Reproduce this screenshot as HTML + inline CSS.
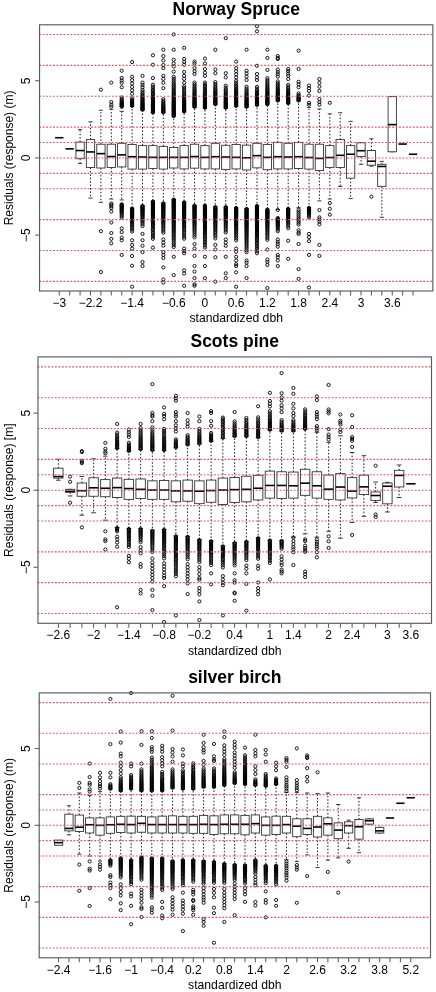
<!DOCTYPE html>
<html><head><meta charset="utf-8"><style>
html,body{margin:0;padding:0;background:#fff;width:436px;height:992px;overflow:hidden}
svg{display:block;font-family:"Liberation Sans", sans-serif;-webkit-font-smoothing:antialiased;will-change:transform}
</style></head><body>
<svg width="436" height="992" viewBox="0 0 436 992">
<g>
<path d="M80.09 142.06V129.55M80.09 158.73V163.36M90.5 139.59V121.83M90.5 167.53V198.1M100.9 144.22V110.25M100.9 167.99V202.27M111.31 144.22V109.32M111.31 167.53V199.03M121.71 143.29V111.33M121.71 166.91V199.96M132.12 144.53V106.39M132.12 169.08V208.14M142.52 145.61V110.25M142.52 169.08V205.51M152.93 145.61V112.87M152.93 168.46V201.04M163.33 146.38V112.87M163.33 169.08V202.89M173.74 147.46V116.58M173.74 167.99V199.18M184.14 145.61V111.95M184.14 168.92V201.96M194.54 144.22V107.32M194.54 168.15V205.21M204.95 145.61V108.24M204.95 168.92V205.21M215.35 143.29V104.69M215.35 168.92V206.59M225.76 145.3V108.24M225.76 169.38V206.59M236.16 144.53V106.39M236.16 168.92V207.52M246.57 145.14V107.32M246.57 170V208.45M256.98 143.29V105.46M256.98 167.84V205.51M267.38 144.53V104.69M267.38 169.69V209.22M277.78 142.36V100.99M277.78 168.92V209.53M288.19 143.29V103.61M288.19 168.92V208.45M298.6 142.36V100.99M298.6 168.46V207.68M309 144.22V107.47M309 169.08V207.52M319.4 144.22V109.01M319.4 170.47V200.88M329.81 145.61V113.95M329.81 167.53V199.03M340.22 139.59V112.72M340.22 167.53V186.37M350.62 145.61V121.37M350.62 178.19V198.41M361.02 142.83V142.52M361.02 156.57V164.29M371.43 150.55V138.81M371.43 165.22V166.14M381.84 164.29V161.36M381.84 186.37V217.25" stroke="#222" stroke-width="1" stroke-dasharray="1.6 1.8" fill="none"/>
<path d="M78.01 129.55H82.17M78.01 163.36H82.17M88.41 121.83H92.58M88.41 198.1H92.58M98.82 110.25H102.98M98.82 202.27H102.98M109.22 109.32H113.39M109.22 199.03H113.39M119.63 111.33H123.79M119.63 199.96H123.79M130.03 106.39H134.2M130.03 208.14H134.2M140.44 110.25H144.6M140.44 205.51H144.6M150.84 112.87H155.01M150.84 201.04H155.01M161.25 112.87H165.41M161.25 202.89H165.41M171.65 116.58H175.82M171.65 199.18H175.82M182.06 111.95H186.22M182.06 201.96H186.22M192.46 107.32H196.63M192.46 205.21H196.63M202.87 108.24H207.03M202.87 205.21H207.03M213.27 104.69H217.44M213.27 206.59H217.44M223.68 108.24H227.84M223.68 206.59H227.84M234.08 106.39H238.25M234.08 207.52H238.25M244.49 107.32H248.65M244.49 208.45H248.65M254.89 105.46H259.06M254.89 205.51H259.06M265.3 104.69H269.46M265.3 209.22H269.46M275.7 100.99H279.87M275.7 209.53H279.87M286.11 103.61H290.27M286.11 208.45H290.27M296.51 100.99H300.68M296.51 207.68H300.68M306.92 107.47H311.08M306.92 207.52H311.08M317.32 109.01H321.49M317.32 200.88H321.49M327.73 113.95H331.89M327.73 199.03H331.89M338.13 112.72H342.3M338.13 186.37H342.3M348.54 121.37H352.7M348.54 198.41H352.7M358.94 142.52H363.11M358.94 164.29H363.11M369.35 138.81H373.51M369.35 166.14H373.51M379.75 161.36H383.92M379.75 217.25H383.92M390.16 96.66H394.32M390.16 151.78H394.32" stroke="#222" stroke-width="0.9" fill="none"/>
<g fill="#fff" stroke="#333" stroke-width="0.9"><rect x="75.93" y="142.06" width="8.32" height="16.68"/><rect x="86.33" y="139.59" width="8.32" height="27.95"/><rect x="96.74" y="144.22" width="8.32" height="23.78"/><rect x="107.14" y="144.22" width="8.32" height="23.31"/><rect x="117.55" y="143.29" width="8.32" height="23.62"/><rect x="127.95" y="144.53" width="8.32" height="24.55"/><rect x="138.36" y="145.61" width="8.32" height="23.47"/><rect x="148.76" y="145.61" width="8.32" height="22.85"/><rect x="159.17" y="146.38" width="8.32" height="22.7"/><rect x="169.57" y="147.46" width="8.32" height="20.54"/><rect x="179.98" y="145.61" width="8.32" height="23.31"/><rect x="190.38" y="144.22" width="8.32" height="23.93"/><rect x="200.79" y="145.61" width="8.32" height="23.31"/><rect x="211.19" y="143.29" width="8.32" height="25.63"/><rect x="221.6" y="145.3" width="8.32" height="24.09"/><rect x="232" y="144.53" width="8.32" height="24.4"/><rect x="242.41" y="145.14" width="8.32" height="24.86"/><rect x="252.81" y="143.29" width="8.32" height="24.55"/><rect x="263.22" y="144.53" width="8.32" height="25.17"/><rect x="273.62" y="142.36" width="8.32" height="26.56"/><rect x="284.03" y="143.29" width="8.32" height="25.63"/><rect x="294.43" y="142.36" width="8.32" height="26.09"/><rect x="304.84" y="144.22" width="8.32" height="24.86"/><rect x="315.24" y="144.22" width="8.32" height="26.25"/><rect x="325.65" y="145.61" width="8.32" height="21.92"/><rect x="336.05" y="139.59" width="8.32" height="27.95"/><rect x="346.46" y="145.61" width="8.32" height="32.58"/><rect x="356.86" y="142.83" width="8.32" height="13.74"/><rect x="367.27" y="150.55" width="8.32" height="14.67"/><rect x="377.67" y="164.29" width="8.32" height="22.08"/><rect x="388.08" y="96.66" width="8.32" height="55.12"/></g>
<g stroke="#000" stroke-width="1.6"><line x1="55.12" y1="137.73" x2="63.44" y2="137.73"/><line x1="65.52" y1="148.85" x2="73.85" y2="148.85"/><line x1="75.93" y1="150.55" x2="84.25" y2="150.55"/><line x1="86.33" y1="151.94" x2="94.66" y2="151.94"/><line x1="96.74" y1="153.64" x2="105.06" y2="153.64"/><line x1="107.14" y1="156.57" x2="115.47" y2="156.57"/><line x1="117.55" y1="154.87" x2="125.87" y2="154.87"/><line x1="127.95" y1="156.72" x2="136.28" y2="156.72"/><line x1="138.36" y1="157.03" x2="146.68" y2="157.03"/><line x1="148.76" y1="157.34" x2="157.09" y2="157.34"/><line x1="159.17" y1="157.34" x2="167.49" y2="157.34"/><line x1="169.57" y1="157.34" x2="177.9" y2="157.34"/><line x1="179.98" y1="157.34" x2="188.3" y2="157.34"/><line x1="190.38" y1="156.57" x2="198.71" y2="156.57"/><line x1="200.79" y1="157.34" x2="209.11" y2="157.34"/><line x1="211.19" y1="156.72" x2="219.52" y2="156.72"/><line x1="221.6" y1="157.03" x2="229.92" y2="157.03"/><line x1="232" y1="157.34" x2="240.33" y2="157.34"/><line x1="242.41" y1="157.8" x2="250.73" y2="157.8"/><line x1="252.81" y1="155.64" x2="261.14" y2="155.64"/><line x1="263.22" y1="157.34" x2="271.54" y2="157.34"/><line x1="273.62" y1="156.72" x2="281.95" y2="156.72"/><line x1="284.03" y1="157.03" x2="292.35" y2="157.03"/><line x1="294.43" y1="156.72" x2="302.76" y2="156.72"/><line x1="304.84" y1="157.5" x2="313.16" y2="157.5"/><line x1="315.24" y1="158.42" x2="323.57" y2="158.42"/><line x1="325.65" y1="157.5" x2="333.97" y2="157.5"/><line x1="336.05" y1="155.33" x2="344.38" y2="155.33"/><line x1="346.46" y1="154.25" x2="354.78" y2="154.25"/><line x1="356.86" y1="150.7" x2="365.19" y2="150.7"/><line x1="367.27" y1="161.2" x2="375.59" y2="161.2"/><line x1="377.67" y1="166.45" x2="386" y2="166.45"/><line x1="388.08" y1="124.61" x2="396.4" y2="124.61"/><line x1="398.48" y1="144.06" x2="406.81" y2="144.06"/><line x1="408.89" y1="154.25" x2="417.21" y2="154.25"/></g>
<path d="M99.3 89.71a1.6 1.6 0 1 0 3.2 0a1.6 1.6 0 1 0 -3.2 0M99.3 231.14a1.6 1.6 0 1 0 3.2 0a1.6 1.6 0 1 0 -3.2 0M99.3 272.06a1.6 1.6 0 1 0 3.2 0a1.6 1.6 0 1 0 -3.2 0M109.71 82.61a1.6 1.6 0 1 0 3.2 0a1.6 1.6 0 1 0 -3.2 0M109.71 102.07a1.6 1.6 0 1 0 3.2 0a1.6 1.6 0 1 0 -3.2 0M109.71 104.69a1.6 1.6 0 1 0 3.2 0a1.6 1.6 0 1 0 -3.2 0M109.71 106.7a1.6 1.6 0 1 0 3.2 0a1.6 1.6 0 1 0 -3.2 0M109.71 203.51a1.6 1.6 0 1 0 3.2 0a1.6 1.6 0 1 0 -3.2 0M109.71 204.74a1.6 1.6 0 1 0 3.2 0a1.6 1.6 0 1 0 -3.2 0M109.71 206.29a1.6 1.6 0 1 0 3.2 0a1.6 1.6 0 1 0 -3.2 0M109.71 208.14a1.6 1.6 0 1 0 3.2 0a1.6 1.6 0 1 0 -3.2 0M109.71 211.54a1.6 1.6 0 1 0 3.2 0a1.6 1.6 0 1 0 -3.2 0M109.71 222.5a1.6 1.6 0 1 0 3.2 0a1.6 1.6 0 1 0 -3.2 0M109.71 233a1.6 1.6 0 1 0 3.2 0a1.6 1.6 0 1 0 -3.2 0M109.71 238.86a1.6 1.6 0 1 0 3.2 0a1.6 1.6 0 1 0 -3.2 0M109.71 243.34a1.6 1.6 0 1 0 3.2 0a1.6 1.6 0 1 0 -3.2 0M120.11 70.72a1.6 1.6 0 1 0 3.2 0a1.6 1.6 0 1 0 -3.2 0M120.11 77.98a1.6 1.6 0 1 0 3.2 0a1.6 1.6 0 1 0 -3.2 0M120.11 80.45a1.6 1.6 0 1 0 3.2 0a1.6 1.6 0 1 0 -3.2 0M120.11 82.77a1.6 1.6 0 1 0 3.2 0a1.6 1.6 0 1 0 -3.2 0M120.11 87.24a1.6 1.6 0 1 0 3.2 0a1.6 1.6 0 1 0 -3.2 0M120.11 106.85a1.6 1.6 0 1 0 3.2 0a1.6 1.6 0 1 0 -3.2 0M120.11 106.25a1.6 1.6 0 1 0 3.2 0a1.6 1.6 0 1 0 -3.2 0M120.11 105.65a1.6 1.6 0 1 0 3.2 0a1.6 1.6 0 1 0 -3.2 0M120.11 105.03a1.6 1.6 0 1 0 3.2 0a1.6 1.6 0 1 0 -3.2 0M120.11 104.38a1.6 1.6 0 1 0 3.2 0a1.6 1.6 0 1 0 -3.2 0M120.11 103.69a1.6 1.6 0 1 0 3.2 0a1.6 1.6 0 1 0 -3.2 0M120.11 102.95a1.6 1.6 0 1 0 3.2 0a1.6 1.6 0 1 0 -3.2 0M120.11 102.14a1.6 1.6 0 1 0 3.2 0a1.6 1.6 0 1 0 -3.2 0M120.11 101.23a1.6 1.6 0 1 0 3.2 0a1.6 1.6 0 1 0 -3.2 0M120.11 100.18a1.6 1.6 0 1 0 3.2 0a1.6 1.6 0 1 0 -3.2 0M120.11 98.95a1.6 1.6 0 1 0 3.2 0a1.6 1.6 0 1 0 -3.2 0M120.11 97.47a1.6 1.6 0 1 0 3.2 0a1.6 1.6 0 1 0 -3.2 0M120.11 204.28a1.6 1.6 0 1 0 3.2 0a1.6 1.6 0 1 0 -3.2 0M120.11 204.88a1.6 1.6 0 1 0 3.2 0a1.6 1.6 0 1 0 -3.2 0M120.11 205.48a1.6 1.6 0 1 0 3.2 0a1.6 1.6 0 1 0 -3.2 0M120.11 206.09a1.6 1.6 0 1 0 3.2 0a1.6 1.6 0 1 0 -3.2 0M120.11 206.72a1.6 1.6 0 1 0 3.2 0a1.6 1.6 0 1 0 -3.2 0M120.11 207.37a1.6 1.6 0 1 0 3.2 0a1.6 1.6 0 1 0 -3.2 0M120.11 208.04a1.6 1.6 0 1 0 3.2 0a1.6 1.6 0 1 0 -3.2 0M120.11 208.75a1.6 1.6 0 1 0 3.2 0a1.6 1.6 0 1 0 -3.2 0M120.11 209.51a1.6 1.6 0 1 0 3.2 0a1.6 1.6 0 1 0 -3.2 0M120.11 210.33a1.6 1.6 0 1 0 3.2 0a1.6 1.6 0 1 0 -3.2 0M120.11 211.22a1.6 1.6 0 1 0 3.2 0a1.6 1.6 0 1 0 -3.2 0M120.11 212.2a1.6 1.6 0 1 0 3.2 0a1.6 1.6 0 1 0 -3.2 0M120.11 213.3a1.6 1.6 0 1 0 3.2 0a1.6 1.6 0 1 0 -3.2 0M120.11 214.55a1.6 1.6 0 1 0 3.2 0a1.6 1.6 0 1 0 -3.2 0M120.11 215.98a1.6 1.6 0 1 0 3.2 0a1.6 1.6 0 1 0 -3.2 0M120.11 217.67a1.6 1.6 0 1 0 3.2 0a1.6 1.6 0 1 0 -3.2 0M120.11 228.37a1.6 1.6 0 1 0 3.2 0a1.6 1.6 0 1 0 -3.2 0M120.11 232.07a1.6 1.6 0 1 0 3.2 0a1.6 1.6 0 1 0 -3.2 0M120.11 237.63a1.6 1.6 0 1 0 3.2 0a1.6 1.6 0 1 0 -3.2 0M120.11 240.25a1.6 1.6 0 1 0 3.2 0a1.6 1.6 0 1 0 -3.2 0M120.11 254.92a1.6 1.6 0 1 0 3.2 0a1.6 1.6 0 1 0 -3.2 0M130.52 62.08a1.6 1.6 0 1 0 3.2 0a1.6 1.6 0 1 0 -3.2 0M130.52 93.73a1.6 1.6 0 1 0 3.2 0a1.6 1.6 0 1 0 -3.2 0M130.52 90.33a1.6 1.6 0 1 0 3.2 0a1.6 1.6 0 1 0 -3.2 0M130.52 86.93a1.6 1.6 0 1 0 3.2 0a1.6 1.6 0 1 0 -3.2 0M130.52 83.54a1.6 1.6 0 1 0 3.2 0a1.6 1.6 0 1 0 -3.2 0M130.52 80.14a1.6 1.6 0 1 0 3.2 0a1.6 1.6 0 1 0 -3.2 0M130.52 76.74a1.6 1.6 0 1 0 3.2 0a1.6 1.6 0 1 0 -3.2 0M130.52 105.93a1.6 1.6 0 1 0 3.2 0a1.6 1.6 0 1 0 -3.2 0M130.52 105.33a1.6 1.6 0 1 0 3.2 0a1.6 1.6 0 1 0 -3.2 0M130.52 104.72a1.6 1.6 0 1 0 3.2 0a1.6 1.6 0 1 0 -3.2 0M130.52 104.09a1.6 1.6 0 1 0 3.2 0a1.6 1.6 0 1 0 -3.2 0M130.52 103.42a1.6 1.6 0 1 0 3.2 0a1.6 1.6 0 1 0 -3.2 0M130.52 102.69a1.6 1.6 0 1 0 3.2 0a1.6 1.6 0 1 0 -3.2 0M130.52 101.87a1.6 1.6 0 1 0 3.2 0a1.6 1.6 0 1 0 -3.2 0M130.52 100.93a1.6 1.6 0 1 0 3.2 0a1.6 1.6 0 1 0 -3.2 0M130.52 99.82a1.6 1.6 0 1 0 3.2 0a1.6 1.6 0 1 0 -3.2 0M130.52 98.45a1.6 1.6 0 1 0 3.2 0a1.6 1.6 0 1 0 -3.2 0M130.52 208.6a1.6 1.6 0 1 0 3.2 0a1.6 1.6 0 1 0 -3.2 0M130.52 209.2a1.6 1.6 0 1 0 3.2 0a1.6 1.6 0 1 0 -3.2 0M130.52 209.8a1.6 1.6 0 1 0 3.2 0a1.6 1.6 0 1 0 -3.2 0M130.52 210.41a1.6 1.6 0 1 0 3.2 0a1.6 1.6 0 1 0 -3.2 0M130.52 211.02a1.6 1.6 0 1 0 3.2 0a1.6 1.6 0 1 0 -3.2 0M130.52 211.63a1.6 1.6 0 1 0 3.2 0a1.6 1.6 0 1 0 -3.2 0M130.52 212.26a1.6 1.6 0 1 0 3.2 0a1.6 1.6 0 1 0 -3.2 0M130.52 212.9a1.6 1.6 0 1 0 3.2 0a1.6 1.6 0 1 0 -3.2 0M130.52 213.55a1.6 1.6 0 1 0 3.2 0a1.6 1.6 0 1 0 -3.2 0M130.52 214.22a1.6 1.6 0 1 0 3.2 0a1.6 1.6 0 1 0 -3.2 0M130.52 214.91a1.6 1.6 0 1 0 3.2 0a1.6 1.6 0 1 0 -3.2 0M130.52 215.62a1.6 1.6 0 1 0 3.2 0a1.6 1.6 0 1 0 -3.2 0M130.52 216.36a1.6 1.6 0 1 0 3.2 0a1.6 1.6 0 1 0 -3.2 0M130.52 217.13a1.6 1.6 0 1 0 3.2 0a1.6 1.6 0 1 0 -3.2 0M130.52 217.94a1.6 1.6 0 1 0 3.2 0a1.6 1.6 0 1 0 -3.2 0M130.52 218.78a1.6 1.6 0 1 0 3.2 0a1.6 1.6 0 1 0 -3.2 0M130.52 219.68a1.6 1.6 0 1 0 3.2 0a1.6 1.6 0 1 0 -3.2 0M130.52 220.62a1.6 1.6 0 1 0 3.2 0a1.6 1.6 0 1 0 -3.2 0M130.52 221.63a1.6 1.6 0 1 0 3.2 0a1.6 1.6 0 1 0 -3.2 0M130.52 222.71a1.6 1.6 0 1 0 3.2 0a1.6 1.6 0 1 0 -3.2 0M130.52 223.87a1.6 1.6 0 1 0 3.2 0a1.6 1.6 0 1 0 -3.2 0M130.52 225.13a1.6 1.6 0 1 0 3.2 0a1.6 1.6 0 1 0 -3.2 0M130.52 226.51a1.6 1.6 0 1 0 3.2 0a1.6 1.6 0 1 0 -3.2 0M130.52 228.02a1.6 1.6 0 1 0 3.2 0a1.6 1.6 0 1 0 -3.2 0M130.52 229.68a1.6 1.6 0 1 0 3.2 0a1.6 1.6 0 1 0 -3.2 0M130.52 231.54a1.6 1.6 0 1 0 3.2 0a1.6 1.6 0 1 0 -3.2 0M130.52 240.25a1.6 1.6 0 1 0 3.2 0a1.6 1.6 0 1 0 -3.2 0M130.52 244.89a1.6 1.6 0 1 0 3.2 0a1.6 1.6 0 1 0 -3.2 0M130.52 248.59a1.6 1.6 0 1 0 3.2 0a1.6 1.6 0 1 0 -3.2 0M130.52 256a1.6 1.6 0 1 0 3.2 0a1.6 1.6 0 1 0 -3.2 0M130.52 265.73a1.6 1.6 0 1 0 3.2 0a1.6 1.6 0 1 0 -3.2 0M130.52 286.73a1.6 1.6 0 1 0 3.2 0a1.6 1.6 0 1 0 -3.2 0M140.92 75.82a1.6 1.6 0 1 0 3.2 0a1.6 1.6 0 1 0 -3.2 0M140.92 87.24a1.6 1.6 0 1 0 3.2 0a1.6 1.6 0 1 0 -3.2 0M140.92 84.93a1.6 1.6 0 1 0 3.2 0a1.6 1.6 0 1 0 -3.2 0M140.92 82.61a1.6 1.6 0 1 0 3.2 0a1.6 1.6 0 1 0 -3.2 0M140.92 109.79a1.6 1.6 0 1 0 3.2 0a1.6 1.6 0 1 0 -3.2 0M140.92 109.19a1.6 1.6 0 1 0 3.2 0a1.6 1.6 0 1 0 -3.2 0M140.92 108.58a1.6 1.6 0 1 0 3.2 0a1.6 1.6 0 1 0 -3.2 0M140.92 107.98a1.6 1.6 0 1 0 3.2 0a1.6 1.6 0 1 0 -3.2 0M140.92 107.37a1.6 1.6 0 1 0 3.2 0a1.6 1.6 0 1 0 -3.2 0M140.92 106.75a1.6 1.6 0 1 0 3.2 0a1.6 1.6 0 1 0 -3.2 0M140.92 106.11a1.6 1.6 0 1 0 3.2 0a1.6 1.6 0 1 0 -3.2 0M140.92 105.46a1.6 1.6 0 1 0 3.2 0a1.6 1.6 0 1 0 -3.2 0M140.92 104.8a1.6 1.6 0 1 0 3.2 0a1.6 1.6 0 1 0 -3.2 0M140.92 104.11a1.6 1.6 0 1 0 3.2 0a1.6 1.6 0 1 0 -3.2 0M140.92 103.39a1.6 1.6 0 1 0 3.2 0a1.6 1.6 0 1 0 -3.2 0M140.92 102.64a1.6 1.6 0 1 0 3.2 0a1.6 1.6 0 1 0 -3.2 0M140.92 101.85a1.6 1.6 0 1 0 3.2 0a1.6 1.6 0 1 0 -3.2 0M140.92 101.03a1.6 1.6 0 1 0 3.2 0a1.6 1.6 0 1 0 -3.2 0M140.92 100.15a1.6 1.6 0 1 0 3.2 0a1.6 1.6 0 1 0 -3.2 0M140.92 99.21a1.6 1.6 0 1 0 3.2 0a1.6 1.6 0 1 0 -3.2 0M140.92 98.21a1.6 1.6 0 1 0 3.2 0a1.6 1.6 0 1 0 -3.2 0M140.92 97.12a1.6 1.6 0 1 0 3.2 0a1.6 1.6 0 1 0 -3.2 0M140.92 95.94a1.6 1.6 0 1 0 3.2 0a1.6 1.6 0 1 0 -3.2 0M140.92 94.64a1.6 1.6 0 1 0 3.2 0a1.6 1.6 0 1 0 -3.2 0M140.92 93.21a1.6 1.6 0 1 0 3.2 0a1.6 1.6 0 1 0 -3.2 0M140.92 91.61a1.6 1.6 0 1 0 3.2 0a1.6 1.6 0 1 0 -3.2 0M140.92 89.81a1.6 1.6 0 1 0 3.2 0a1.6 1.6 0 1 0 -3.2 0M140.92 205.98a1.6 1.6 0 1 0 3.2 0a1.6 1.6 0 1 0 -3.2 0M140.92 206.58a1.6 1.6 0 1 0 3.2 0a1.6 1.6 0 1 0 -3.2 0M140.92 207.18a1.6 1.6 0 1 0 3.2 0a1.6 1.6 0 1 0 -3.2 0M140.92 207.78a1.6 1.6 0 1 0 3.2 0a1.6 1.6 0 1 0 -3.2 0M140.92 208.4a1.6 1.6 0 1 0 3.2 0a1.6 1.6 0 1 0 -3.2 0M140.92 209.02a1.6 1.6 0 1 0 3.2 0a1.6 1.6 0 1 0 -3.2 0M140.92 209.65a1.6 1.6 0 1 0 3.2 0a1.6 1.6 0 1 0 -3.2 0M140.92 210.3a1.6 1.6 0 1 0 3.2 0a1.6 1.6 0 1 0 -3.2 0M140.92 210.97a1.6 1.6 0 1 0 3.2 0a1.6 1.6 0 1 0 -3.2 0M140.92 211.66a1.6 1.6 0 1 0 3.2 0a1.6 1.6 0 1 0 -3.2 0M140.92 212.38a1.6 1.6 0 1 0 3.2 0a1.6 1.6 0 1 0 -3.2 0M140.92 213.13a1.6 1.6 0 1 0 3.2 0a1.6 1.6 0 1 0 -3.2 0M140.92 213.92a1.6 1.6 0 1 0 3.2 0a1.6 1.6 0 1 0 -3.2 0M140.92 214.75a1.6 1.6 0 1 0 3.2 0a1.6 1.6 0 1 0 -3.2 0M140.92 215.64a1.6 1.6 0 1 0 3.2 0a1.6 1.6 0 1 0 -3.2 0M140.92 216.58a1.6 1.6 0 1 0 3.2 0a1.6 1.6 0 1 0 -3.2 0M140.92 217.59a1.6 1.6 0 1 0 3.2 0a1.6 1.6 0 1 0 -3.2 0M140.92 218.69a1.6 1.6 0 1 0 3.2 0a1.6 1.6 0 1 0 -3.2 0M140.92 219.89a1.6 1.6 0 1 0 3.2 0a1.6 1.6 0 1 0 -3.2 0M140.92 221.2a1.6 1.6 0 1 0 3.2 0a1.6 1.6 0 1 0 -3.2 0M140.92 222.65a1.6 1.6 0 1 0 3.2 0a1.6 1.6 0 1 0 -3.2 0M140.92 224.28a1.6 1.6 0 1 0 3.2 0a1.6 1.6 0 1 0 -3.2 0M140.92 226.11a1.6 1.6 0 1 0 3.2 0a1.6 1.6 0 1 0 -3.2 0M140.92 233.92a1.6 1.6 0 1 0 3.2 0a1.6 1.6 0 1 0 -3.2 0M140.92 240.25a1.6 1.6 0 1 0 3.2 0a1.6 1.6 0 1 0 -3.2 0M140.92 245.81a1.6 1.6 0 1 0 3.2 0a1.6 1.6 0 1 0 -3.2 0M140.92 252.14a1.6 1.6 0 1 0 3.2 0a1.6 1.6 0 1 0 -3.2 0M140.92 262.02a1.6 1.6 0 1 0 3.2 0a1.6 1.6 0 1 0 -3.2 0M140.92 266.04a1.6 1.6 0 1 0 3.2 0a1.6 1.6 0 1 0 -3.2 0M151.33 55.28a1.6 1.6 0 1 0 3.2 0a1.6 1.6 0 1 0 -3.2 0M151.33 64.7a1.6 1.6 0 1 0 3.2 0a1.6 1.6 0 1 0 -3.2 0M151.33 78.13a1.6 1.6 0 1 0 3.2 0a1.6 1.6 0 1 0 -3.2 0M151.33 112.41a1.6 1.6 0 1 0 3.2 0a1.6 1.6 0 1 0 -3.2 0M151.33 111.81a1.6 1.6 0 1 0 3.2 0a1.6 1.6 0 1 0 -3.2 0M151.33 111.21a1.6 1.6 0 1 0 3.2 0a1.6 1.6 0 1 0 -3.2 0M151.33 110.61a1.6 1.6 0 1 0 3.2 0a1.6 1.6 0 1 0 -3.2 0M151.33 110a1.6 1.6 0 1 0 3.2 0a1.6 1.6 0 1 0 -3.2 0M151.33 109.39a1.6 1.6 0 1 0 3.2 0a1.6 1.6 0 1 0 -3.2 0M151.33 108.77a1.6 1.6 0 1 0 3.2 0a1.6 1.6 0 1 0 -3.2 0M151.33 108.15a1.6 1.6 0 1 0 3.2 0a1.6 1.6 0 1 0 -3.2 0M151.33 107.51a1.6 1.6 0 1 0 3.2 0a1.6 1.6 0 1 0 -3.2 0M151.33 106.86a1.6 1.6 0 1 0 3.2 0a1.6 1.6 0 1 0 -3.2 0M151.33 106.2a1.6 1.6 0 1 0 3.2 0a1.6 1.6 0 1 0 -3.2 0M151.33 105.53a1.6 1.6 0 1 0 3.2 0a1.6 1.6 0 1 0 -3.2 0M151.33 104.83a1.6 1.6 0 1 0 3.2 0a1.6 1.6 0 1 0 -3.2 0M151.33 104.12a1.6 1.6 0 1 0 3.2 0a1.6 1.6 0 1 0 -3.2 0M151.33 103.39a1.6 1.6 0 1 0 3.2 0a1.6 1.6 0 1 0 -3.2 0M151.33 102.63a1.6 1.6 0 1 0 3.2 0a1.6 1.6 0 1 0 -3.2 0M151.33 101.84a1.6 1.6 0 1 0 3.2 0a1.6 1.6 0 1 0 -3.2 0M151.33 101.02a1.6 1.6 0 1 0 3.2 0a1.6 1.6 0 1 0 -3.2 0M151.33 100.17a1.6 1.6 0 1 0 3.2 0a1.6 1.6 0 1 0 -3.2 0M151.33 99.27a1.6 1.6 0 1 0 3.2 0a1.6 1.6 0 1 0 -3.2 0M151.33 98.33a1.6 1.6 0 1 0 3.2 0a1.6 1.6 0 1 0 -3.2 0M151.33 97.34a1.6 1.6 0 1 0 3.2 0a1.6 1.6 0 1 0 -3.2 0M151.33 96.3a1.6 1.6 0 1 0 3.2 0a1.6 1.6 0 1 0 -3.2 0M151.33 95.19a1.6 1.6 0 1 0 3.2 0a1.6 1.6 0 1 0 -3.2 0M151.33 94.01a1.6 1.6 0 1 0 3.2 0a1.6 1.6 0 1 0 -3.2 0M151.33 92.74a1.6 1.6 0 1 0 3.2 0a1.6 1.6 0 1 0 -3.2 0M151.33 91.39a1.6 1.6 0 1 0 3.2 0a1.6 1.6 0 1 0 -3.2 0M151.33 89.92a1.6 1.6 0 1 0 3.2 0a1.6 1.6 0 1 0 -3.2 0M151.33 88.33a1.6 1.6 0 1 0 3.2 0a1.6 1.6 0 1 0 -3.2 0M151.33 86.59a1.6 1.6 0 1 0 3.2 0a1.6 1.6 0 1 0 -3.2 0M151.33 84.68a1.6 1.6 0 1 0 3.2 0a1.6 1.6 0 1 0 -3.2 0M151.33 201.5a1.6 1.6 0 1 0 3.2 0a1.6 1.6 0 1 0 -3.2 0M151.33 202.1a1.6 1.6 0 1 0 3.2 0a1.6 1.6 0 1 0 -3.2 0M151.33 202.7a1.6 1.6 0 1 0 3.2 0a1.6 1.6 0 1 0 -3.2 0M151.33 203.3a1.6 1.6 0 1 0 3.2 0a1.6 1.6 0 1 0 -3.2 0M151.33 203.91a1.6 1.6 0 1 0 3.2 0a1.6 1.6 0 1 0 -3.2 0M151.33 204.51a1.6 1.6 0 1 0 3.2 0a1.6 1.6 0 1 0 -3.2 0M151.33 205.12a1.6 1.6 0 1 0 3.2 0a1.6 1.6 0 1 0 -3.2 0M151.33 205.74a1.6 1.6 0 1 0 3.2 0a1.6 1.6 0 1 0 -3.2 0M151.33 206.36a1.6 1.6 0 1 0 3.2 0a1.6 1.6 0 1 0 -3.2 0M151.33 206.98a1.6 1.6 0 1 0 3.2 0a1.6 1.6 0 1 0 -3.2 0M151.33 207.61a1.6 1.6 0 1 0 3.2 0a1.6 1.6 0 1 0 -3.2 0M151.33 208.26a1.6 1.6 0 1 0 3.2 0a1.6 1.6 0 1 0 -3.2 0M151.33 208.91a1.6 1.6 0 1 0 3.2 0a1.6 1.6 0 1 0 -3.2 0M151.33 209.57a1.6 1.6 0 1 0 3.2 0a1.6 1.6 0 1 0 -3.2 0M151.33 210.24a1.6 1.6 0 1 0 3.2 0a1.6 1.6 0 1 0 -3.2 0M151.33 210.92a1.6 1.6 0 1 0 3.2 0a1.6 1.6 0 1 0 -3.2 0M151.33 211.62a1.6 1.6 0 1 0 3.2 0a1.6 1.6 0 1 0 -3.2 0M151.33 212.33a1.6 1.6 0 1 0 3.2 0a1.6 1.6 0 1 0 -3.2 0M151.33 213.06a1.6 1.6 0 1 0 3.2 0a1.6 1.6 0 1 0 -3.2 0M151.33 213.81a1.6 1.6 0 1 0 3.2 0a1.6 1.6 0 1 0 -3.2 0M151.33 214.58a1.6 1.6 0 1 0 3.2 0a1.6 1.6 0 1 0 -3.2 0M151.33 215.36a1.6 1.6 0 1 0 3.2 0a1.6 1.6 0 1 0 -3.2 0M151.33 216.17a1.6 1.6 0 1 0 3.2 0a1.6 1.6 0 1 0 -3.2 0M151.33 217.01a1.6 1.6 0 1 0 3.2 0a1.6 1.6 0 1 0 -3.2 0M151.33 217.88a1.6 1.6 0 1 0 3.2 0a1.6 1.6 0 1 0 -3.2 0M151.33 218.77a1.6 1.6 0 1 0 3.2 0a1.6 1.6 0 1 0 -3.2 0M151.33 219.7a1.6 1.6 0 1 0 3.2 0a1.6 1.6 0 1 0 -3.2 0M151.33 220.66a1.6 1.6 0 1 0 3.2 0a1.6 1.6 0 1 0 -3.2 0M151.33 221.67a1.6 1.6 0 1 0 3.2 0a1.6 1.6 0 1 0 -3.2 0M151.33 222.72a1.6 1.6 0 1 0 3.2 0a1.6 1.6 0 1 0 -3.2 0M151.33 223.81a1.6 1.6 0 1 0 3.2 0a1.6 1.6 0 1 0 -3.2 0M151.33 224.96a1.6 1.6 0 1 0 3.2 0a1.6 1.6 0 1 0 -3.2 0M151.33 226.16a1.6 1.6 0 1 0 3.2 0a1.6 1.6 0 1 0 -3.2 0M151.33 227.43a1.6 1.6 0 1 0 3.2 0a1.6 1.6 0 1 0 -3.2 0M151.33 228.77a1.6 1.6 0 1 0 3.2 0a1.6 1.6 0 1 0 -3.2 0M151.33 230.19a1.6 1.6 0 1 0 3.2 0a1.6 1.6 0 1 0 -3.2 0M151.33 231.7a1.6 1.6 0 1 0 3.2 0a1.6 1.6 0 1 0 -3.2 0M151.33 233.3a1.6 1.6 0 1 0 3.2 0a1.6 1.6 0 1 0 -3.2 0M151.33 235.01a1.6 1.6 0 1 0 3.2 0a1.6 1.6 0 1 0 -3.2 0M151.33 236.85a1.6 1.6 0 1 0 3.2 0a1.6 1.6 0 1 0 -3.2 0M151.33 238.82a1.6 1.6 0 1 0 3.2 0a1.6 1.6 0 1 0 -3.2 0M151.33 247.67a1.6 1.6 0 1 0 3.2 0a1.6 1.6 0 1 0 -3.2 0M161.73 49.72a1.6 1.6 0 1 0 3.2 0a1.6 1.6 0 1 0 -3.2 0M161.73 56.05a1.6 1.6 0 1 0 3.2 0a1.6 1.6 0 1 0 -3.2 0M161.73 60.38a1.6 1.6 0 1 0 3.2 0a1.6 1.6 0 1 0 -3.2 0M161.73 65.01a1.6 1.6 0 1 0 3.2 0a1.6 1.6 0 1 0 -3.2 0M161.73 68.1a1.6 1.6 0 1 0 3.2 0a1.6 1.6 0 1 0 -3.2 0M161.73 75.82a1.6 1.6 0 1 0 3.2 0a1.6 1.6 0 1 0 -3.2 0M161.73 78.91a1.6 1.6 0 1 0 3.2 0a1.6 1.6 0 1 0 -3.2 0M161.73 82.77a1.6 1.6 0 1 0 3.2 0a1.6 1.6 0 1 0 -3.2 0M161.73 88.17a1.6 1.6 0 1 0 3.2 0a1.6 1.6 0 1 0 -3.2 0M161.73 112.41a1.6 1.6 0 1 0 3.2 0a1.6 1.6 0 1 0 -3.2 0M161.73 111.81a1.6 1.6 0 1 0 3.2 0a1.6 1.6 0 1 0 -3.2 0M161.73 111.21a1.6 1.6 0 1 0 3.2 0a1.6 1.6 0 1 0 -3.2 0M161.73 110.6a1.6 1.6 0 1 0 3.2 0a1.6 1.6 0 1 0 -3.2 0M161.73 109.97a1.6 1.6 0 1 0 3.2 0a1.6 1.6 0 1 0 -3.2 0M161.73 109.33a1.6 1.6 0 1 0 3.2 0a1.6 1.6 0 1 0 -3.2 0M161.73 108.65a1.6 1.6 0 1 0 3.2 0a1.6 1.6 0 1 0 -3.2 0M161.73 107.94a1.6 1.6 0 1 0 3.2 0a1.6 1.6 0 1 0 -3.2 0M161.73 107.19a1.6 1.6 0 1 0 3.2 0a1.6 1.6 0 1 0 -3.2 0M161.73 106.37a1.6 1.6 0 1 0 3.2 0a1.6 1.6 0 1 0 -3.2 0M161.73 105.49a1.6 1.6 0 1 0 3.2 0a1.6 1.6 0 1 0 -3.2 0M161.73 104.52a1.6 1.6 0 1 0 3.2 0a1.6 1.6 0 1 0 -3.2 0M161.73 103.44a1.6 1.6 0 1 0 3.2 0a1.6 1.6 0 1 0 -3.2 0M161.73 102.21a1.6 1.6 0 1 0 3.2 0a1.6 1.6 0 1 0 -3.2 0M161.73 100.81a1.6 1.6 0 1 0 3.2 0a1.6 1.6 0 1 0 -3.2 0M161.73 99.16a1.6 1.6 0 1 0 3.2 0a1.6 1.6 0 1 0 -3.2 0M161.73 203.35a1.6 1.6 0 1 0 3.2 0a1.6 1.6 0 1 0 -3.2 0M161.73 203.95a1.6 1.6 0 1 0 3.2 0a1.6 1.6 0 1 0 -3.2 0M161.73 204.55a1.6 1.6 0 1 0 3.2 0a1.6 1.6 0 1 0 -3.2 0M161.73 205.16a1.6 1.6 0 1 0 3.2 0a1.6 1.6 0 1 0 -3.2 0M161.73 205.76a1.6 1.6 0 1 0 3.2 0a1.6 1.6 0 1 0 -3.2 0M161.73 206.37a1.6 1.6 0 1 0 3.2 0a1.6 1.6 0 1 0 -3.2 0M161.73 206.99a1.6 1.6 0 1 0 3.2 0a1.6 1.6 0 1 0 -3.2 0M161.73 207.61a1.6 1.6 0 1 0 3.2 0a1.6 1.6 0 1 0 -3.2 0M161.73 208.24a1.6 1.6 0 1 0 3.2 0a1.6 1.6 0 1 0 -3.2 0M161.73 208.88a1.6 1.6 0 1 0 3.2 0a1.6 1.6 0 1 0 -3.2 0M161.73 209.53a1.6 1.6 0 1 0 3.2 0a1.6 1.6 0 1 0 -3.2 0M161.73 210.2a1.6 1.6 0 1 0 3.2 0a1.6 1.6 0 1 0 -3.2 0M161.73 210.88a1.6 1.6 0 1 0 3.2 0a1.6 1.6 0 1 0 -3.2 0M161.73 211.57a1.6 1.6 0 1 0 3.2 0a1.6 1.6 0 1 0 -3.2 0M161.73 212.29a1.6 1.6 0 1 0 3.2 0a1.6 1.6 0 1 0 -3.2 0M161.73 213.02a1.6 1.6 0 1 0 3.2 0a1.6 1.6 0 1 0 -3.2 0M161.73 213.78a1.6 1.6 0 1 0 3.2 0a1.6 1.6 0 1 0 -3.2 0M161.73 214.56a1.6 1.6 0 1 0 3.2 0a1.6 1.6 0 1 0 -3.2 0M161.73 215.38a1.6 1.6 0 1 0 3.2 0a1.6 1.6 0 1 0 -3.2 0M161.73 216.22a1.6 1.6 0 1 0 3.2 0a1.6 1.6 0 1 0 -3.2 0M161.73 217.1a1.6 1.6 0 1 0 3.2 0a1.6 1.6 0 1 0 -3.2 0M161.73 218.02a1.6 1.6 0 1 0 3.2 0a1.6 1.6 0 1 0 -3.2 0M161.73 218.99a1.6 1.6 0 1 0 3.2 0a1.6 1.6 0 1 0 -3.2 0M161.73 220a1.6 1.6 0 1 0 3.2 0a1.6 1.6 0 1 0 -3.2 0M161.73 221.07a1.6 1.6 0 1 0 3.2 0a1.6 1.6 0 1 0 -3.2 0M161.73 222.2a1.6 1.6 0 1 0 3.2 0a1.6 1.6 0 1 0 -3.2 0M161.73 223.41a1.6 1.6 0 1 0 3.2 0a1.6 1.6 0 1 0 -3.2 0M161.73 224.69a1.6 1.6 0 1 0 3.2 0a1.6 1.6 0 1 0 -3.2 0M161.73 226.06a1.6 1.6 0 1 0 3.2 0a1.6 1.6 0 1 0 -3.2 0M161.73 227.53a1.6 1.6 0 1 0 3.2 0a1.6 1.6 0 1 0 -3.2 0M161.73 229.12a1.6 1.6 0 1 0 3.2 0a1.6 1.6 0 1 0 -3.2 0M161.73 230.85a1.6 1.6 0 1 0 3.2 0a1.6 1.6 0 1 0 -3.2 0M161.73 232.73a1.6 1.6 0 1 0 3.2 0a1.6 1.6 0 1 0 -3.2 0M161.73 239.48a1.6 1.6 0 1 0 3.2 0a1.6 1.6 0 1 0 -3.2 0M161.73 242.57a1.6 1.6 0 1 0 3.2 0a1.6 1.6 0 1 0 -3.2 0M161.73 245.66a1.6 1.6 0 1 0 3.2 0a1.6 1.6 0 1 0 -3.2 0M161.73 252.14a1.6 1.6 0 1 0 3.2 0a1.6 1.6 0 1 0 -3.2 0M161.73 254.92a1.6 1.6 0 1 0 3.2 0a1.6 1.6 0 1 0 -3.2 0M161.73 258.01a1.6 1.6 0 1 0 3.2 0a1.6 1.6 0 1 0 -3.2 0M161.73 267.43a1.6 1.6 0 1 0 3.2 0a1.6 1.6 0 1 0 -3.2 0M161.73 279.47a1.6 1.6 0 1 0 3.2 0a1.6 1.6 0 1 0 -3.2 0M161.73 282.56a1.6 1.6 0 1 0 3.2 0a1.6 1.6 0 1 0 -3.2 0M172.14 34.44a1.6 1.6 0 1 0 3.2 0a1.6 1.6 0 1 0 -3.2 0M172.14 49.72a1.6 1.6 0 1 0 3.2 0a1.6 1.6 0 1 0 -3.2 0M172.14 59.76a1.6 1.6 0 1 0 3.2 0a1.6 1.6 0 1 0 -3.2 0M172.14 63.47a1.6 1.6 0 1 0 3.2 0a1.6 1.6 0 1 0 -3.2 0M172.14 66.55a1.6 1.6 0 1 0 3.2 0a1.6 1.6 0 1 0 -3.2 0M172.14 71.65a1.6 1.6 0 1 0 3.2 0a1.6 1.6 0 1 0 -3.2 0M172.14 116.12a1.6 1.6 0 1 0 3.2 0a1.6 1.6 0 1 0 -3.2 0M172.14 115.52a1.6 1.6 0 1 0 3.2 0a1.6 1.6 0 1 0 -3.2 0M172.14 114.92a1.6 1.6 0 1 0 3.2 0a1.6 1.6 0 1 0 -3.2 0M172.14 114.31a1.6 1.6 0 1 0 3.2 0a1.6 1.6 0 1 0 -3.2 0M172.14 113.71a1.6 1.6 0 1 0 3.2 0a1.6 1.6 0 1 0 -3.2 0M172.14 113.11a1.6 1.6 0 1 0 3.2 0a1.6 1.6 0 1 0 -3.2 0M172.14 112.5a1.6 1.6 0 1 0 3.2 0a1.6 1.6 0 1 0 -3.2 0M172.14 111.88a1.6 1.6 0 1 0 3.2 0a1.6 1.6 0 1 0 -3.2 0M172.14 111.27a1.6 1.6 0 1 0 3.2 0a1.6 1.6 0 1 0 -3.2 0M172.14 110.64a1.6 1.6 0 1 0 3.2 0a1.6 1.6 0 1 0 -3.2 0M172.14 110.01a1.6 1.6 0 1 0 3.2 0a1.6 1.6 0 1 0 -3.2 0M172.14 109.37a1.6 1.6 0 1 0 3.2 0a1.6 1.6 0 1 0 -3.2 0M172.14 108.73a1.6 1.6 0 1 0 3.2 0a1.6 1.6 0 1 0 -3.2 0M172.14 108.07a1.6 1.6 0 1 0 3.2 0a1.6 1.6 0 1 0 -3.2 0M172.14 107.41a1.6 1.6 0 1 0 3.2 0a1.6 1.6 0 1 0 -3.2 0M172.14 106.73a1.6 1.6 0 1 0 3.2 0a1.6 1.6 0 1 0 -3.2 0M172.14 106.05a1.6 1.6 0 1 0 3.2 0a1.6 1.6 0 1 0 -3.2 0M172.14 105.34a1.6 1.6 0 1 0 3.2 0a1.6 1.6 0 1 0 -3.2 0M172.14 104.63a1.6 1.6 0 1 0 3.2 0a1.6 1.6 0 1 0 -3.2 0M172.14 103.9a1.6 1.6 0 1 0 3.2 0a1.6 1.6 0 1 0 -3.2 0M172.14 103.15a1.6 1.6 0 1 0 3.2 0a1.6 1.6 0 1 0 -3.2 0M172.14 102.38a1.6 1.6 0 1 0 3.2 0a1.6 1.6 0 1 0 -3.2 0M172.14 101.59a1.6 1.6 0 1 0 3.2 0a1.6 1.6 0 1 0 -3.2 0M172.14 100.78a1.6 1.6 0 1 0 3.2 0a1.6 1.6 0 1 0 -3.2 0M172.14 99.94a1.6 1.6 0 1 0 3.2 0a1.6 1.6 0 1 0 -3.2 0M172.14 99.08a1.6 1.6 0 1 0 3.2 0a1.6 1.6 0 1 0 -3.2 0M172.14 98.19a1.6 1.6 0 1 0 3.2 0a1.6 1.6 0 1 0 -3.2 0M172.14 97.27a1.6 1.6 0 1 0 3.2 0a1.6 1.6 0 1 0 -3.2 0M172.14 96.31a1.6 1.6 0 1 0 3.2 0a1.6 1.6 0 1 0 -3.2 0M172.14 95.32a1.6 1.6 0 1 0 3.2 0a1.6 1.6 0 1 0 -3.2 0M172.14 94.29a1.6 1.6 0 1 0 3.2 0a1.6 1.6 0 1 0 -3.2 0M172.14 93.21a1.6 1.6 0 1 0 3.2 0a1.6 1.6 0 1 0 -3.2 0M172.14 92.09a1.6 1.6 0 1 0 3.2 0a1.6 1.6 0 1 0 -3.2 0M172.14 90.91a1.6 1.6 0 1 0 3.2 0a1.6 1.6 0 1 0 -3.2 0M172.14 89.67a1.6 1.6 0 1 0 3.2 0a1.6 1.6 0 1 0 -3.2 0M172.14 88.38a1.6 1.6 0 1 0 3.2 0a1.6 1.6 0 1 0 -3.2 0M172.14 87.01a1.6 1.6 0 1 0 3.2 0a1.6 1.6 0 1 0 -3.2 0M172.14 85.56a1.6 1.6 0 1 0 3.2 0a1.6 1.6 0 1 0 -3.2 0M172.14 84.02a1.6 1.6 0 1 0 3.2 0a1.6 1.6 0 1 0 -3.2 0M172.14 82.39a1.6 1.6 0 1 0 3.2 0a1.6 1.6 0 1 0 -3.2 0M172.14 80.65a1.6 1.6 0 1 0 3.2 0a1.6 1.6 0 1 0 -3.2 0M172.14 78.8a1.6 1.6 0 1 0 3.2 0a1.6 1.6 0 1 0 -3.2 0M172.14 76.8a1.6 1.6 0 1 0 3.2 0a1.6 1.6 0 1 0 -3.2 0M172.14 199.65a1.6 1.6 0 1 0 3.2 0a1.6 1.6 0 1 0 -3.2 0M172.14 200.25a1.6 1.6 0 1 0 3.2 0a1.6 1.6 0 1 0 -3.2 0M172.14 200.85a1.6 1.6 0 1 0 3.2 0a1.6 1.6 0 1 0 -3.2 0M172.14 201.45a1.6 1.6 0 1 0 3.2 0a1.6 1.6 0 1 0 -3.2 0M172.14 202.05a1.6 1.6 0 1 0 3.2 0a1.6 1.6 0 1 0 -3.2 0M172.14 202.65a1.6 1.6 0 1 0 3.2 0a1.6 1.6 0 1 0 -3.2 0M172.14 203.26a1.6 1.6 0 1 0 3.2 0a1.6 1.6 0 1 0 -3.2 0M172.14 203.87a1.6 1.6 0 1 0 3.2 0a1.6 1.6 0 1 0 -3.2 0M172.14 204.48a1.6 1.6 0 1 0 3.2 0a1.6 1.6 0 1 0 -3.2 0M172.14 205.1a1.6 1.6 0 1 0 3.2 0a1.6 1.6 0 1 0 -3.2 0M172.14 205.72a1.6 1.6 0 1 0 3.2 0a1.6 1.6 0 1 0 -3.2 0M172.14 206.34a1.6 1.6 0 1 0 3.2 0a1.6 1.6 0 1 0 -3.2 0M172.14 206.97a1.6 1.6 0 1 0 3.2 0a1.6 1.6 0 1 0 -3.2 0M172.14 207.61a1.6 1.6 0 1 0 3.2 0a1.6 1.6 0 1 0 -3.2 0M172.14 208.25a1.6 1.6 0 1 0 3.2 0a1.6 1.6 0 1 0 -3.2 0M172.14 208.9a1.6 1.6 0 1 0 3.2 0a1.6 1.6 0 1 0 -3.2 0M172.14 209.55a1.6 1.6 0 1 0 3.2 0a1.6 1.6 0 1 0 -3.2 0M172.14 210.22a1.6 1.6 0 1 0 3.2 0a1.6 1.6 0 1 0 -3.2 0M172.14 210.89a1.6 1.6 0 1 0 3.2 0a1.6 1.6 0 1 0 -3.2 0M172.14 211.58a1.6 1.6 0 1 0 3.2 0a1.6 1.6 0 1 0 -3.2 0M172.14 212.27a1.6 1.6 0 1 0 3.2 0a1.6 1.6 0 1 0 -3.2 0M172.14 212.98a1.6 1.6 0 1 0 3.2 0a1.6 1.6 0 1 0 -3.2 0M172.14 213.69a1.6 1.6 0 1 0 3.2 0a1.6 1.6 0 1 0 -3.2 0M172.14 214.43a1.6 1.6 0 1 0 3.2 0a1.6 1.6 0 1 0 -3.2 0M172.14 215.17a1.6 1.6 0 1 0 3.2 0a1.6 1.6 0 1 0 -3.2 0M172.14 215.93a1.6 1.6 0 1 0 3.2 0a1.6 1.6 0 1 0 -3.2 0M172.14 216.71a1.6 1.6 0 1 0 3.2 0a1.6 1.6 0 1 0 -3.2 0M172.14 217.5a1.6 1.6 0 1 0 3.2 0a1.6 1.6 0 1 0 -3.2 0M172.14 218.31a1.6 1.6 0 1 0 3.2 0a1.6 1.6 0 1 0 -3.2 0M172.14 219.14a1.6 1.6 0 1 0 3.2 0a1.6 1.6 0 1 0 -3.2 0M172.14 219.99a1.6 1.6 0 1 0 3.2 0a1.6 1.6 0 1 0 -3.2 0M172.14 220.87a1.6 1.6 0 1 0 3.2 0a1.6 1.6 0 1 0 -3.2 0M172.14 221.77a1.6 1.6 0 1 0 3.2 0a1.6 1.6 0 1 0 -3.2 0M172.14 222.69a1.6 1.6 0 1 0 3.2 0a1.6 1.6 0 1 0 -3.2 0M172.14 223.65a1.6 1.6 0 1 0 3.2 0a1.6 1.6 0 1 0 -3.2 0M172.14 224.63a1.6 1.6 0 1 0 3.2 0a1.6 1.6 0 1 0 -3.2 0M172.14 225.64a1.6 1.6 0 1 0 3.2 0a1.6 1.6 0 1 0 -3.2 0M172.14 226.69a1.6 1.6 0 1 0 3.2 0a1.6 1.6 0 1 0 -3.2 0M172.14 227.78a1.6 1.6 0 1 0 3.2 0a1.6 1.6 0 1 0 -3.2 0M172.14 228.9a1.6 1.6 0 1 0 3.2 0a1.6 1.6 0 1 0 -3.2 0M172.14 230.07a1.6 1.6 0 1 0 3.2 0a1.6 1.6 0 1 0 -3.2 0M172.14 231.28a1.6 1.6 0 1 0 3.2 0a1.6 1.6 0 1 0 -3.2 0M172.14 232.55a1.6 1.6 0 1 0 3.2 0a1.6 1.6 0 1 0 -3.2 0M172.14 233.87a1.6 1.6 0 1 0 3.2 0a1.6 1.6 0 1 0 -3.2 0M172.14 235.24a1.6 1.6 0 1 0 3.2 0a1.6 1.6 0 1 0 -3.2 0M172.14 236.68a1.6 1.6 0 1 0 3.2 0a1.6 1.6 0 1 0 -3.2 0M172.14 238.2a1.6 1.6 0 1 0 3.2 0a1.6 1.6 0 1 0 -3.2 0M172.14 239.78a1.6 1.6 0 1 0 3.2 0a1.6 1.6 0 1 0 -3.2 0M172.14 241.45a1.6 1.6 0 1 0 3.2 0a1.6 1.6 0 1 0 -3.2 0M172.14 243.21a1.6 1.6 0 1 0 3.2 0a1.6 1.6 0 1 0 -3.2 0M172.14 245.07a1.6 1.6 0 1 0 3.2 0a1.6 1.6 0 1 0 -3.2 0M172.14 247.04a1.6 1.6 0 1 0 3.2 0a1.6 1.6 0 1 0 -3.2 0M172.14 256.77a1.6 1.6 0 1 0 3.2 0a1.6 1.6 0 1 0 -3.2 0M172.14 275.15a1.6 1.6 0 1 0 3.2 0a1.6 1.6 0 1 0 -3.2 0M182.54 47.87a1.6 1.6 0 1 0 3.2 0a1.6 1.6 0 1 0 -3.2 0M182.54 58.99a1.6 1.6 0 1 0 3.2 0a1.6 1.6 0 1 0 -3.2 0M182.54 61.92a1.6 1.6 0 1 0 3.2 0a1.6 1.6 0 1 0 -3.2 0M182.54 64.7a1.6 1.6 0 1 0 3.2 0a1.6 1.6 0 1 0 -3.2 0M182.54 71.96a1.6 1.6 0 1 0 3.2 0a1.6 1.6 0 1 0 -3.2 0M182.54 75.82a1.6 1.6 0 1 0 3.2 0a1.6 1.6 0 1 0 -3.2 0M182.54 78.91a1.6 1.6 0 1 0 3.2 0a1.6 1.6 0 1 0 -3.2 0M182.54 82.77a1.6 1.6 0 1 0 3.2 0a1.6 1.6 0 1 0 -3.2 0M182.54 111.48a1.6 1.6 0 1 0 3.2 0a1.6 1.6 0 1 0 -3.2 0M182.54 110.88a1.6 1.6 0 1 0 3.2 0a1.6 1.6 0 1 0 -3.2 0M182.54 110.28a1.6 1.6 0 1 0 3.2 0a1.6 1.6 0 1 0 -3.2 0M182.54 109.68a1.6 1.6 0 1 0 3.2 0a1.6 1.6 0 1 0 -3.2 0M182.54 109.07a1.6 1.6 0 1 0 3.2 0a1.6 1.6 0 1 0 -3.2 0M182.54 108.46a1.6 1.6 0 1 0 3.2 0a1.6 1.6 0 1 0 -3.2 0M182.54 107.83a1.6 1.6 0 1 0 3.2 0a1.6 1.6 0 1 0 -3.2 0M182.54 107.2a1.6 1.6 0 1 0 3.2 0a1.6 1.6 0 1 0 -3.2 0M182.54 106.56a1.6 1.6 0 1 0 3.2 0a1.6 1.6 0 1 0 -3.2 0M182.54 105.89a1.6 1.6 0 1 0 3.2 0a1.6 1.6 0 1 0 -3.2 0M182.54 105.22a1.6 1.6 0 1 0 3.2 0a1.6 1.6 0 1 0 -3.2 0M182.54 104.52a1.6 1.6 0 1 0 3.2 0a1.6 1.6 0 1 0 -3.2 0M182.54 103.8a1.6 1.6 0 1 0 3.2 0a1.6 1.6 0 1 0 -3.2 0M182.54 103.05a1.6 1.6 0 1 0 3.2 0a1.6 1.6 0 1 0 -3.2 0M182.54 102.27a1.6 1.6 0 1 0 3.2 0a1.6 1.6 0 1 0 -3.2 0M182.54 101.46a1.6 1.6 0 1 0 3.2 0a1.6 1.6 0 1 0 -3.2 0M182.54 100.61a1.6 1.6 0 1 0 3.2 0a1.6 1.6 0 1 0 -3.2 0M182.54 99.72a1.6 1.6 0 1 0 3.2 0a1.6 1.6 0 1 0 -3.2 0M182.54 98.77a1.6 1.6 0 1 0 3.2 0a1.6 1.6 0 1 0 -3.2 0M182.54 97.77a1.6 1.6 0 1 0 3.2 0a1.6 1.6 0 1 0 -3.2 0M182.54 96.7a1.6 1.6 0 1 0 3.2 0a1.6 1.6 0 1 0 -3.2 0M182.54 95.55a1.6 1.6 0 1 0 3.2 0a1.6 1.6 0 1 0 -3.2 0M182.54 94.32a1.6 1.6 0 1 0 3.2 0a1.6 1.6 0 1 0 -3.2 0M182.54 92.98a1.6 1.6 0 1 0 3.2 0a1.6 1.6 0 1 0 -3.2 0M182.54 91.53a1.6 1.6 0 1 0 3.2 0a1.6 1.6 0 1 0 -3.2 0M182.54 89.93a1.6 1.6 0 1 0 3.2 0a1.6 1.6 0 1 0 -3.2 0M182.54 88.17a1.6 1.6 0 1 0 3.2 0a1.6 1.6 0 1 0 -3.2 0M182.54 86.22a1.6 1.6 0 1 0 3.2 0a1.6 1.6 0 1 0 -3.2 0M182.54 202.43a1.6 1.6 0 1 0 3.2 0a1.6 1.6 0 1 0 -3.2 0M182.54 203.03a1.6 1.6 0 1 0 3.2 0a1.6 1.6 0 1 0 -3.2 0M182.54 203.63a1.6 1.6 0 1 0 3.2 0a1.6 1.6 0 1 0 -3.2 0M182.54 204.23a1.6 1.6 0 1 0 3.2 0a1.6 1.6 0 1 0 -3.2 0M182.54 204.83a1.6 1.6 0 1 0 3.2 0a1.6 1.6 0 1 0 -3.2 0M182.54 205.44a1.6 1.6 0 1 0 3.2 0a1.6 1.6 0 1 0 -3.2 0M182.54 206.05a1.6 1.6 0 1 0 3.2 0a1.6 1.6 0 1 0 -3.2 0M182.54 206.66a1.6 1.6 0 1 0 3.2 0a1.6 1.6 0 1 0 -3.2 0M182.54 207.28a1.6 1.6 0 1 0 3.2 0a1.6 1.6 0 1 0 -3.2 0M182.54 207.91a1.6 1.6 0 1 0 3.2 0a1.6 1.6 0 1 0 -3.2 0M182.54 208.55a1.6 1.6 0 1 0 3.2 0a1.6 1.6 0 1 0 -3.2 0M182.54 209.19a1.6 1.6 0 1 0 3.2 0a1.6 1.6 0 1 0 -3.2 0M182.54 209.84a1.6 1.6 0 1 0 3.2 0a1.6 1.6 0 1 0 -3.2 0M182.54 210.51a1.6 1.6 0 1 0 3.2 0a1.6 1.6 0 1 0 -3.2 0M182.54 211.18a1.6 1.6 0 1 0 3.2 0a1.6 1.6 0 1 0 -3.2 0M182.54 211.87a1.6 1.6 0 1 0 3.2 0a1.6 1.6 0 1 0 -3.2 0M182.54 212.57a1.6 1.6 0 1 0 3.2 0a1.6 1.6 0 1 0 -3.2 0M182.54 213.29a1.6 1.6 0 1 0 3.2 0a1.6 1.6 0 1 0 -3.2 0M182.54 214.03a1.6 1.6 0 1 0 3.2 0a1.6 1.6 0 1 0 -3.2 0M182.54 214.78a1.6 1.6 0 1 0 3.2 0a1.6 1.6 0 1 0 -3.2 0M182.54 215.56a1.6 1.6 0 1 0 3.2 0a1.6 1.6 0 1 0 -3.2 0M182.54 216.36a1.6 1.6 0 1 0 3.2 0a1.6 1.6 0 1 0 -3.2 0M182.54 217.19a1.6 1.6 0 1 0 3.2 0a1.6 1.6 0 1 0 -3.2 0M182.54 218.04a1.6 1.6 0 1 0 3.2 0a1.6 1.6 0 1 0 -3.2 0M182.54 218.92a1.6 1.6 0 1 0 3.2 0a1.6 1.6 0 1 0 -3.2 0M182.54 219.83a1.6 1.6 0 1 0 3.2 0a1.6 1.6 0 1 0 -3.2 0M182.54 220.78a1.6 1.6 0 1 0 3.2 0a1.6 1.6 0 1 0 -3.2 0M182.54 221.77a1.6 1.6 0 1 0 3.2 0a1.6 1.6 0 1 0 -3.2 0M182.54 222.8a1.6 1.6 0 1 0 3.2 0a1.6 1.6 0 1 0 -3.2 0M182.54 223.88a1.6 1.6 0 1 0 3.2 0a1.6 1.6 0 1 0 -3.2 0M182.54 225.02a1.6 1.6 0 1 0 3.2 0a1.6 1.6 0 1 0 -3.2 0M182.54 226.21a1.6 1.6 0 1 0 3.2 0a1.6 1.6 0 1 0 -3.2 0M182.54 227.46a1.6 1.6 0 1 0 3.2 0a1.6 1.6 0 1 0 -3.2 0M182.54 228.78a1.6 1.6 0 1 0 3.2 0a1.6 1.6 0 1 0 -3.2 0M182.54 230.19a1.6 1.6 0 1 0 3.2 0a1.6 1.6 0 1 0 -3.2 0M182.54 231.68a1.6 1.6 0 1 0 3.2 0a1.6 1.6 0 1 0 -3.2 0M182.54 233.27a1.6 1.6 0 1 0 3.2 0a1.6 1.6 0 1 0 -3.2 0M182.54 234.97a1.6 1.6 0 1 0 3.2 0a1.6 1.6 0 1 0 -3.2 0M182.54 236.79a1.6 1.6 0 1 0 3.2 0a1.6 1.6 0 1 0 -3.2 0M182.54 238.75a1.6 1.6 0 1 0 3.2 0a1.6 1.6 0 1 0 -3.2 0M182.54 248.59a1.6 1.6 0 1 0 3.2 0a1.6 1.6 0 1 0 -3.2 0M182.54 251.06a1.6 1.6 0 1 0 3.2 0a1.6 1.6 0 1 0 -3.2 0M182.54 253.22a1.6 1.6 0 1 0 3.2 0a1.6 1.6 0 1 0 -3.2 0M182.54 270.36a1.6 1.6 0 1 0 3.2 0a1.6 1.6 0 1 0 -3.2 0M182.54 273.45a1.6 1.6 0 1 0 3.2 0a1.6 1.6 0 1 0 -3.2 0M182.54 285.8a1.6 1.6 0 1 0 3.2 0a1.6 1.6 0 1 0 -3.2 0M192.94 61.61a1.6 1.6 0 1 0 3.2 0a1.6 1.6 0 1 0 -3.2 0M192.94 63.47a1.6 1.6 0 1 0 3.2 0a1.6 1.6 0 1 0 -3.2 0M192.94 68.1a1.6 1.6 0 1 0 3.2 0a1.6 1.6 0 1 0 -3.2 0M192.94 71.19a1.6 1.6 0 1 0 3.2 0a1.6 1.6 0 1 0 -3.2 0M192.94 73.97a1.6 1.6 0 1 0 3.2 0a1.6 1.6 0 1 0 -3.2 0M192.94 106.85a1.6 1.6 0 1 0 3.2 0a1.6 1.6 0 1 0 -3.2 0M192.94 106.25a1.6 1.6 0 1 0 3.2 0a1.6 1.6 0 1 0 -3.2 0M192.94 105.65a1.6 1.6 0 1 0 3.2 0a1.6 1.6 0 1 0 -3.2 0M192.94 105.05a1.6 1.6 0 1 0 3.2 0a1.6 1.6 0 1 0 -3.2 0M192.94 104.44a1.6 1.6 0 1 0 3.2 0a1.6 1.6 0 1 0 -3.2 0M192.94 103.83a1.6 1.6 0 1 0 3.2 0a1.6 1.6 0 1 0 -3.2 0M192.94 103.21a1.6 1.6 0 1 0 3.2 0a1.6 1.6 0 1 0 -3.2 0M192.94 102.58a1.6 1.6 0 1 0 3.2 0a1.6 1.6 0 1 0 -3.2 0M192.94 101.93a1.6 1.6 0 1 0 3.2 0a1.6 1.6 0 1 0 -3.2 0M192.94 101.28a1.6 1.6 0 1 0 3.2 0a1.6 1.6 0 1 0 -3.2 0M192.94 100.6a1.6 1.6 0 1 0 3.2 0a1.6 1.6 0 1 0 -3.2 0M192.94 99.91a1.6 1.6 0 1 0 3.2 0a1.6 1.6 0 1 0 -3.2 0M192.94 99.2a1.6 1.6 0 1 0 3.2 0a1.6 1.6 0 1 0 -3.2 0M192.94 98.47a1.6 1.6 0 1 0 3.2 0a1.6 1.6 0 1 0 -3.2 0M192.94 97.7a1.6 1.6 0 1 0 3.2 0a1.6 1.6 0 1 0 -3.2 0M192.94 96.91a1.6 1.6 0 1 0 3.2 0a1.6 1.6 0 1 0 -3.2 0M192.94 96.08a1.6 1.6 0 1 0 3.2 0a1.6 1.6 0 1 0 -3.2 0M192.94 95.21a1.6 1.6 0 1 0 3.2 0a1.6 1.6 0 1 0 -3.2 0M192.94 94.29a1.6 1.6 0 1 0 3.2 0a1.6 1.6 0 1 0 -3.2 0M192.94 93.33a1.6 1.6 0 1 0 3.2 0a1.6 1.6 0 1 0 -3.2 0M192.94 92.3a1.6 1.6 0 1 0 3.2 0a1.6 1.6 0 1 0 -3.2 0M192.94 91.21a1.6 1.6 0 1 0 3.2 0a1.6 1.6 0 1 0 -3.2 0M192.94 90.04a1.6 1.6 0 1 0 3.2 0a1.6 1.6 0 1 0 -3.2 0M192.94 88.79a1.6 1.6 0 1 0 3.2 0a1.6 1.6 0 1 0 -3.2 0M192.94 87.43a1.6 1.6 0 1 0 3.2 0a1.6 1.6 0 1 0 -3.2 0M192.94 85.95a1.6 1.6 0 1 0 3.2 0a1.6 1.6 0 1 0 -3.2 0M192.94 84.34a1.6 1.6 0 1 0 3.2 0a1.6 1.6 0 1 0 -3.2 0M192.94 82.56a1.6 1.6 0 1 0 3.2 0a1.6 1.6 0 1 0 -3.2 0M192.94 205.67a1.6 1.6 0 1 0 3.2 0a1.6 1.6 0 1 0 -3.2 0M192.94 206.27a1.6 1.6 0 1 0 3.2 0a1.6 1.6 0 1 0 -3.2 0M192.94 206.87a1.6 1.6 0 1 0 3.2 0a1.6 1.6 0 1 0 -3.2 0M192.94 207.47a1.6 1.6 0 1 0 3.2 0a1.6 1.6 0 1 0 -3.2 0M192.94 208.08a1.6 1.6 0 1 0 3.2 0a1.6 1.6 0 1 0 -3.2 0M192.94 208.69a1.6 1.6 0 1 0 3.2 0a1.6 1.6 0 1 0 -3.2 0M192.94 209.3a1.6 1.6 0 1 0 3.2 0a1.6 1.6 0 1 0 -3.2 0M192.94 209.92a1.6 1.6 0 1 0 3.2 0a1.6 1.6 0 1 0 -3.2 0M192.94 210.55a1.6 1.6 0 1 0 3.2 0a1.6 1.6 0 1 0 -3.2 0M192.94 211.18a1.6 1.6 0 1 0 3.2 0a1.6 1.6 0 1 0 -3.2 0M192.94 211.83a1.6 1.6 0 1 0 3.2 0a1.6 1.6 0 1 0 -3.2 0M192.94 212.49a1.6 1.6 0 1 0 3.2 0a1.6 1.6 0 1 0 -3.2 0M192.94 213.16a1.6 1.6 0 1 0 3.2 0a1.6 1.6 0 1 0 -3.2 0M192.94 213.85a1.6 1.6 0 1 0 3.2 0a1.6 1.6 0 1 0 -3.2 0M192.94 214.55a1.6 1.6 0 1 0 3.2 0a1.6 1.6 0 1 0 -3.2 0M192.94 215.27a1.6 1.6 0 1 0 3.2 0a1.6 1.6 0 1 0 -3.2 0M192.94 216.01a1.6 1.6 0 1 0 3.2 0a1.6 1.6 0 1 0 -3.2 0M192.94 216.78a1.6 1.6 0 1 0 3.2 0a1.6 1.6 0 1 0 -3.2 0M192.94 217.57a1.6 1.6 0 1 0 3.2 0a1.6 1.6 0 1 0 -3.2 0M192.94 218.38a1.6 1.6 0 1 0 3.2 0a1.6 1.6 0 1 0 -3.2 0M192.94 219.23a1.6 1.6 0 1 0 3.2 0a1.6 1.6 0 1 0 -3.2 0M192.94 220.11a1.6 1.6 0 1 0 3.2 0a1.6 1.6 0 1 0 -3.2 0M192.94 221.04a1.6 1.6 0 1 0 3.2 0a1.6 1.6 0 1 0 -3.2 0M192.94 222a1.6 1.6 0 1 0 3.2 0a1.6 1.6 0 1 0 -3.2 0M192.94 223.01a1.6 1.6 0 1 0 3.2 0a1.6 1.6 0 1 0 -3.2 0M192.94 224.07a1.6 1.6 0 1 0 3.2 0a1.6 1.6 0 1 0 -3.2 0M192.94 225.19a1.6 1.6 0 1 0 3.2 0a1.6 1.6 0 1 0 -3.2 0M192.94 226.38a1.6 1.6 0 1 0 3.2 0a1.6 1.6 0 1 0 -3.2 0M192.94 227.63a1.6 1.6 0 1 0 3.2 0a1.6 1.6 0 1 0 -3.2 0M192.94 228.98a1.6 1.6 0 1 0 3.2 0a1.6 1.6 0 1 0 -3.2 0M192.94 230.41a1.6 1.6 0 1 0 3.2 0a1.6 1.6 0 1 0 -3.2 0M192.94 231.95a1.6 1.6 0 1 0 3.2 0a1.6 1.6 0 1 0 -3.2 0M192.94 233.61a1.6 1.6 0 1 0 3.2 0a1.6 1.6 0 1 0 -3.2 0M192.94 235.41a1.6 1.6 0 1 0 3.2 0a1.6 1.6 0 1 0 -3.2 0M192.94 237.37a1.6 1.6 0 1 0 3.2 0a1.6 1.6 0 1 0 -3.2 0M192.94 244.11a1.6 1.6 0 1 0 3.2 0a1.6 1.6 0 1 0 -3.2 0M192.94 248.59a1.6 1.6 0 1 0 3.2 0a1.6 1.6 0 1 0 -3.2 0M192.94 255.85a1.6 1.6 0 1 0 3.2 0a1.6 1.6 0 1 0 -3.2 0M192.94 266.04a1.6 1.6 0 1 0 3.2 0a1.6 1.6 0 1 0 -3.2 0M192.94 271.6a1.6 1.6 0 1 0 3.2 0a1.6 1.6 0 1 0 -3.2 0M192.94 278.08a1.6 1.6 0 1 0 3.2 0a1.6 1.6 0 1 0 -3.2 0M192.94 284.26a1.6 1.6 0 1 0 3.2 0a1.6 1.6 0 1 0 -3.2 0M192.94 285.8a1.6 1.6 0 1 0 3.2 0a1.6 1.6 0 1 0 -3.2 0M203.35 58.53a1.6 1.6 0 1 0 3.2 0a1.6 1.6 0 1 0 -3.2 0M203.35 63.47a1.6 1.6 0 1 0 3.2 0a1.6 1.6 0 1 0 -3.2 0M203.35 69.02a1.6 1.6 0 1 0 3.2 0a1.6 1.6 0 1 0 -3.2 0M203.35 72.73a1.6 1.6 0 1 0 3.2 0a1.6 1.6 0 1 0 -3.2 0M203.35 75.82a1.6 1.6 0 1 0 3.2 0a1.6 1.6 0 1 0 -3.2 0M203.35 107.78a1.6 1.6 0 1 0 3.2 0a1.6 1.6 0 1 0 -3.2 0M203.35 107.18a1.6 1.6 0 1 0 3.2 0a1.6 1.6 0 1 0 -3.2 0M203.35 106.58a1.6 1.6 0 1 0 3.2 0a1.6 1.6 0 1 0 -3.2 0M203.35 105.97a1.6 1.6 0 1 0 3.2 0a1.6 1.6 0 1 0 -3.2 0M203.35 105.37a1.6 1.6 0 1 0 3.2 0a1.6 1.6 0 1 0 -3.2 0M203.35 104.76a1.6 1.6 0 1 0 3.2 0a1.6 1.6 0 1 0 -3.2 0M203.35 104.14a1.6 1.6 0 1 0 3.2 0a1.6 1.6 0 1 0 -3.2 0M203.35 103.51a1.6 1.6 0 1 0 3.2 0a1.6 1.6 0 1 0 -3.2 0M203.35 102.87a1.6 1.6 0 1 0 3.2 0a1.6 1.6 0 1 0 -3.2 0M203.35 102.21a1.6 1.6 0 1 0 3.2 0a1.6 1.6 0 1 0 -3.2 0M203.35 101.55a1.6 1.6 0 1 0 3.2 0a1.6 1.6 0 1 0 -3.2 0M203.35 100.86a1.6 1.6 0 1 0 3.2 0a1.6 1.6 0 1 0 -3.2 0M203.35 100.16a1.6 1.6 0 1 0 3.2 0a1.6 1.6 0 1 0 -3.2 0M203.35 99.43a1.6 1.6 0 1 0 3.2 0a1.6 1.6 0 1 0 -3.2 0M203.35 98.68a1.6 1.6 0 1 0 3.2 0a1.6 1.6 0 1 0 -3.2 0M203.35 97.9a1.6 1.6 0 1 0 3.2 0a1.6 1.6 0 1 0 -3.2 0M203.35 97.09a1.6 1.6 0 1 0 3.2 0a1.6 1.6 0 1 0 -3.2 0M203.35 96.25a1.6 1.6 0 1 0 3.2 0a1.6 1.6 0 1 0 -3.2 0M203.35 95.36a1.6 1.6 0 1 0 3.2 0a1.6 1.6 0 1 0 -3.2 0M203.35 94.42a1.6 1.6 0 1 0 3.2 0a1.6 1.6 0 1 0 -3.2 0M203.35 93.44a1.6 1.6 0 1 0 3.2 0a1.6 1.6 0 1 0 -3.2 0M203.35 92.39a1.6 1.6 0 1 0 3.2 0a1.6 1.6 0 1 0 -3.2 0M203.35 91.28a1.6 1.6 0 1 0 3.2 0a1.6 1.6 0 1 0 -3.2 0M203.35 90.09a1.6 1.6 0 1 0 3.2 0a1.6 1.6 0 1 0 -3.2 0M203.35 88.81a1.6 1.6 0 1 0 3.2 0a1.6 1.6 0 1 0 -3.2 0M203.35 87.43a1.6 1.6 0 1 0 3.2 0a1.6 1.6 0 1 0 -3.2 0M203.35 85.93a1.6 1.6 0 1 0 3.2 0a1.6 1.6 0 1 0 -3.2 0M203.35 84.3a1.6 1.6 0 1 0 3.2 0a1.6 1.6 0 1 0 -3.2 0M203.35 82.5a1.6 1.6 0 1 0 3.2 0a1.6 1.6 0 1 0 -3.2 0M203.35 205.67a1.6 1.6 0 1 0 3.2 0a1.6 1.6 0 1 0 -3.2 0M203.35 206.27a1.6 1.6 0 1 0 3.2 0a1.6 1.6 0 1 0 -3.2 0M203.35 206.87a1.6 1.6 0 1 0 3.2 0a1.6 1.6 0 1 0 -3.2 0M203.35 207.47a1.6 1.6 0 1 0 3.2 0a1.6 1.6 0 1 0 -3.2 0M203.35 208.07a1.6 1.6 0 1 0 3.2 0a1.6 1.6 0 1 0 -3.2 0M203.35 208.68a1.6 1.6 0 1 0 3.2 0a1.6 1.6 0 1 0 -3.2 0M203.35 209.29a1.6 1.6 0 1 0 3.2 0a1.6 1.6 0 1 0 -3.2 0M203.35 209.9a1.6 1.6 0 1 0 3.2 0a1.6 1.6 0 1 0 -3.2 0M203.35 210.51a1.6 1.6 0 1 0 3.2 0a1.6 1.6 0 1 0 -3.2 0M203.35 211.13a1.6 1.6 0 1 0 3.2 0a1.6 1.6 0 1 0 -3.2 0M203.35 211.76a1.6 1.6 0 1 0 3.2 0a1.6 1.6 0 1 0 -3.2 0M203.35 212.39a1.6 1.6 0 1 0 3.2 0a1.6 1.6 0 1 0 -3.2 0M203.35 213.03a1.6 1.6 0 1 0 3.2 0a1.6 1.6 0 1 0 -3.2 0M203.35 213.68a1.6 1.6 0 1 0 3.2 0a1.6 1.6 0 1 0 -3.2 0M203.35 214.33a1.6 1.6 0 1 0 3.2 0a1.6 1.6 0 1 0 -3.2 0M203.35 215a1.6 1.6 0 1 0 3.2 0a1.6 1.6 0 1 0 -3.2 0M203.35 215.67a1.6 1.6 0 1 0 3.2 0a1.6 1.6 0 1 0 -3.2 0M203.35 216.36a1.6 1.6 0 1 0 3.2 0a1.6 1.6 0 1 0 -3.2 0M203.35 217.06a1.6 1.6 0 1 0 3.2 0a1.6 1.6 0 1 0 -3.2 0M203.35 217.77a1.6 1.6 0 1 0 3.2 0a1.6 1.6 0 1 0 -3.2 0M203.35 218.49a1.6 1.6 0 1 0 3.2 0a1.6 1.6 0 1 0 -3.2 0M203.35 219.24a1.6 1.6 0 1 0 3.2 0a1.6 1.6 0 1 0 -3.2 0M203.35 219.99a1.6 1.6 0 1 0 3.2 0a1.6 1.6 0 1 0 -3.2 0M203.35 220.77a1.6 1.6 0 1 0 3.2 0a1.6 1.6 0 1 0 -3.2 0M203.35 221.57a1.6 1.6 0 1 0 3.2 0a1.6 1.6 0 1 0 -3.2 0M203.35 222.39a1.6 1.6 0 1 0 3.2 0a1.6 1.6 0 1 0 -3.2 0M203.35 223.23a1.6 1.6 0 1 0 3.2 0a1.6 1.6 0 1 0 -3.2 0M203.35 224.09a1.6 1.6 0 1 0 3.2 0a1.6 1.6 0 1 0 -3.2 0M203.35 224.99a1.6 1.6 0 1 0 3.2 0a1.6 1.6 0 1 0 -3.2 0M203.35 225.91a1.6 1.6 0 1 0 3.2 0a1.6 1.6 0 1 0 -3.2 0M203.35 226.86a1.6 1.6 0 1 0 3.2 0a1.6 1.6 0 1 0 -3.2 0M203.35 227.85a1.6 1.6 0 1 0 3.2 0a1.6 1.6 0 1 0 -3.2 0M203.35 228.87a1.6 1.6 0 1 0 3.2 0a1.6 1.6 0 1 0 -3.2 0M203.35 229.94a1.6 1.6 0 1 0 3.2 0a1.6 1.6 0 1 0 -3.2 0M203.35 231.04a1.6 1.6 0 1 0 3.2 0a1.6 1.6 0 1 0 -3.2 0M203.35 232.2a1.6 1.6 0 1 0 3.2 0a1.6 1.6 0 1 0 -3.2 0M203.35 233.41a1.6 1.6 0 1 0 3.2 0a1.6 1.6 0 1 0 -3.2 0M203.35 234.67a1.6 1.6 0 1 0 3.2 0a1.6 1.6 0 1 0 -3.2 0M203.35 235.99a1.6 1.6 0 1 0 3.2 0a1.6 1.6 0 1 0 -3.2 0M203.35 237.39a1.6 1.6 0 1 0 3.2 0a1.6 1.6 0 1 0 -3.2 0M203.35 238.85a1.6 1.6 0 1 0 3.2 0a1.6 1.6 0 1 0 -3.2 0M203.35 240.4a1.6 1.6 0 1 0 3.2 0a1.6 1.6 0 1 0 -3.2 0M203.35 242.04a1.6 1.6 0 1 0 3.2 0a1.6 1.6 0 1 0 -3.2 0M203.35 243.79a1.6 1.6 0 1 0 3.2 0a1.6 1.6 0 1 0 -3.2 0M203.35 245.64a1.6 1.6 0 1 0 3.2 0a1.6 1.6 0 1 0 -3.2 0M203.35 247.62a1.6 1.6 0 1 0 3.2 0a1.6 1.6 0 1 0 -3.2 0M203.35 256.77a1.6 1.6 0 1 0 3.2 0a1.6 1.6 0 1 0 -3.2 0M203.35 266.04a1.6 1.6 0 1 0 3.2 0a1.6 1.6 0 1 0 -3.2 0M203.35 278.24a1.6 1.6 0 1 0 3.2 0a1.6 1.6 0 1 0 -3.2 0M213.75 49.72a1.6 1.6 0 1 0 3.2 0a1.6 1.6 0 1 0 -3.2 0M213.75 69.49a1.6 1.6 0 1 0 3.2 0a1.6 1.6 0 1 0 -3.2 0M213.75 73.19a1.6 1.6 0 1 0 3.2 0a1.6 1.6 0 1 0 -3.2 0M213.75 104.23a1.6 1.6 0 1 0 3.2 0a1.6 1.6 0 1 0 -3.2 0M213.75 103.63a1.6 1.6 0 1 0 3.2 0a1.6 1.6 0 1 0 -3.2 0M213.75 103.03a1.6 1.6 0 1 0 3.2 0a1.6 1.6 0 1 0 -3.2 0M213.75 102.42a1.6 1.6 0 1 0 3.2 0a1.6 1.6 0 1 0 -3.2 0M213.75 101.81a1.6 1.6 0 1 0 3.2 0a1.6 1.6 0 1 0 -3.2 0M213.75 101.19a1.6 1.6 0 1 0 3.2 0a1.6 1.6 0 1 0 -3.2 0M213.75 100.57a1.6 1.6 0 1 0 3.2 0a1.6 1.6 0 1 0 -3.2 0M213.75 99.92a1.6 1.6 0 1 0 3.2 0a1.6 1.6 0 1 0 -3.2 0M213.75 99.27a1.6 1.6 0 1 0 3.2 0a1.6 1.6 0 1 0 -3.2 0M213.75 98.59a1.6 1.6 0 1 0 3.2 0a1.6 1.6 0 1 0 -3.2 0M213.75 97.89a1.6 1.6 0 1 0 3.2 0a1.6 1.6 0 1 0 -3.2 0M213.75 97.17a1.6 1.6 0 1 0 3.2 0a1.6 1.6 0 1 0 -3.2 0M213.75 96.41a1.6 1.6 0 1 0 3.2 0a1.6 1.6 0 1 0 -3.2 0M213.75 95.62a1.6 1.6 0 1 0 3.2 0a1.6 1.6 0 1 0 -3.2 0M213.75 94.79a1.6 1.6 0 1 0 3.2 0a1.6 1.6 0 1 0 -3.2 0M213.75 93.91a1.6 1.6 0 1 0 3.2 0a1.6 1.6 0 1 0 -3.2 0M213.75 92.98a1.6 1.6 0 1 0 3.2 0a1.6 1.6 0 1 0 -3.2 0M213.75 91.99a1.6 1.6 0 1 0 3.2 0a1.6 1.6 0 1 0 -3.2 0M213.75 90.93a1.6 1.6 0 1 0 3.2 0a1.6 1.6 0 1 0 -3.2 0M213.75 89.78a1.6 1.6 0 1 0 3.2 0a1.6 1.6 0 1 0 -3.2 0M213.75 88.53a1.6 1.6 0 1 0 3.2 0a1.6 1.6 0 1 0 -3.2 0M213.75 87.16a1.6 1.6 0 1 0 3.2 0a1.6 1.6 0 1 0 -3.2 0M213.75 85.66a1.6 1.6 0 1 0 3.2 0a1.6 1.6 0 1 0 -3.2 0M213.75 83.99a1.6 1.6 0 1 0 3.2 0a1.6 1.6 0 1 0 -3.2 0M213.75 82.12a1.6 1.6 0 1 0 3.2 0a1.6 1.6 0 1 0 -3.2 0M213.75 207.06a1.6 1.6 0 1 0 3.2 0a1.6 1.6 0 1 0 -3.2 0M213.75 207.66a1.6 1.6 0 1 0 3.2 0a1.6 1.6 0 1 0 -3.2 0M213.75 208.26a1.6 1.6 0 1 0 3.2 0a1.6 1.6 0 1 0 -3.2 0M213.75 208.86a1.6 1.6 0 1 0 3.2 0a1.6 1.6 0 1 0 -3.2 0M213.75 209.47a1.6 1.6 0 1 0 3.2 0a1.6 1.6 0 1 0 -3.2 0M213.75 210.07a1.6 1.6 0 1 0 3.2 0a1.6 1.6 0 1 0 -3.2 0M213.75 210.69a1.6 1.6 0 1 0 3.2 0a1.6 1.6 0 1 0 -3.2 0M213.75 211.31a1.6 1.6 0 1 0 3.2 0a1.6 1.6 0 1 0 -3.2 0M213.75 211.94a1.6 1.6 0 1 0 3.2 0a1.6 1.6 0 1 0 -3.2 0M213.75 212.57a1.6 1.6 0 1 0 3.2 0a1.6 1.6 0 1 0 -3.2 0M213.75 213.22a1.6 1.6 0 1 0 3.2 0a1.6 1.6 0 1 0 -3.2 0M213.75 213.87a1.6 1.6 0 1 0 3.2 0a1.6 1.6 0 1 0 -3.2 0M213.75 214.54a1.6 1.6 0 1 0 3.2 0a1.6 1.6 0 1 0 -3.2 0M213.75 215.23a1.6 1.6 0 1 0 3.2 0a1.6 1.6 0 1 0 -3.2 0M213.75 215.93a1.6 1.6 0 1 0 3.2 0a1.6 1.6 0 1 0 -3.2 0M213.75 216.65a1.6 1.6 0 1 0 3.2 0a1.6 1.6 0 1 0 -3.2 0M213.75 217.39a1.6 1.6 0 1 0 3.2 0a1.6 1.6 0 1 0 -3.2 0M213.75 218.15a1.6 1.6 0 1 0 3.2 0a1.6 1.6 0 1 0 -3.2 0M213.75 218.93a1.6 1.6 0 1 0 3.2 0a1.6 1.6 0 1 0 -3.2 0M213.75 219.75a1.6 1.6 0 1 0 3.2 0a1.6 1.6 0 1 0 -3.2 0M213.75 220.59a1.6 1.6 0 1 0 3.2 0a1.6 1.6 0 1 0 -3.2 0M213.75 221.46a1.6 1.6 0 1 0 3.2 0a1.6 1.6 0 1 0 -3.2 0M213.75 222.38a1.6 1.6 0 1 0 3.2 0a1.6 1.6 0 1 0 -3.2 0M213.75 223.33a1.6 1.6 0 1 0 3.2 0a1.6 1.6 0 1 0 -3.2 0M213.75 224.33a1.6 1.6 0 1 0 3.2 0a1.6 1.6 0 1 0 -3.2 0M213.75 225.38a1.6 1.6 0 1 0 3.2 0a1.6 1.6 0 1 0 -3.2 0M213.75 226.49a1.6 1.6 0 1 0 3.2 0a1.6 1.6 0 1 0 -3.2 0M213.75 227.65a1.6 1.6 0 1 0 3.2 0a1.6 1.6 0 1 0 -3.2 0M213.75 228.89a1.6 1.6 0 1 0 3.2 0a1.6 1.6 0 1 0 -3.2 0M213.75 230.21a1.6 1.6 0 1 0 3.2 0a1.6 1.6 0 1 0 -3.2 0M213.75 231.62a1.6 1.6 0 1 0 3.2 0a1.6 1.6 0 1 0 -3.2 0M213.75 233.13a1.6 1.6 0 1 0 3.2 0a1.6 1.6 0 1 0 -3.2 0M213.75 234.76a1.6 1.6 0 1 0 3.2 0a1.6 1.6 0 1 0 -3.2 0M213.75 236.51a1.6 1.6 0 1 0 3.2 0a1.6 1.6 0 1 0 -3.2 0M213.75 238.42a1.6 1.6 0 1 0 3.2 0a1.6 1.6 0 1 0 -3.2 0M213.75 244.89a1.6 1.6 0 1 0 3.2 0a1.6 1.6 0 1 0 -3.2 0M213.75 249.52a1.6 1.6 0 1 0 3.2 0a1.6 1.6 0 1 0 -3.2 0M213.75 257.24a1.6 1.6 0 1 0 3.2 0a1.6 1.6 0 1 0 -3.2 0M213.75 281.63a1.6 1.6 0 1 0 3.2 0a1.6 1.6 0 1 0 -3.2 0M224.16 38.14a1.6 1.6 0 1 0 3.2 0a1.6 1.6 0 1 0 -3.2 0M224.16 73.19a1.6 1.6 0 1 0 3.2 0a1.6 1.6 0 1 0 -3.2 0M224.16 77.36a1.6 1.6 0 1 0 3.2 0a1.6 1.6 0 1 0 -3.2 0M224.16 107.78a1.6 1.6 0 1 0 3.2 0a1.6 1.6 0 1 0 -3.2 0M224.16 107.18a1.6 1.6 0 1 0 3.2 0a1.6 1.6 0 1 0 -3.2 0M224.16 106.58a1.6 1.6 0 1 0 3.2 0a1.6 1.6 0 1 0 -3.2 0M224.16 105.97a1.6 1.6 0 1 0 3.2 0a1.6 1.6 0 1 0 -3.2 0M224.16 105.36a1.6 1.6 0 1 0 3.2 0a1.6 1.6 0 1 0 -3.2 0M224.16 104.74a1.6 1.6 0 1 0 3.2 0a1.6 1.6 0 1 0 -3.2 0M224.16 104.12a1.6 1.6 0 1 0 3.2 0a1.6 1.6 0 1 0 -3.2 0M224.16 103.47a1.6 1.6 0 1 0 3.2 0a1.6 1.6 0 1 0 -3.2 0M224.16 102.82a1.6 1.6 0 1 0 3.2 0a1.6 1.6 0 1 0 -3.2 0M224.16 102.14a1.6 1.6 0 1 0 3.2 0a1.6 1.6 0 1 0 -3.2 0M224.16 101.44a1.6 1.6 0 1 0 3.2 0a1.6 1.6 0 1 0 -3.2 0M224.16 100.72a1.6 1.6 0 1 0 3.2 0a1.6 1.6 0 1 0 -3.2 0M224.16 99.96a1.6 1.6 0 1 0 3.2 0a1.6 1.6 0 1 0 -3.2 0M224.16 99.17a1.6 1.6 0 1 0 3.2 0a1.6 1.6 0 1 0 -3.2 0M224.16 98.34a1.6 1.6 0 1 0 3.2 0a1.6 1.6 0 1 0 -3.2 0M224.16 97.47a1.6 1.6 0 1 0 3.2 0a1.6 1.6 0 1 0 -3.2 0M224.16 96.54a1.6 1.6 0 1 0 3.2 0a1.6 1.6 0 1 0 -3.2 0M224.16 95.54a1.6 1.6 0 1 0 3.2 0a1.6 1.6 0 1 0 -3.2 0M224.16 94.48a1.6 1.6 0 1 0 3.2 0a1.6 1.6 0 1 0 -3.2 0M224.16 93.33a1.6 1.6 0 1 0 3.2 0a1.6 1.6 0 1 0 -3.2 0M224.16 92.08a1.6 1.6 0 1 0 3.2 0a1.6 1.6 0 1 0 -3.2 0M224.16 90.71a1.6 1.6 0 1 0 3.2 0a1.6 1.6 0 1 0 -3.2 0M224.16 89.21a1.6 1.6 0 1 0 3.2 0a1.6 1.6 0 1 0 -3.2 0M224.16 87.54a1.6 1.6 0 1 0 3.2 0a1.6 1.6 0 1 0 -3.2 0M224.16 85.67a1.6 1.6 0 1 0 3.2 0a1.6 1.6 0 1 0 -3.2 0M224.16 207.06a1.6 1.6 0 1 0 3.2 0a1.6 1.6 0 1 0 -3.2 0M224.16 207.66a1.6 1.6 0 1 0 3.2 0a1.6 1.6 0 1 0 -3.2 0M224.16 208.26a1.6 1.6 0 1 0 3.2 0a1.6 1.6 0 1 0 -3.2 0M224.16 208.86a1.6 1.6 0 1 0 3.2 0a1.6 1.6 0 1 0 -3.2 0M224.16 209.47a1.6 1.6 0 1 0 3.2 0a1.6 1.6 0 1 0 -3.2 0M224.16 210.08a1.6 1.6 0 1 0 3.2 0a1.6 1.6 0 1 0 -3.2 0M224.16 210.7a1.6 1.6 0 1 0 3.2 0a1.6 1.6 0 1 0 -3.2 0M224.16 211.33a1.6 1.6 0 1 0 3.2 0a1.6 1.6 0 1 0 -3.2 0M224.16 211.97a1.6 1.6 0 1 0 3.2 0a1.6 1.6 0 1 0 -3.2 0M224.16 212.62a1.6 1.6 0 1 0 3.2 0a1.6 1.6 0 1 0 -3.2 0M224.16 213.29a1.6 1.6 0 1 0 3.2 0a1.6 1.6 0 1 0 -3.2 0M224.16 213.98a1.6 1.6 0 1 0 3.2 0a1.6 1.6 0 1 0 -3.2 0M224.16 214.68a1.6 1.6 0 1 0 3.2 0a1.6 1.6 0 1 0 -3.2 0M224.16 215.41a1.6 1.6 0 1 0 3.2 0a1.6 1.6 0 1 0 -3.2 0M224.16 216.16a1.6 1.6 0 1 0 3.2 0a1.6 1.6 0 1 0 -3.2 0M224.16 216.94a1.6 1.6 0 1 0 3.2 0a1.6 1.6 0 1 0 -3.2 0M224.16 217.76a1.6 1.6 0 1 0 3.2 0a1.6 1.6 0 1 0 -3.2 0M224.16 218.61a1.6 1.6 0 1 0 3.2 0a1.6 1.6 0 1 0 -3.2 0M224.16 219.5a1.6 1.6 0 1 0 3.2 0a1.6 1.6 0 1 0 -3.2 0M224.16 220.44a1.6 1.6 0 1 0 3.2 0a1.6 1.6 0 1 0 -3.2 0M224.16 221.43a1.6 1.6 0 1 0 3.2 0a1.6 1.6 0 1 0 -3.2 0M224.16 222.49a1.6 1.6 0 1 0 3.2 0a1.6 1.6 0 1 0 -3.2 0M224.16 223.61a1.6 1.6 0 1 0 3.2 0a1.6 1.6 0 1 0 -3.2 0M224.16 224.81a1.6 1.6 0 1 0 3.2 0a1.6 1.6 0 1 0 -3.2 0M224.16 226.1a1.6 1.6 0 1 0 3.2 0a1.6 1.6 0 1 0 -3.2 0M224.16 227.49a1.6 1.6 0 1 0 3.2 0a1.6 1.6 0 1 0 -3.2 0M224.16 229.01a1.6 1.6 0 1 0 3.2 0a1.6 1.6 0 1 0 -3.2 0M224.16 230.66a1.6 1.6 0 1 0 3.2 0a1.6 1.6 0 1 0 -3.2 0M224.16 232.48a1.6 1.6 0 1 0 3.2 0a1.6 1.6 0 1 0 -3.2 0M224.16 239.48a1.6 1.6 0 1 0 3.2 0a1.6 1.6 0 1 0 -3.2 0M224.16 242.57a1.6 1.6 0 1 0 3.2 0a1.6 1.6 0 1 0 -3.2 0M224.16 245.81a1.6 1.6 0 1 0 3.2 0a1.6 1.6 0 1 0 -3.2 0M224.16 256.77a1.6 1.6 0 1 0 3.2 0a1.6 1.6 0 1 0 -3.2 0M224.16 273.3a1.6 1.6 0 1 0 3.2 0a1.6 1.6 0 1 0 -3.2 0M224.16 278.08a1.6 1.6 0 1 0 3.2 0a1.6 1.6 0 1 0 -3.2 0M234.56 61.61a1.6 1.6 0 1 0 3.2 0a1.6 1.6 0 1 0 -3.2 0M234.56 68.1a1.6 1.6 0 1 0 3.2 0a1.6 1.6 0 1 0 -3.2 0M234.56 71.19a1.6 1.6 0 1 0 3.2 0a1.6 1.6 0 1 0 -3.2 0M234.56 74.27a1.6 1.6 0 1 0 3.2 0a1.6 1.6 0 1 0 -3.2 0M234.56 77.36a1.6 1.6 0 1 0 3.2 0a1.6 1.6 0 1 0 -3.2 0M234.56 105.93a1.6 1.6 0 1 0 3.2 0a1.6 1.6 0 1 0 -3.2 0M234.56 105.33a1.6 1.6 0 1 0 3.2 0a1.6 1.6 0 1 0 -3.2 0M234.56 104.73a1.6 1.6 0 1 0 3.2 0a1.6 1.6 0 1 0 -3.2 0M234.56 104.12a1.6 1.6 0 1 0 3.2 0a1.6 1.6 0 1 0 -3.2 0M234.56 103.51a1.6 1.6 0 1 0 3.2 0a1.6 1.6 0 1 0 -3.2 0M234.56 102.9a1.6 1.6 0 1 0 3.2 0a1.6 1.6 0 1 0 -3.2 0M234.56 102.28a1.6 1.6 0 1 0 3.2 0a1.6 1.6 0 1 0 -3.2 0M234.56 101.64a1.6 1.6 0 1 0 3.2 0a1.6 1.6 0 1 0 -3.2 0M234.56 101a1.6 1.6 0 1 0 3.2 0a1.6 1.6 0 1 0 -3.2 0M234.56 100.34a1.6 1.6 0 1 0 3.2 0a1.6 1.6 0 1 0 -3.2 0M234.56 99.66a1.6 1.6 0 1 0 3.2 0a1.6 1.6 0 1 0 -3.2 0M234.56 98.96a1.6 1.6 0 1 0 3.2 0a1.6 1.6 0 1 0 -3.2 0M234.56 98.24a1.6 1.6 0 1 0 3.2 0a1.6 1.6 0 1 0 -3.2 0M234.56 97.49a1.6 1.6 0 1 0 3.2 0a1.6 1.6 0 1 0 -3.2 0M234.56 96.71a1.6 1.6 0 1 0 3.2 0a1.6 1.6 0 1 0 -3.2 0M234.56 95.9a1.6 1.6 0 1 0 3.2 0a1.6 1.6 0 1 0 -3.2 0M234.56 95.05a1.6 1.6 0 1 0 3.2 0a1.6 1.6 0 1 0 -3.2 0M234.56 94.16a1.6 1.6 0 1 0 3.2 0a1.6 1.6 0 1 0 -3.2 0M234.56 93.21a1.6 1.6 0 1 0 3.2 0a1.6 1.6 0 1 0 -3.2 0M234.56 92.21a1.6 1.6 0 1 0 3.2 0a1.6 1.6 0 1 0 -3.2 0M234.56 91.14a1.6 1.6 0 1 0 3.2 0a1.6 1.6 0 1 0 -3.2 0M234.56 89.99a1.6 1.6 0 1 0 3.2 0a1.6 1.6 0 1 0 -3.2 0M234.56 88.76a1.6 1.6 0 1 0 3.2 0a1.6 1.6 0 1 0 -3.2 0M234.56 87.42a1.6 1.6 0 1 0 3.2 0a1.6 1.6 0 1 0 -3.2 0M234.56 85.97a1.6 1.6 0 1 0 3.2 0a1.6 1.6 0 1 0 -3.2 0M234.56 84.38a1.6 1.6 0 1 0 3.2 0a1.6 1.6 0 1 0 -3.2 0M234.56 82.62a1.6 1.6 0 1 0 3.2 0a1.6 1.6 0 1 0 -3.2 0M234.56 80.66a1.6 1.6 0 1 0 3.2 0a1.6 1.6 0 1 0 -3.2 0M234.56 207.98a1.6 1.6 0 1 0 3.2 0a1.6 1.6 0 1 0 -3.2 0M234.56 208.58a1.6 1.6 0 1 0 3.2 0a1.6 1.6 0 1 0 -3.2 0M234.56 209.18a1.6 1.6 0 1 0 3.2 0a1.6 1.6 0 1 0 -3.2 0M234.56 209.79a1.6 1.6 0 1 0 3.2 0a1.6 1.6 0 1 0 -3.2 0M234.56 210.39a1.6 1.6 0 1 0 3.2 0a1.6 1.6 0 1 0 -3.2 0M234.56 211a1.6 1.6 0 1 0 3.2 0a1.6 1.6 0 1 0 -3.2 0M234.56 211.61a1.6 1.6 0 1 0 3.2 0a1.6 1.6 0 1 0 -3.2 0M234.56 212.23a1.6 1.6 0 1 0 3.2 0a1.6 1.6 0 1 0 -3.2 0M234.56 212.86a1.6 1.6 0 1 0 3.2 0a1.6 1.6 0 1 0 -3.2 0M234.56 213.49a1.6 1.6 0 1 0 3.2 0a1.6 1.6 0 1 0 -3.2 0M234.56 214.13a1.6 1.6 0 1 0 3.2 0a1.6 1.6 0 1 0 -3.2 0M234.56 214.79a1.6 1.6 0 1 0 3.2 0a1.6 1.6 0 1 0 -3.2 0M234.56 215.45a1.6 1.6 0 1 0 3.2 0a1.6 1.6 0 1 0 -3.2 0M234.56 216.13a1.6 1.6 0 1 0 3.2 0a1.6 1.6 0 1 0 -3.2 0M234.56 216.83a1.6 1.6 0 1 0 3.2 0a1.6 1.6 0 1 0 -3.2 0M234.56 217.54a1.6 1.6 0 1 0 3.2 0a1.6 1.6 0 1 0 -3.2 0M234.56 218.27a1.6 1.6 0 1 0 3.2 0a1.6 1.6 0 1 0 -3.2 0M234.56 219.02a1.6 1.6 0 1 0 3.2 0a1.6 1.6 0 1 0 -3.2 0M234.56 219.79a1.6 1.6 0 1 0 3.2 0a1.6 1.6 0 1 0 -3.2 0M234.56 220.59a1.6 1.6 0 1 0 3.2 0a1.6 1.6 0 1 0 -3.2 0M234.56 221.42a1.6 1.6 0 1 0 3.2 0a1.6 1.6 0 1 0 -3.2 0M234.56 222.28a1.6 1.6 0 1 0 3.2 0a1.6 1.6 0 1 0 -3.2 0M234.56 223.17a1.6 1.6 0 1 0 3.2 0a1.6 1.6 0 1 0 -3.2 0M234.56 224.1a1.6 1.6 0 1 0 3.2 0a1.6 1.6 0 1 0 -3.2 0M234.56 225.07a1.6 1.6 0 1 0 3.2 0a1.6 1.6 0 1 0 -3.2 0M234.56 226.08a1.6 1.6 0 1 0 3.2 0a1.6 1.6 0 1 0 -3.2 0M234.56 227.15a1.6 1.6 0 1 0 3.2 0a1.6 1.6 0 1 0 -3.2 0M234.56 228.27a1.6 1.6 0 1 0 3.2 0a1.6 1.6 0 1 0 -3.2 0M234.56 229.46a1.6 1.6 0 1 0 3.2 0a1.6 1.6 0 1 0 -3.2 0M234.56 230.72a1.6 1.6 0 1 0 3.2 0a1.6 1.6 0 1 0 -3.2 0M234.56 232.05a1.6 1.6 0 1 0 3.2 0a1.6 1.6 0 1 0 -3.2 0M234.56 233.48a1.6 1.6 0 1 0 3.2 0a1.6 1.6 0 1 0 -3.2 0M234.56 235.01a1.6 1.6 0 1 0 3.2 0a1.6 1.6 0 1 0 -3.2 0M234.56 236.65a1.6 1.6 0 1 0 3.2 0a1.6 1.6 0 1 0 -3.2 0M234.56 238.42a1.6 1.6 0 1 0 3.2 0a1.6 1.6 0 1 0 -3.2 0M234.56 240.34a1.6 1.6 0 1 0 3.2 0a1.6 1.6 0 1 0 -3.2 0M234.56 248.59a1.6 1.6 0 1 0 3.2 0a1.6 1.6 0 1 0 -3.2 0M234.56 251.83a1.6 1.6 0 1 0 3.2 0a1.6 1.6 0 1 0 -3.2 0M234.56 256.77a1.6 1.6 0 1 0 3.2 0a1.6 1.6 0 1 0 -3.2 0M234.56 260.48a1.6 1.6 0 1 0 3.2 0a1.6 1.6 0 1 0 -3.2 0M234.56 264.19a1.6 1.6 0 1 0 3.2 0a1.6 1.6 0 1 0 -3.2 0M234.56 266.04a1.6 1.6 0 1 0 3.2 0a1.6 1.6 0 1 0 -3.2 0M234.56 272.37a1.6 1.6 0 1 0 3.2 0a1.6 1.6 0 1 0 -3.2 0M234.56 286.73a1.6 1.6 0 1 0 3.2 0a1.6 1.6 0 1 0 -3.2 0M244.97 49.72a1.6 1.6 0 1 0 3.2 0a1.6 1.6 0 1 0 -3.2 0M244.97 70.72a1.6 1.6 0 1 0 3.2 0a1.6 1.6 0 1 0 -3.2 0M244.97 73.5a1.6 1.6 0 1 0 3.2 0a1.6 1.6 0 1 0 -3.2 0M244.97 76.59a1.6 1.6 0 1 0 3.2 0a1.6 1.6 0 1 0 -3.2 0M244.97 79.99a1.6 1.6 0 1 0 3.2 0a1.6 1.6 0 1 0 -3.2 0M244.97 106.85a1.6 1.6 0 1 0 3.2 0a1.6 1.6 0 1 0 -3.2 0M244.97 106.25a1.6 1.6 0 1 0 3.2 0a1.6 1.6 0 1 0 -3.2 0M244.97 105.65a1.6 1.6 0 1 0 3.2 0a1.6 1.6 0 1 0 -3.2 0M244.97 105.05a1.6 1.6 0 1 0 3.2 0a1.6 1.6 0 1 0 -3.2 0M244.97 104.43a1.6 1.6 0 1 0 3.2 0a1.6 1.6 0 1 0 -3.2 0M244.97 103.81a1.6 1.6 0 1 0 3.2 0a1.6 1.6 0 1 0 -3.2 0M244.97 103.18a1.6 1.6 0 1 0 3.2 0a1.6 1.6 0 1 0 -3.2 0M244.97 102.53a1.6 1.6 0 1 0 3.2 0a1.6 1.6 0 1 0 -3.2 0M244.97 101.86a1.6 1.6 0 1 0 3.2 0a1.6 1.6 0 1 0 -3.2 0M244.97 101.17a1.6 1.6 0 1 0 3.2 0a1.6 1.6 0 1 0 -3.2 0M244.97 100.45a1.6 1.6 0 1 0 3.2 0a1.6 1.6 0 1 0 -3.2 0M244.97 99.7a1.6 1.6 0 1 0 3.2 0a1.6 1.6 0 1 0 -3.2 0M244.97 98.91a1.6 1.6 0 1 0 3.2 0a1.6 1.6 0 1 0 -3.2 0M244.97 98.08a1.6 1.6 0 1 0 3.2 0a1.6 1.6 0 1 0 -3.2 0M244.97 97.19a1.6 1.6 0 1 0 3.2 0a1.6 1.6 0 1 0 -3.2 0M244.97 96.25a1.6 1.6 0 1 0 3.2 0a1.6 1.6 0 1 0 -3.2 0M244.97 95.24a1.6 1.6 0 1 0 3.2 0a1.6 1.6 0 1 0 -3.2 0M244.97 94.14a1.6 1.6 0 1 0 3.2 0a1.6 1.6 0 1 0 -3.2 0M244.97 92.94a1.6 1.6 0 1 0 3.2 0a1.6 1.6 0 1 0 -3.2 0M244.97 91.63a1.6 1.6 0 1 0 3.2 0a1.6 1.6 0 1 0 -3.2 0M244.97 90.18a1.6 1.6 0 1 0 3.2 0a1.6 1.6 0 1 0 -3.2 0M244.97 88.55a1.6 1.6 0 1 0 3.2 0a1.6 1.6 0 1 0 -3.2 0M244.97 86.72a1.6 1.6 0 1 0 3.2 0a1.6 1.6 0 1 0 -3.2 0M244.97 208.91a1.6 1.6 0 1 0 3.2 0a1.6 1.6 0 1 0 -3.2 0M244.97 209.51a1.6 1.6 0 1 0 3.2 0a1.6 1.6 0 1 0 -3.2 0M244.97 210.11a1.6 1.6 0 1 0 3.2 0a1.6 1.6 0 1 0 -3.2 0M244.97 210.71a1.6 1.6 0 1 0 3.2 0a1.6 1.6 0 1 0 -3.2 0M244.97 211.31a1.6 1.6 0 1 0 3.2 0a1.6 1.6 0 1 0 -3.2 0M244.97 211.92a1.6 1.6 0 1 0 3.2 0a1.6 1.6 0 1 0 -3.2 0M244.97 212.53a1.6 1.6 0 1 0 3.2 0a1.6 1.6 0 1 0 -3.2 0M244.97 213.14a1.6 1.6 0 1 0 3.2 0a1.6 1.6 0 1 0 -3.2 0M244.97 213.75a1.6 1.6 0 1 0 3.2 0a1.6 1.6 0 1 0 -3.2 0M244.97 214.37a1.6 1.6 0 1 0 3.2 0a1.6 1.6 0 1 0 -3.2 0M244.97 214.99a1.6 1.6 0 1 0 3.2 0a1.6 1.6 0 1 0 -3.2 0M244.97 215.62a1.6 1.6 0 1 0 3.2 0a1.6 1.6 0 1 0 -3.2 0M244.97 216.26a1.6 1.6 0 1 0 3.2 0a1.6 1.6 0 1 0 -3.2 0M244.97 216.9a1.6 1.6 0 1 0 3.2 0a1.6 1.6 0 1 0 -3.2 0M244.97 217.55a1.6 1.6 0 1 0 3.2 0a1.6 1.6 0 1 0 -3.2 0M244.97 218.2a1.6 1.6 0 1 0 3.2 0a1.6 1.6 0 1 0 -3.2 0M244.97 218.87a1.6 1.6 0 1 0 3.2 0a1.6 1.6 0 1 0 -3.2 0M244.97 219.55a1.6 1.6 0 1 0 3.2 0a1.6 1.6 0 1 0 -3.2 0M244.97 220.24a1.6 1.6 0 1 0 3.2 0a1.6 1.6 0 1 0 -3.2 0M244.97 220.94a1.6 1.6 0 1 0 3.2 0a1.6 1.6 0 1 0 -3.2 0M244.97 221.65a1.6 1.6 0 1 0 3.2 0a1.6 1.6 0 1 0 -3.2 0M244.97 222.37a1.6 1.6 0 1 0 3.2 0a1.6 1.6 0 1 0 -3.2 0M244.97 223.12a1.6 1.6 0 1 0 3.2 0a1.6 1.6 0 1 0 -3.2 0M244.97 223.87a1.6 1.6 0 1 0 3.2 0a1.6 1.6 0 1 0 -3.2 0M244.97 224.65a1.6 1.6 0 1 0 3.2 0a1.6 1.6 0 1 0 -3.2 0M244.97 225.44a1.6 1.6 0 1 0 3.2 0a1.6 1.6 0 1 0 -3.2 0M244.97 226.25a1.6 1.6 0 1 0 3.2 0a1.6 1.6 0 1 0 -3.2 0M244.97 227.08a1.6 1.6 0 1 0 3.2 0a1.6 1.6 0 1 0 -3.2 0M244.97 227.94a1.6 1.6 0 1 0 3.2 0a1.6 1.6 0 1 0 -3.2 0M244.97 228.82a1.6 1.6 0 1 0 3.2 0a1.6 1.6 0 1 0 -3.2 0M244.97 229.73a1.6 1.6 0 1 0 3.2 0a1.6 1.6 0 1 0 -3.2 0M244.97 230.67a1.6 1.6 0 1 0 3.2 0a1.6 1.6 0 1 0 -3.2 0M244.97 231.63a1.6 1.6 0 1 0 3.2 0a1.6 1.6 0 1 0 -3.2 0M244.97 232.63a1.6 1.6 0 1 0 3.2 0a1.6 1.6 0 1 0 -3.2 0M244.97 233.67a1.6 1.6 0 1 0 3.2 0a1.6 1.6 0 1 0 -3.2 0M244.97 234.75a1.6 1.6 0 1 0 3.2 0a1.6 1.6 0 1 0 -3.2 0M244.97 235.86a1.6 1.6 0 1 0 3.2 0a1.6 1.6 0 1 0 -3.2 0M244.97 237.03a1.6 1.6 0 1 0 3.2 0a1.6 1.6 0 1 0 -3.2 0M244.97 238.24a1.6 1.6 0 1 0 3.2 0a1.6 1.6 0 1 0 -3.2 0M244.97 239.51a1.6 1.6 0 1 0 3.2 0a1.6 1.6 0 1 0 -3.2 0M244.97 240.84a1.6 1.6 0 1 0 3.2 0a1.6 1.6 0 1 0 -3.2 0M244.97 242.23a1.6 1.6 0 1 0 3.2 0a1.6 1.6 0 1 0 -3.2 0M244.97 243.69a1.6 1.6 0 1 0 3.2 0a1.6 1.6 0 1 0 -3.2 0M244.97 245.23a1.6 1.6 0 1 0 3.2 0a1.6 1.6 0 1 0 -3.2 0M244.97 246.86a1.6 1.6 0 1 0 3.2 0a1.6 1.6 0 1 0 -3.2 0M244.97 248.57a1.6 1.6 0 1 0 3.2 0a1.6 1.6 0 1 0 -3.2 0M244.97 250.39a1.6 1.6 0 1 0 3.2 0a1.6 1.6 0 1 0 -3.2 0M244.97 252.33a1.6 1.6 0 1 0 3.2 0a1.6 1.6 0 1 0 -3.2 0M244.97 260.48a1.6 1.6 0 1 0 3.2 0a1.6 1.6 0 1 0 -3.2 0M244.97 262.64a1.6 1.6 0 1 0 3.2 0a1.6 1.6 0 1 0 -3.2 0M244.97 266.04a1.6 1.6 0 1 0 3.2 0a1.6 1.6 0 1 0 -3.2 0M244.97 278.08a1.6 1.6 0 1 0 3.2 0a1.6 1.6 0 1 0 -3.2 0M255.38 26.26a1.6 1.6 0 1 0 3.2 0a1.6 1.6 0 1 0 -3.2 0M255.38 31.35a1.6 1.6 0 1 0 3.2 0a1.6 1.6 0 1 0 -3.2 0M255.38 65.78a1.6 1.6 0 1 0 3.2 0a1.6 1.6 0 1 0 -3.2 0M255.38 73.97a1.6 1.6 0 1 0 3.2 0a1.6 1.6 0 1 0 -3.2 0M255.38 77.36a1.6 1.6 0 1 0 3.2 0a1.6 1.6 0 1 0 -3.2 0M255.38 79.99a1.6 1.6 0 1 0 3.2 0a1.6 1.6 0 1 0 -3.2 0M255.38 105a1.6 1.6 0 1 0 3.2 0a1.6 1.6 0 1 0 -3.2 0M255.38 104.4a1.6 1.6 0 1 0 3.2 0a1.6 1.6 0 1 0 -3.2 0M255.38 103.8a1.6 1.6 0 1 0 3.2 0a1.6 1.6 0 1 0 -3.2 0M255.38 103.19a1.6 1.6 0 1 0 3.2 0a1.6 1.6 0 1 0 -3.2 0M255.38 102.58a1.6 1.6 0 1 0 3.2 0a1.6 1.6 0 1 0 -3.2 0M255.38 101.95a1.6 1.6 0 1 0 3.2 0a1.6 1.6 0 1 0 -3.2 0M255.38 101.31a1.6 1.6 0 1 0 3.2 0a1.6 1.6 0 1 0 -3.2 0M255.38 100.65a1.6 1.6 0 1 0 3.2 0a1.6 1.6 0 1 0 -3.2 0M255.38 99.97a1.6 1.6 0 1 0 3.2 0a1.6 1.6 0 1 0 -3.2 0M255.38 99.25a1.6 1.6 0 1 0 3.2 0a1.6 1.6 0 1 0 -3.2 0M255.38 98.51a1.6 1.6 0 1 0 3.2 0a1.6 1.6 0 1 0 -3.2 0M255.38 97.72a1.6 1.6 0 1 0 3.2 0a1.6 1.6 0 1 0 -3.2 0M255.38 96.88a1.6 1.6 0 1 0 3.2 0a1.6 1.6 0 1 0 -3.2 0M255.38 95.99a1.6 1.6 0 1 0 3.2 0a1.6 1.6 0 1 0 -3.2 0M255.38 95.03a1.6 1.6 0 1 0 3.2 0a1.6 1.6 0 1 0 -3.2 0M255.38 93.99a1.6 1.6 0 1 0 3.2 0a1.6 1.6 0 1 0 -3.2 0M255.38 92.85a1.6 1.6 0 1 0 3.2 0a1.6 1.6 0 1 0 -3.2 0M255.38 91.6a1.6 1.6 0 1 0 3.2 0a1.6 1.6 0 1 0 -3.2 0M255.38 90.2a1.6 1.6 0 1 0 3.2 0a1.6 1.6 0 1 0 -3.2 0M255.38 88.63a1.6 1.6 0 1 0 3.2 0a1.6 1.6 0 1 0 -3.2 0M255.38 86.84a1.6 1.6 0 1 0 3.2 0a1.6 1.6 0 1 0 -3.2 0M255.38 205.98a1.6 1.6 0 1 0 3.2 0a1.6 1.6 0 1 0 -3.2 0M255.38 206.58a1.6 1.6 0 1 0 3.2 0a1.6 1.6 0 1 0 -3.2 0M255.38 207.18a1.6 1.6 0 1 0 3.2 0a1.6 1.6 0 1 0 -3.2 0M255.38 207.78a1.6 1.6 0 1 0 3.2 0a1.6 1.6 0 1 0 -3.2 0M255.38 208.38a1.6 1.6 0 1 0 3.2 0a1.6 1.6 0 1 0 -3.2 0M255.38 208.98a1.6 1.6 0 1 0 3.2 0a1.6 1.6 0 1 0 -3.2 0M255.38 209.59a1.6 1.6 0 1 0 3.2 0a1.6 1.6 0 1 0 -3.2 0M255.38 210.2a1.6 1.6 0 1 0 3.2 0a1.6 1.6 0 1 0 -3.2 0M255.38 210.81a1.6 1.6 0 1 0 3.2 0a1.6 1.6 0 1 0 -3.2 0M255.38 211.43a1.6 1.6 0 1 0 3.2 0a1.6 1.6 0 1 0 -3.2 0M255.38 212.05a1.6 1.6 0 1 0 3.2 0a1.6 1.6 0 1 0 -3.2 0M255.38 212.67a1.6 1.6 0 1 0 3.2 0a1.6 1.6 0 1 0 -3.2 0M255.38 213.3a1.6 1.6 0 1 0 3.2 0a1.6 1.6 0 1 0 -3.2 0M255.38 213.93a1.6 1.6 0 1 0 3.2 0a1.6 1.6 0 1 0 -3.2 0M255.38 214.58a1.6 1.6 0 1 0 3.2 0a1.6 1.6 0 1 0 -3.2 0M255.38 215.23a1.6 1.6 0 1 0 3.2 0a1.6 1.6 0 1 0 -3.2 0M255.38 215.88a1.6 1.6 0 1 0 3.2 0a1.6 1.6 0 1 0 -3.2 0M255.38 216.55a1.6 1.6 0 1 0 3.2 0a1.6 1.6 0 1 0 -3.2 0M255.38 217.22a1.6 1.6 0 1 0 3.2 0a1.6 1.6 0 1 0 -3.2 0M255.38 217.9a1.6 1.6 0 1 0 3.2 0a1.6 1.6 0 1 0 -3.2 0M255.38 218.6a1.6 1.6 0 1 0 3.2 0a1.6 1.6 0 1 0 -3.2 0M255.38 219.3a1.6 1.6 0 1 0 3.2 0a1.6 1.6 0 1 0 -3.2 0M255.38 220.02a1.6 1.6 0 1 0 3.2 0a1.6 1.6 0 1 0 -3.2 0M255.38 220.75a1.6 1.6 0 1 0 3.2 0a1.6 1.6 0 1 0 -3.2 0M255.38 221.49a1.6 1.6 0 1 0 3.2 0a1.6 1.6 0 1 0 -3.2 0M255.38 222.25a1.6 1.6 0 1 0 3.2 0a1.6 1.6 0 1 0 -3.2 0M255.38 223.03a1.6 1.6 0 1 0 3.2 0a1.6 1.6 0 1 0 -3.2 0M255.38 223.82a1.6 1.6 0 1 0 3.2 0a1.6 1.6 0 1 0 -3.2 0M255.38 224.63a1.6 1.6 0 1 0 3.2 0a1.6 1.6 0 1 0 -3.2 0M255.38 225.46a1.6 1.6 0 1 0 3.2 0a1.6 1.6 0 1 0 -3.2 0M255.38 226.31a1.6 1.6 0 1 0 3.2 0a1.6 1.6 0 1 0 -3.2 0M255.38 227.18a1.6 1.6 0 1 0 3.2 0a1.6 1.6 0 1 0 -3.2 0M255.38 228.08a1.6 1.6 0 1 0 3.2 0a1.6 1.6 0 1 0 -3.2 0M255.38 229a1.6 1.6 0 1 0 3.2 0a1.6 1.6 0 1 0 -3.2 0M255.38 229.95a1.6 1.6 0 1 0 3.2 0a1.6 1.6 0 1 0 -3.2 0M255.38 230.93a1.6 1.6 0 1 0 3.2 0a1.6 1.6 0 1 0 -3.2 0M255.38 231.94a1.6 1.6 0 1 0 3.2 0a1.6 1.6 0 1 0 -3.2 0M255.38 232.98a1.6 1.6 0 1 0 3.2 0a1.6 1.6 0 1 0 -3.2 0M255.38 234.06a1.6 1.6 0 1 0 3.2 0a1.6 1.6 0 1 0 -3.2 0M255.38 235.18a1.6 1.6 0 1 0 3.2 0a1.6 1.6 0 1 0 -3.2 0M255.38 236.35a1.6 1.6 0 1 0 3.2 0a1.6 1.6 0 1 0 -3.2 0M255.38 237.56a1.6 1.6 0 1 0 3.2 0a1.6 1.6 0 1 0 -3.2 0M255.38 238.81a1.6 1.6 0 1 0 3.2 0a1.6 1.6 0 1 0 -3.2 0M255.38 240.12a1.6 1.6 0 1 0 3.2 0a1.6 1.6 0 1 0 -3.2 0M255.38 241.49a1.6 1.6 0 1 0 3.2 0a1.6 1.6 0 1 0 -3.2 0M255.38 242.93a1.6 1.6 0 1 0 3.2 0a1.6 1.6 0 1 0 -3.2 0M255.38 244.43a1.6 1.6 0 1 0 3.2 0a1.6 1.6 0 1 0 -3.2 0M255.38 246a1.6 1.6 0 1 0 3.2 0a1.6 1.6 0 1 0 -3.2 0M255.38 247.66a1.6 1.6 0 1 0 3.2 0a1.6 1.6 0 1 0 -3.2 0M255.38 249.4a1.6 1.6 0 1 0 3.2 0a1.6 1.6 0 1 0 -3.2 0M255.38 251.25a1.6 1.6 0 1 0 3.2 0a1.6 1.6 0 1 0 -3.2 0M255.38 253.2a1.6 1.6 0 1 0 3.2 0a1.6 1.6 0 1 0 -3.2 0M265.78 49.72a1.6 1.6 0 1 0 3.2 0a1.6 1.6 0 1 0 -3.2 0M265.78 57.91a1.6 1.6 0 1 0 3.2 0a1.6 1.6 0 1 0 -3.2 0M265.78 69.95a1.6 1.6 0 1 0 3.2 0a1.6 1.6 0 1 0 -3.2 0M265.78 104.23a1.6 1.6 0 1 0 3.2 0a1.6 1.6 0 1 0 -3.2 0M265.78 103.63a1.6 1.6 0 1 0 3.2 0a1.6 1.6 0 1 0 -3.2 0M265.78 103.03a1.6 1.6 0 1 0 3.2 0a1.6 1.6 0 1 0 -3.2 0M265.78 102.42a1.6 1.6 0 1 0 3.2 0a1.6 1.6 0 1 0 -3.2 0M265.78 101.82a1.6 1.6 0 1 0 3.2 0a1.6 1.6 0 1 0 -3.2 0M265.78 101.2a1.6 1.6 0 1 0 3.2 0a1.6 1.6 0 1 0 -3.2 0M265.78 100.58a1.6 1.6 0 1 0 3.2 0a1.6 1.6 0 1 0 -3.2 0M265.78 99.95a1.6 1.6 0 1 0 3.2 0a1.6 1.6 0 1 0 -3.2 0M265.78 99.31a1.6 1.6 0 1 0 3.2 0a1.6 1.6 0 1 0 -3.2 0M265.78 98.65a1.6 1.6 0 1 0 3.2 0a1.6 1.6 0 1 0 -3.2 0M265.78 97.98a1.6 1.6 0 1 0 3.2 0a1.6 1.6 0 1 0 -3.2 0M265.78 97.29a1.6 1.6 0 1 0 3.2 0a1.6 1.6 0 1 0 -3.2 0M265.78 96.58a1.6 1.6 0 1 0 3.2 0a1.6 1.6 0 1 0 -3.2 0M265.78 95.85a1.6 1.6 0 1 0 3.2 0a1.6 1.6 0 1 0 -3.2 0M265.78 95.09a1.6 1.6 0 1 0 3.2 0a1.6 1.6 0 1 0 -3.2 0M265.78 94.3a1.6 1.6 0 1 0 3.2 0a1.6 1.6 0 1 0 -3.2 0M265.78 93.47a1.6 1.6 0 1 0 3.2 0a1.6 1.6 0 1 0 -3.2 0M265.78 92.6a1.6 1.6 0 1 0 3.2 0a1.6 1.6 0 1 0 -3.2 0M265.78 91.69a1.6 1.6 0 1 0 3.2 0a1.6 1.6 0 1 0 -3.2 0M265.78 90.73a1.6 1.6 0 1 0 3.2 0a1.6 1.6 0 1 0 -3.2 0M265.78 89.71a1.6 1.6 0 1 0 3.2 0a1.6 1.6 0 1 0 -3.2 0M265.78 88.63a1.6 1.6 0 1 0 3.2 0a1.6 1.6 0 1 0 -3.2 0M265.78 87.47a1.6 1.6 0 1 0 3.2 0a1.6 1.6 0 1 0 -3.2 0M265.78 86.23a1.6 1.6 0 1 0 3.2 0a1.6 1.6 0 1 0 -3.2 0M265.78 84.88a1.6 1.6 0 1 0 3.2 0a1.6 1.6 0 1 0 -3.2 0M265.78 83.43a1.6 1.6 0 1 0 3.2 0a1.6 1.6 0 1 0 -3.2 0M265.78 81.83a1.6 1.6 0 1 0 3.2 0a1.6 1.6 0 1 0 -3.2 0M265.78 80.08a1.6 1.6 0 1 0 3.2 0a1.6 1.6 0 1 0 -3.2 0M265.78 78.14a1.6 1.6 0 1 0 3.2 0a1.6 1.6 0 1 0 -3.2 0M265.78 209.68a1.6 1.6 0 1 0 3.2 0a1.6 1.6 0 1 0 -3.2 0M265.78 210.28a1.6 1.6 0 1 0 3.2 0a1.6 1.6 0 1 0 -3.2 0M265.78 210.88a1.6 1.6 0 1 0 3.2 0a1.6 1.6 0 1 0 -3.2 0M265.78 211.49a1.6 1.6 0 1 0 3.2 0a1.6 1.6 0 1 0 -3.2 0M265.78 212.09a1.6 1.6 0 1 0 3.2 0a1.6 1.6 0 1 0 -3.2 0M265.78 212.7a1.6 1.6 0 1 0 3.2 0a1.6 1.6 0 1 0 -3.2 0M265.78 213.31a1.6 1.6 0 1 0 3.2 0a1.6 1.6 0 1 0 -3.2 0M265.78 213.94a1.6 1.6 0 1 0 3.2 0a1.6 1.6 0 1 0 -3.2 0M265.78 214.56a1.6 1.6 0 1 0 3.2 0a1.6 1.6 0 1 0 -3.2 0M265.78 215.2a1.6 1.6 0 1 0 3.2 0a1.6 1.6 0 1 0 -3.2 0M265.78 215.85a1.6 1.6 0 1 0 3.2 0a1.6 1.6 0 1 0 -3.2 0M265.78 216.51a1.6 1.6 0 1 0 3.2 0a1.6 1.6 0 1 0 -3.2 0M265.78 217.18a1.6 1.6 0 1 0 3.2 0a1.6 1.6 0 1 0 -3.2 0M265.78 217.87a1.6 1.6 0 1 0 3.2 0a1.6 1.6 0 1 0 -3.2 0M265.78 218.58a1.6 1.6 0 1 0 3.2 0a1.6 1.6 0 1 0 -3.2 0M265.78 219.3a1.6 1.6 0 1 0 3.2 0a1.6 1.6 0 1 0 -3.2 0M265.78 220.05a1.6 1.6 0 1 0 3.2 0a1.6 1.6 0 1 0 -3.2 0M265.78 220.82a1.6 1.6 0 1 0 3.2 0a1.6 1.6 0 1 0 -3.2 0M265.78 221.62a1.6 1.6 0 1 0 3.2 0a1.6 1.6 0 1 0 -3.2 0M265.78 222.44a1.6 1.6 0 1 0 3.2 0a1.6 1.6 0 1 0 -3.2 0M265.78 223.3a1.6 1.6 0 1 0 3.2 0a1.6 1.6 0 1 0 -3.2 0M265.78 224.19a1.6 1.6 0 1 0 3.2 0a1.6 1.6 0 1 0 -3.2 0M265.78 225.13a1.6 1.6 0 1 0 3.2 0a1.6 1.6 0 1 0 -3.2 0M265.78 226.1a1.6 1.6 0 1 0 3.2 0a1.6 1.6 0 1 0 -3.2 0M265.78 227.13a1.6 1.6 0 1 0 3.2 0a1.6 1.6 0 1 0 -3.2 0M265.78 228.21a1.6 1.6 0 1 0 3.2 0a1.6 1.6 0 1 0 -3.2 0M265.78 229.35a1.6 1.6 0 1 0 3.2 0a1.6 1.6 0 1 0 -3.2 0M265.78 230.56a1.6 1.6 0 1 0 3.2 0a1.6 1.6 0 1 0 -3.2 0M265.78 231.85a1.6 1.6 0 1 0 3.2 0a1.6 1.6 0 1 0 -3.2 0M265.78 233.23a1.6 1.6 0 1 0 3.2 0a1.6 1.6 0 1 0 -3.2 0M265.78 234.71a1.6 1.6 0 1 0 3.2 0a1.6 1.6 0 1 0 -3.2 0M265.78 236.3a1.6 1.6 0 1 0 3.2 0a1.6 1.6 0 1 0 -3.2 0M265.78 238.02a1.6 1.6 0 1 0 3.2 0a1.6 1.6 0 1 0 -3.2 0M265.78 239.89a1.6 1.6 0 1 0 3.2 0a1.6 1.6 0 1 0 -3.2 0M265.78 249.52a1.6 1.6 0 1 0 3.2 0a1.6 1.6 0 1 0 -3.2 0M265.78 259.55a1.6 1.6 0 1 0 3.2 0a1.6 1.6 0 1 0 -3.2 0M265.78 261.87a1.6 1.6 0 1 0 3.2 0a1.6 1.6 0 1 0 -3.2 0M265.78 264.96a1.6 1.6 0 1 0 3.2 0a1.6 1.6 0 1 0 -3.2 0M265.78 287.96a1.6 1.6 0 1 0 3.2 0a1.6 1.6 0 1 0 -3.2 0M276.18 56.05a1.6 1.6 0 1 0 3.2 0a1.6 1.6 0 1 0 -3.2 0M276.18 58.06a1.6 1.6 0 1 0 3.2 0a1.6 1.6 0 1 0 -3.2 0M276.18 58.99a1.6 1.6 0 1 0 3.2 0a1.6 1.6 0 1 0 -3.2 0M276.18 69.49a1.6 1.6 0 1 0 3.2 0a1.6 1.6 0 1 0 -3.2 0M276.18 71.96a1.6 1.6 0 1 0 3.2 0a1.6 1.6 0 1 0 -3.2 0M276.18 74.27a1.6 1.6 0 1 0 3.2 0a1.6 1.6 0 1 0 -3.2 0M276.18 76.59a1.6 1.6 0 1 0 3.2 0a1.6 1.6 0 1 0 -3.2 0M276.18 100.52a1.6 1.6 0 1 0 3.2 0a1.6 1.6 0 1 0 -3.2 0M276.18 99.92a1.6 1.6 0 1 0 3.2 0a1.6 1.6 0 1 0 -3.2 0M276.18 99.32a1.6 1.6 0 1 0 3.2 0a1.6 1.6 0 1 0 -3.2 0M276.18 98.71a1.6 1.6 0 1 0 3.2 0a1.6 1.6 0 1 0 -3.2 0M276.18 98.1a1.6 1.6 0 1 0 3.2 0a1.6 1.6 0 1 0 -3.2 0M276.18 97.48a1.6 1.6 0 1 0 3.2 0a1.6 1.6 0 1 0 -3.2 0M276.18 96.84a1.6 1.6 0 1 0 3.2 0a1.6 1.6 0 1 0 -3.2 0M276.18 96.19a1.6 1.6 0 1 0 3.2 0a1.6 1.6 0 1 0 -3.2 0M276.18 95.51a1.6 1.6 0 1 0 3.2 0a1.6 1.6 0 1 0 -3.2 0M276.18 94.81a1.6 1.6 0 1 0 3.2 0a1.6 1.6 0 1 0 -3.2 0M276.18 94.08a1.6 1.6 0 1 0 3.2 0a1.6 1.6 0 1 0 -3.2 0M276.18 93.31a1.6 1.6 0 1 0 3.2 0a1.6 1.6 0 1 0 -3.2 0M276.18 92.5a1.6 1.6 0 1 0 3.2 0a1.6 1.6 0 1 0 -3.2 0M276.18 91.64a1.6 1.6 0 1 0 3.2 0a1.6 1.6 0 1 0 -3.2 0M276.18 90.72a1.6 1.6 0 1 0 3.2 0a1.6 1.6 0 1 0 -3.2 0M276.18 89.73a1.6 1.6 0 1 0 3.2 0a1.6 1.6 0 1 0 -3.2 0M276.18 88.67a1.6 1.6 0 1 0 3.2 0a1.6 1.6 0 1 0 -3.2 0M276.18 87.5a1.6 1.6 0 1 0 3.2 0a1.6 1.6 0 1 0 -3.2 0M276.18 86.21a1.6 1.6 0 1 0 3.2 0a1.6 1.6 0 1 0 -3.2 0M276.18 84.79a1.6 1.6 0 1 0 3.2 0a1.6 1.6 0 1 0 -3.2 0M276.18 83.19a1.6 1.6 0 1 0 3.2 0a1.6 1.6 0 1 0 -3.2 0M276.18 81.38a1.6 1.6 0 1 0 3.2 0a1.6 1.6 0 1 0 -3.2 0M276.18 209.99a1.6 1.6 0 1 0 3.2 0a1.6 1.6 0 1 0 -3.2 0M276.18 218.02a1.6 1.6 0 1 0 3.2 0a1.6 1.6 0 1 0 -3.2 0M276.18 218.62a1.6 1.6 0 1 0 3.2 0a1.6 1.6 0 1 0 -3.2 0M276.18 219.22a1.6 1.6 0 1 0 3.2 0a1.6 1.6 0 1 0 -3.2 0M276.18 219.83a1.6 1.6 0 1 0 3.2 0a1.6 1.6 0 1 0 -3.2 0M276.18 220.46a1.6 1.6 0 1 0 3.2 0a1.6 1.6 0 1 0 -3.2 0M276.18 221.11a1.6 1.6 0 1 0 3.2 0a1.6 1.6 0 1 0 -3.2 0M276.18 221.78a1.6 1.6 0 1 0 3.2 0a1.6 1.6 0 1 0 -3.2 0M276.18 222.49a1.6 1.6 0 1 0 3.2 0a1.6 1.6 0 1 0 -3.2 0M276.18 223.24a1.6 1.6 0 1 0 3.2 0a1.6 1.6 0 1 0 -3.2 0M276.18 224.06a1.6 1.6 0 1 0 3.2 0a1.6 1.6 0 1 0 -3.2 0M276.18 224.94a1.6 1.6 0 1 0 3.2 0a1.6 1.6 0 1 0 -3.2 0M276.18 225.91a1.6 1.6 0 1 0 3.2 0a1.6 1.6 0 1 0 -3.2 0M276.18 226.99a1.6 1.6 0 1 0 3.2 0a1.6 1.6 0 1 0 -3.2 0M276.18 228.22a1.6 1.6 0 1 0 3.2 0a1.6 1.6 0 1 0 -3.2 0M276.18 229.63a1.6 1.6 0 1 0 3.2 0a1.6 1.6 0 1 0 -3.2 0M276.18 231.27a1.6 1.6 0 1 0 3.2 0a1.6 1.6 0 1 0 -3.2 0M276.18 239.48a1.6 1.6 0 1 0 3.2 0a1.6 1.6 0 1 0 -3.2 0M276.18 241.8a1.6 1.6 0 1 0 3.2 0a1.6 1.6 0 1 0 -3.2 0M276.18 244.11a1.6 1.6 0 1 0 3.2 0a1.6 1.6 0 1 0 -3.2 0M276.18 246.74a1.6 1.6 0 1 0 3.2 0a1.6 1.6 0 1 0 -3.2 0M276.18 254.92a1.6 1.6 0 1 0 3.2 0a1.6 1.6 0 1 0 -3.2 0M276.18 257.24a1.6 1.6 0 1 0 3.2 0a1.6 1.6 0 1 0 -3.2 0M276.18 260.48a1.6 1.6 0 1 0 3.2 0a1.6 1.6 0 1 0 -3.2 0M276.18 266.04a1.6 1.6 0 1 0 3.2 0a1.6 1.6 0 1 0 -3.2 0M286.59 69.02a1.6 1.6 0 1 0 3.2 0a1.6 1.6 0 1 0 -3.2 0M286.59 71.19a1.6 1.6 0 1 0 3.2 0a1.6 1.6 0 1 0 -3.2 0M286.59 73.5a1.6 1.6 0 1 0 3.2 0a1.6 1.6 0 1 0 -3.2 0M286.59 75.82a1.6 1.6 0 1 0 3.2 0a1.6 1.6 0 1 0 -3.2 0M286.59 79.06a1.6 1.6 0 1 0 3.2 0a1.6 1.6 0 1 0 -3.2 0M286.59 103.15a1.6 1.6 0 1 0 3.2 0a1.6 1.6 0 1 0 -3.2 0M286.59 102.55a1.6 1.6 0 1 0 3.2 0a1.6 1.6 0 1 0 -3.2 0M286.59 101.95a1.6 1.6 0 1 0 3.2 0a1.6 1.6 0 1 0 -3.2 0M286.59 101.34a1.6 1.6 0 1 0 3.2 0a1.6 1.6 0 1 0 -3.2 0M286.59 100.72a1.6 1.6 0 1 0 3.2 0a1.6 1.6 0 1 0 -3.2 0M286.59 100.1a1.6 1.6 0 1 0 3.2 0a1.6 1.6 0 1 0 -3.2 0M286.59 99.46a1.6 1.6 0 1 0 3.2 0a1.6 1.6 0 1 0 -3.2 0M286.59 98.79a1.6 1.6 0 1 0 3.2 0a1.6 1.6 0 1 0 -3.2 0M286.59 98.11a1.6 1.6 0 1 0 3.2 0a1.6 1.6 0 1 0 -3.2 0M286.59 97.39a1.6 1.6 0 1 0 3.2 0a1.6 1.6 0 1 0 -3.2 0M286.59 96.64a1.6 1.6 0 1 0 3.2 0a1.6 1.6 0 1 0 -3.2 0M286.59 95.85a1.6 1.6 0 1 0 3.2 0a1.6 1.6 0 1 0 -3.2 0M286.59 95.01a1.6 1.6 0 1 0 3.2 0a1.6 1.6 0 1 0 -3.2 0M286.59 94.12a1.6 1.6 0 1 0 3.2 0a1.6 1.6 0 1 0 -3.2 0M286.59 93.15a1.6 1.6 0 1 0 3.2 0a1.6 1.6 0 1 0 -3.2 0M286.59 92.1a1.6 1.6 0 1 0 3.2 0a1.6 1.6 0 1 0 -3.2 0M286.59 90.95a1.6 1.6 0 1 0 3.2 0a1.6 1.6 0 1 0 -3.2 0M286.59 89.68a1.6 1.6 0 1 0 3.2 0a1.6 1.6 0 1 0 -3.2 0M286.59 88.26a1.6 1.6 0 1 0 3.2 0a1.6 1.6 0 1 0 -3.2 0M286.59 86.66a1.6 1.6 0 1 0 3.2 0a1.6 1.6 0 1 0 -3.2 0M286.59 84.83a1.6 1.6 0 1 0 3.2 0a1.6 1.6 0 1 0 -3.2 0M286.59 208.91a1.6 1.6 0 1 0 3.2 0a1.6 1.6 0 1 0 -3.2 0M286.59 209.51a1.6 1.6 0 1 0 3.2 0a1.6 1.6 0 1 0 -3.2 0M286.59 210.11a1.6 1.6 0 1 0 3.2 0a1.6 1.6 0 1 0 -3.2 0M286.59 210.72a1.6 1.6 0 1 0 3.2 0a1.6 1.6 0 1 0 -3.2 0M286.59 211.33a1.6 1.6 0 1 0 3.2 0a1.6 1.6 0 1 0 -3.2 0M286.59 211.96a1.6 1.6 0 1 0 3.2 0a1.6 1.6 0 1 0 -3.2 0M286.59 212.59a1.6 1.6 0 1 0 3.2 0a1.6 1.6 0 1 0 -3.2 0M286.59 213.25a1.6 1.6 0 1 0 3.2 0a1.6 1.6 0 1 0 -3.2 0M286.59 213.93a1.6 1.6 0 1 0 3.2 0a1.6 1.6 0 1 0 -3.2 0M286.59 214.63a1.6 1.6 0 1 0 3.2 0a1.6 1.6 0 1 0 -3.2 0M286.59 215.36a1.6 1.6 0 1 0 3.2 0a1.6 1.6 0 1 0 -3.2 0M286.59 216.13a1.6 1.6 0 1 0 3.2 0a1.6 1.6 0 1 0 -3.2 0M286.59 216.95a1.6 1.6 0 1 0 3.2 0a1.6 1.6 0 1 0 -3.2 0M286.59 217.81a1.6 1.6 0 1 0 3.2 0a1.6 1.6 0 1 0 -3.2 0M286.59 218.74a1.6 1.6 0 1 0 3.2 0a1.6 1.6 0 1 0 -3.2 0M286.59 219.73a1.6 1.6 0 1 0 3.2 0a1.6 1.6 0 1 0 -3.2 0M286.59 220.81a1.6 1.6 0 1 0 3.2 0a1.6 1.6 0 1 0 -3.2 0M286.59 221.99a1.6 1.6 0 1 0 3.2 0a1.6 1.6 0 1 0 -3.2 0M286.59 223.29a1.6 1.6 0 1 0 3.2 0a1.6 1.6 0 1 0 -3.2 0M286.59 224.74a1.6 1.6 0 1 0 3.2 0a1.6 1.6 0 1 0 -3.2 0M286.59 226.37a1.6 1.6 0 1 0 3.2 0a1.6 1.6 0 1 0 -3.2 0M286.59 228.22a1.6 1.6 0 1 0 3.2 0a1.6 1.6 0 1 0 -3.2 0M286.59 240.72a1.6 1.6 0 1 0 3.2 0a1.6 1.6 0 1 0 -3.2 0M286.59 258.78a1.6 1.6 0 1 0 3.2 0a1.6 1.6 0 1 0 -3.2 0M297 50.65a1.6 1.6 0 1 0 3.2 0a1.6 1.6 0 1 0 -3.2 0M297 69.02a1.6 1.6 0 1 0 3.2 0a1.6 1.6 0 1 0 -3.2 0M297 81.84a1.6 1.6 0 1 0 3.2 0a1.6 1.6 0 1 0 -3.2 0M297 84.31a1.6 1.6 0 1 0 3.2 0a1.6 1.6 0 1 0 -3.2 0M297 87.24a1.6 1.6 0 1 0 3.2 0a1.6 1.6 0 1 0 -3.2 0M297 100.52a1.6 1.6 0 1 0 3.2 0a1.6 1.6 0 1 0 -3.2 0M297 99.92a1.6 1.6 0 1 0 3.2 0a1.6 1.6 0 1 0 -3.2 0M297 99.31a1.6 1.6 0 1 0 3.2 0a1.6 1.6 0 1 0 -3.2 0M297 98.66a1.6 1.6 0 1 0 3.2 0a1.6 1.6 0 1 0 -3.2 0M297 97.95a1.6 1.6 0 1 0 3.2 0a1.6 1.6 0 1 0 -3.2 0M297 97.15a1.6 1.6 0 1 0 3.2 0a1.6 1.6 0 1 0 -3.2 0M297 96.18a1.6 1.6 0 1 0 3.2 0a1.6 1.6 0 1 0 -3.2 0M297 94.99a1.6 1.6 0 1 0 3.2 0a1.6 1.6 0 1 0 -3.2 0M297 93.42a1.6 1.6 0 1 0 3.2 0a1.6 1.6 0 1 0 -3.2 0M297 224.66a1.6 1.6 0 1 0 3.2 0a1.6 1.6 0 1 0 -3.2 0M297 222.81a1.6 1.6 0 1 0 3.2 0a1.6 1.6 0 1 0 -3.2 0M297 220.95a1.6 1.6 0 1 0 3.2 0a1.6 1.6 0 1 0 -3.2 0M297 219.1a1.6 1.6 0 1 0 3.2 0a1.6 1.6 0 1 0 -3.2 0M297 217.25a1.6 1.6 0 1 0 3.2 0a1.6 1.6 0 1 0 -3.2 0M297 215.4a1.6 1.6 0 1 0 3.2 0a1.6 1.6 0 1 0 -3.2 0M297 213.54a1.6 1.6 0 1 0 3.2 0a1.6 1.6 0 1 0 -3.2 0M297 211.69a1.6 1.6 0 1 0 3.2 0a1.6 1.6 0 1 0 -3.2 0M297 209.84a1.6 1.6 0 1 0 3.2 0a1.6 1.6 0 1 0 -3.2 0M297 230.22a1.6 1.6 0 1 0 3.2 0a1.6 1.6 0 1 0 -3.2 0M297 232.53a1.6 1.6 0 1 0 3.2 0a1.6 1.6 0 1 0 -3.2 0M297 233.92a1.6 1.6 0 1 0 3.2 0a1.6 1.6 0 1 0 -3.2 0M297 243.96a1.6 1.6 0 1 0 3.2 0a1.6 1.6 0 1 0 -3.2 0M297 269.13a1.6 1.6 0 1 0 3.2 0a1.6 1.6 0 1 0 -3.2 0M297 278.85a1.6 1.6 0 1 0 3.2 0a1.6 1.6 0 1 0 -3.2 0M307.4 85.55a1.6 1.6 0 1 0 3.2 0a1.6 1.6 0 1 0 -3.2 0M307.4 88.17a1.6 1.6 0 1 0 3.2 0a1.6 1.6 0 1 0 -3.2 0M307.4 90.95a1.6 1.6 0 1 0 3.2 0a1.6 1.6 0 1 0 -3.2 0M307.4 95.58a1.6 1.6 0 1 0 3.2 0a1.6 1.6 0 1 0 -3.2 0M307.4 102.84a1.6 1.6 0 1 0 3.2 0a1.6 1.6 0 1 0 -3.2 0M307.4 104.69a1.6 1.6 0 1 0 3.2 0a1.6 1.6 0 1 0 -3.2 0M307.4 207.98a1.6 1.6 0 1 0 3.2 0a1.6 1.6 0 1 0 -3.2 0M307.4 208.58a1.6 1.6 0 1 0 3.2 0a1.6 1.6 0 1 0 -3.2 0M307.4 209.19a1.6 1.6 0 1 0 3.2 0a1.6 1.6 0 1 0 -3.2 0M307.4 209.81a1.6 1.6 0 1 0 3.2 0a1.6 1.6 0 1 0 -3.2 0M307.4 210.46a1.6 1.6 0 1 0 3.2 0a1.6 1.6 0 1 0 -3.2 0M307.4 211.14a1.6 1.6 0 1 0 3.2 0a1.6 1.6 0 1 0 -3.2 0M307.4 211.88a1.6 1.6 0 1 0 3.2 0a1.6 1.6 0 1 0 -3.2 0M307.4 212.7a1.6 1.6 0 1 0 3.2 0a1.6 1.6 0 1 0 -3.2 0M307.4 213.61a1.6 1.6 0 1 0 3.2 0a1.6 1.6 0 1 0 -3.2 0M307.4 214.66a1.6 1.6 0 1 0 3.2 0a1.6 1.6 0 1 0 -3.2 0M307.4 215.89a1.6 1.6 0 1 0 3.2 0a1.6 1.6 0 1 0 -3.2 0M307.4 217.37a1.6 1.6 0 1 0 3.2 0a1.6 1.6 0 1 0 -3.2 0M307.4 233.92a1.6 1.6 0 1 0 3.2 0a1.6 1.6 0 1 0 -3.2 0M307.4 237.17a1.6 1.6 0 1 0 3.2 0a1.6 1.6 0 1 0 -3.2 0M307.4 241.18a1.6 1.6 0 1 0 3.2 0a1.6 1.6 0 1 0 -3.2 0M307.4 254.92a1.6 1.6 0 1 0 3.2 0a1.6 1.6 0 1 0 -3.2 0M307.4 287.5a1.6 1.6 0 1 0 3.2 0a1.6 1.6 0 1 0 -3.2 0M317.8 79.06a1.6 1.6 0 1 0 3.2 0a1.6 1.6 0 1 0 -3.2 0M317.8 82.77a1.6 1.6 0 1 0 3.2 0a1.6 1.6 0 1 0 -3.2 0M317.8 86.63a1.6 1.6 0 1 0 3.2 0a1.6 1.6 0 1 0 -3.2 0M317.8 90.95a1.6 1.6 0 1 0 3.2 0a1.6 1.6 0 1 0 -3.2 0M317.8 99.13a1.6 1.6 0 1 0 3.2 0a1.6 1.6 0 1 0 -3.2 0M317.8 102.07a1.6 1.6 0 1 0 3.2 0a1.6 1.6 0 1 0 -3.2 0M317.8 104.69a1.6 1.6 0 1 0 3.2 0a1.6 1.6 0 1 0 -3.2 0M317.8 209.99a1.6 1.6 0 1 0 3.2 0a1.6 1.6 0 1 0 -3.2 0M317.8 217.4a1.6 1.6 0 1 0 3.2 0a1.6 1.6 0 1 0 -3.2 0M317.8 219.41a1.6 1.6 0 1 0 3.2 0a1.6 1.6 0 1 0 -3.2 0M317.8 221.73a1.6 1.6 0 1 0 3.2 0a1.6 1.6 0 1 0 -3.2 0M317.8 224.35a1.6 1.6 0 1 0 3.2 0a1.6 1.6 0 1 0 -3.2 0M317.8 244.89a1.6 1.6 0 1 0 3.2 0a1.6 1.6 0 1 0 -3.2 0M317.8 255.85a1.6 1.6 0 1 0 3.2 0a1.6 1.6 0 1 0 -3.2 0M328.21 102.84a1.6 1.6 0 1 0 3.2 0a1.6 1.6 0 1 0 -3.2 0M328.21 203.04a1.6 1.6 0 1 0 3.2 0a1.6 1.6 0 1 0 -3.2 0M328.21 208.76a1.6 1.6 0 1 0 3.2 0a1.6 1.6 0 1 0 -3.2 0M328.21 214.62a1.6 1.6 0 1 0 3.2 0a1.6 1.6 0 1 0 -3.2 0M369.83 196.71a1.6 1.6 0 1 0 3.2 0a1.6 1.6 0 1 0 -3.2 0" fill="none" stroke="#000" stroke-width="0.9"/>
<path d="M39.25 281.39H432.86M39.25 250.53H432.86M39.25 219.67H432.86M39.25 188.81H432.86M39.25 173.38H432.86M39.25 157.95H432.86M39.25 142.52H432.86M39.25 127.09H432.86M39.25 96.23H432.86M39.25 65.37H432.86M39.25 34.51H432.86" stroke="#e25050" stroke-width="1.1" stroke-dasharray="1.8 1.66" fill="none"/>
<rect x="39.55" y="24.8" width="393.31" height="266.2" fill="none" stroke="#5a5a5a" stroke-width="1.15"/>
<path d="M59.28 291v4.5M69.69 291v4.5M80.09 291v4.5M90.5 291v4.5M100.9 291v4.5M111.31 291v4.5M121.71 291v4.5M132.12 291v4.5M142.52 291v4.5M152.93 291v4.5M163.33 291v4.5M173.74 291v4.5M184.14 291v4.5M194.54 291v4.5M204.95 291v4.5M215.35 291v4.5M225.76 291v4.5M236.16 291v4.5M246.57 291v4.5M256.98 291v4.5M267.38 291v4.5M277.78 291v4.5M288.19 291v4.5M298.6 291v4.5M309 291v4.5M319.4 291v4.5M329.81 291v4.5M340.22 291v4.5M350.62 291v4.5M361.02 291v4.5M371.43 291v4.5M381.84 291v4.5M392.24 291v4.5M402.64 291v4.5M413.05 291v4.5M39.55 235.1h-4.5M39.55 157.95h-4.5M39.55 80.8h-4.5" stroke="#555" stroke-width="1" fill="none"/>
<g font-size="12" text-anchor="middle">
<text x="59.28" y="306.8">−3</text>
<text x="90.5" y="306.8">−2.2</text>
<text x="132.12" y="306.8">−1.4</text>
<text x="173.74" y="306.8">−0.6</text>
<text x="204.95" y="306.8">0</text>
<text x="236.16" y="306.8">0.6</text>
<text x="267.38" y="306.8">1.2</text>
<text x="298.6" y="306.8">1.8</text>
<text x="329.81" y="306.8">2.4</text>
<text x="361.02" y="306.8">3</text>
<text x="392.24" y="306.8">3.6</text>
<text transform="translate(29.5 235.1) rotate(-90)">−5</text>
<text transform="translate(29.5 157.95) rotate(-90)">0</text>
<text transform="translate(29.5 80.8) rotate(-90)">5</text>
<text x="236.21" y="322.4" font-size="12.2">standardized dbh</text>
<text transform="translate(13.2 157.95) rotate(-90)">Residuals (response) (m)</text>
</g>
<text x="236.21" y="14.6" font-size="17.5" font-weight="bold" text-anchor="middle">Norway Spruce</text>
</g>
<g>
<path d="M58.36 468.2V459.26M58.36 478.07V480.23M70.11 492.26V495.96M81.86 483.01V476.53M81.86 496.27V515.23M93.61 477.76V458.8M93.61 496.27V512.77M105.36 479.61V456.18M105.36 496.73V520.17M117.11 478.07V448.62M117.11 497.5V527.57M128.87 479.31V451.4M128.87 499.35V528.5M140.62 479V449.55M140.62 498.58V528.5M152.37 480.85V450.47M152.37 499.35V530.35M164.12 480.54V450.47M164.12 499.35V529.42M175.87 480.85V447.69M175.87 501.82V535.9M187.62 480.08V444.92M187.62 501.2V536.36M199.37 480.85V443.99M199.37 503.67V539.6M211.12 480.08V441.22M211.12 502.28V540.83M222.87 478.07V438.44M222.87 504.44V545.92M234.62 477.46V436.59M234.62 502.44V542.68M246.38 476.22V436.59M246.38 501.82V541.45M258.13 475.3V437.67M258.13 499.97V537.75M269.88 471.13V430.27M269.88 498.12V540.06M281.63 471.75V431.2M281.63 498.58V540.52M293.38 472.06V431.2M293.38 498.12V537.13M305.13 469.28V429.35M305.13 495.34V533.89M316.88 471.75V432.28M316.88 498.12V537.13M328.63 474.99V442.3M328.63 499.35V531.27M340.38 473.6V435.82M340.38 499.97V538.21M352.13 477.61V452.48M352.13 497.96V522.48M363.89 475.14V455.71M363.89 494.57V516.31M375.64 491.95V482.08M375.64 500.43V502.44M387.39 483.01V482.39M387.39 503.82V512M399.14 470.36V464.97M399.14 487.02V497.5" stroke="#222" stroke-width="1" stroke-dasharray="1.6 1.8" fill="none"/>
<path d="M56.01 459.26H60.71M56.01 480.23H60.71M67.76 489.33H72.46M67.76 495.96H72.46M79.51 476.53H84.21M79.51 515.23H84.21M91.26 458.8H95.96M91.26 512.77H95.96M103.01 456.18H107.71M103.01 520.17H107.71M114.76 448.62H119.47M114.76 527.57H119.47M126.52 451.4H131.22M126.52 528.5H131.22M138.27 449.55H142.97M138.27 528.5H142.97M150.02 450.47H154.72M150.02 530.35H154.72M161.77 450.47H166.47M161.77 529.42H166.47M173.52 447.69H178.22M173.52 535.9H178.22M185.27 444.92H189.97M185.27 536.36H189.97M197.02 443.99H201.72M197.02 539.6H201.72M208.77 441.22H213.47M208.77 540.83H213.47M220.52 438.44H225.22M220.52 545.92H225.22M232.27 436.59H236.98M232.27 542.68H236.98M244.03 436.59H248.73M244.03 541.45H248.73M255.78 437.67H260.48M255.78 537.75H260.48M267.53 430.27H272.23M267.53 540.06H272.23M279.28 431.2H283.98M279.28 540.52H283.98M291.03 431.2H295.73M291.03 537.13H295.73M302.78 429.35H307.48M302.78 533.89H307.48M314.53 432.28H319.23M314.53 537.13H319.23M326.28 442.3H330.98M326.28 531.27H330.98M338.03 435.82H342.73M338.03 538.21H342.73M349.78 452.48H354.49M349.78 522.48H354.49M361.54 455.71H366.24M361.54 516.31H366.24M373.29 482.08H377.99M373.29 502.44H377.99M385.04 482.39H389.74M385.04 512H389.74M396.79 464.97H401.49M396.79 497.5H401.49" stroke="#222" stroke-width="0.9" fill="none"/>
<g fill="#fff" stroke="#333" stroke-width="0.9"><rect x="53.66" y="468.2" width="9.4" height="9.87"/><rect x="65.41" y="489.33" width="9.4" height="2.93"/><rect x="77.16" y="483.01" width="9.4" height="13.26"/><rect x="88.91" y="477.76" width="9.4" height="18.5"/><rect x="100.66" y="479.61" width="9.4" height="17.12"/><rect x="112.41" y="478.07" width="9.4" height="19.43"/><rect x="124.17" y="479.31" width="9.4" height="20.05"/><rect x="135.92" y="479" width="9.4" height="19.58"/><rect x="147.67" y="480.85" width="9.4" height="18.5"/><rect x="159.42" y="480.54" width="9.4" height="18.81"/><rect x="171.17" y="480.85" width="9.4" height="20.97"/><rect x="182.92" y="480.08" width="9.4" height="21.13"/><rect x="194.67" y="480.85" width="9.4" height="22.82"/><rect x="206.42" y="480.08" width="9.4" height="22.2"/><rect x="218.17" y="478.07" width="9.4" height="26.37"/><rect x="229.92" y="477.46" width="9.4" height="24.98"/><rect x="241.68" y="476.22" width="9.4" height="25.6"/><rect x="253.43" y="475.3" width="9.4" height="24.67"/><rect x="265.18" y="471.13" width="9.4" height="26.98"/><rect x="276.93" y="471.75" width="9.4" height="26.83"/><rect x="288.68" y="472.06" width="9.4" height="26.06"/><rect x="300.43" y="469.28" width="9.4" height="26.06"/><rect x="312.18" y="471.75" width="9.4" height="26.37"/><rect x="323.93" y="474.99" width="9.4" height="24.36"/><rect x="335.68" y="473.6" width="9.4" height="26.37"/><rect x="347.43" y="477.61" width="9.4" height="20.35"/><rect x="359.19" y="475.14" width="9.4" height="19.43"/><rect x="370.94" y="491.95" width="9.4" height="8.48"/><rect x="382.69" y="483.01" width="9.4" height="20.82"/><rect x="394.44" y="470.36" width="9.4" height="16.65"/></g>
<g stroke="#000" stroke-width="1.6"><line x1="53.66" y1="476.53" x2="63.06" y2="476.53"/><line x1="65.41" y1="491.33" x2="74.81" y2="491.33"/><line x1="77.16" y1="490.72" x2="86.56" y2="490.72"/><line x1="88.91" y1="487.79" x2="98.31" y2="487.79"/><line x1="100.66" y1="488.25" x2="110.06" y2="488.25"/><line x1="112.41" y1="487.63" x2="121.82" y2="487.63"/><line x1="124.17" y1="488.56" x2="133.57" y2="488.56"/><line x1="135.92" y1="489.33" x2="145.32" y2="489.33"/><line x1="147.67" y1="490.1" x2="157.07" y2="490.1"/><line x1="159.42" y1="490.1" x2="168.82" y2="490.1"/><line x1="171.17" y1="490.87" x2="180.57" y2="490.87"/><line x1="182.92" y1="490.87" x2="192.32" y2="490.87"/><line x1="194.67" y1="491.18" x2="204.07" y2="491.18"/><line x1="206.42" y1="490.56" x2="215.82" y2="490.56"/><line x1="218.17" y1="490.1" x2="227.57" y2="490.1"/><line x1="229.92" y1="489.64" x2="239.33" y2="489.64"/><line x1="241.68" y1="489.33" x2="251.08" y2="489.33"/><line x1="253.43" y1="488.25" x2="262.83" y2="488.25"/><line x1="265.18" y1="485.47" x2="274.58" y2="485.47"/><line x1="276.93" y1="485.47" x2="286.33" y2="485.47"/><line x1="288.68" y1="485.78" x2="298.08" y2="485.78"/><line x1="300.43" y1="483.16" x2="309.83" y2="483.16"/><line x1="312.18" y1="485.78" x2="321.58" y2="485.78"/><line x1="323.93" y1="489.17" x2="333.33" y2="489.17"/><line x1="335.68" y1="487.02" x2="345.08" y2="487.02"/><line x1="347.43" y1="491.03" x2="356.84" y2="491.03"/><line x1="359.19" y1="486.86" x2="368.59" y2="486.86"/><line x1="370.94" y1="495.5" x2="380.34" y2="495.5"/><line x1="382.69" y1="486.25" x2="392.09" y2="486.25"/><line x1="394.44" y1="475.45" x2="403.84" y2="475.45"/><line x1="406.19" y1="483.78" x2="415.59" y2="483.78"/></g>
<path d="M68.51 476.53a1.6 1.6 0 1 0 3.2 0a1.6 1.6 0 1 0 -3.2 0M68.51 481.77a1.6 1.6 0 1 0 3.2 0a1.6 1.6 0 1 0 -3.2 0M68.51 502.74a1.6 1.6 0 1 0 3.2 0a1.6 1.6 0 1 0 -3.2 0M80.26 451.09a1.6 1.6 0 1 0 3.2 0a1.6 1.6 0 1 0 -3.2 0M80.26 452.01a1.6 1.6 0 1 0 3.2 0a1.6 1.6 0 1 0 -3.2 0M80.26 460.8a1.6 1.6 0 1 0 3.2 0a1.6 1.6 0 1 0 -3.2 0M80.26 462.34a1.6 1.6 0 1 0 3.2 0a1.6 1.6 0 1 0 -3.2 0M80.26 463.12a1.6 1.6 0 1 0 3.2 0a1.6 1.6 0 1 0 -3.2 0M80.26 527.42a1.6 1.6 0 1 0 3.2 0a1.6 1.6 0 1 0 -3.2 0M103.76 442.91a1.6 1.6 0 1 0 3.2 0a1.6 1.6 0 1 0 -3.2 0M103.76 448.77a1.6 1.6 0 1 0 3.2 0a1.6 1.6 0 1 0 -3.2 0M103.76 451.55a1.6 1.6 0 1 0 3.2 0a1.6 1.6 0 1 0 -3.2 0M103.76 453.25a1.6 1.6 0 1 0 3.2 0a1.6 1.6 0 1 0 -3.2 0M103.76 531.27a1.6 1.6 0 1 0 3.2 0a1.6 1.6 0 1 0 -3.2 0M103.76 539.44a1.6 1.6 0 1 0 3.2 0a1.6 1.6 0 1 0 -3.2 0M103.76 541.14a1.6 1.6 0 1 0 3.2 0a1.6 1.6 0 1 0 -3.2 0M103.76 549.47a1.6 1.6 0 1 0 3.2 0a1.6 1.6 0 1 0 -3.2 0M115.52 423.95a1.6 1.6 0 1 0 3.2 0a1.6 1.6 0 1 0 -3.2 0M115.52 448.16a1.6 1.6 0 1 0 3.2 0a1.6 1.6 0 1 0 -3.2 0M115.52 447.26a1.6 1.6 0 1 0 3.2 0a1.6 1.6 0 1 0 -3.2 0M115.52 446.35a1.6 1.6 0 1 0 3.2 0a1.6 1.6 0 1 0 -3.2 0M115.52 445.44a1.6 1.6 0 1 0 3.2 0a1.6 1.6 0 1 0 -3.2 0M115.52 444.49a1.6 1.6 0 1 0 3.2 0a1.6 1.6 0 1 0 -3.2 0M115.52 443.52a1.6 1.6 0 1 0 3.2 0a1.6 1.6 0 1 0 -3.2 0M115.52 442.5a1.6 1.6 0 1 0 3.2 0a1.6 1.6 0 1 0 -3.2 0M115.52 441.43a1.6 1.6 0 1 0 3.2 0a1.6 1.6 0 1 0 -3.2 0M115.52 440.28a1.6 1.6 0 1 0 3.2 0a1.6 1.6 0 1 0 -3.2 0M115.52 439.04a1.6 1.6 0 1 0 3.2 0a1.6 1.6 0 1 0 -3.2 0M115.52 437.69a1.6 1.6 0 1 0 3.2 0a1.6 1.6 0 1 0 -3.2 0M115.52 436.19a1.6 1.6 0 1 0 3.2 0a1.6 1.6 0 1 0 -3.2 0M115.52 434.51a1.6 1.6 0 1 0 3.2 0a1.6 1.6 0 1 0 -3.2 0M115.52 432.59a1.6 1.6 0 1 0 3.2 0a1.6 1.6 0 1 0 -3.2 0M115.52 528.03a1.6 1.6 0 1 0 3.2 0a1.6 1.6 0 1 0 -3.2 0M115.52 528.93a1.6 1.6 0 1 0 3.2 0a1.6 1.6 0 1 0 -3.2 0M115.52 529.95a1.6 1.6 0 1 0 3.2 0a1.6 1.6 0 1 0 -3.2 0M115.52 531.35a1.6 1.6 0 1 0 3.2 0a1.6 1.6 0 1 0 -3.2 0M115.52 536.67a1.6 1.6 0 1 0 3.2 0a1.6 1.6 0 1 0 -3.2 0M115.52 539.44a1.6 1.6 0 1 0 3.2 0a1.6 1.6 0 1 0 -3.2 0M115.52 542.53a1.6 1.6 0 1 0 3.2 0a1.6 1.6 0 1 0 -3.2 0M115.52 546.69a1.6 1.6 0 1 0 3.2 0a1.6 1.6 0 1 0 -3.2 0M115.52 607.29a1.6 1.6 0 1 0 3.2 0a1.6 1.6 0 1 0 -3.2 0M127.27 429.5a1.6 1.6 0 1 0 3.2 0a1.6 1.6 0 1 0 -3.2 0M127.27 432.28a1.6 1.6 0 1 0 3.2 0a1.6 1.6 0 1 0 -3.2 0M127.27 434.59a1.6 1.6 0 1 0 3.2 0a1.6 1.6 0 1 0 -3.2 0M127.27 436.9a1.6 1.6 0 1 0 3.2 0a1.6 1.6 0 1 0 -3.2 0M127.27 450.93a1.6 1.6 0 1 0 3.2 0a1.6 1.6 0 1 0 -3.2 0M127.27 450.03a1.6 1.6 0 1 0 3.2 0a1.6 1.6 0 1 0 -3.2 0M127.27 449.12a1.6 1.6 0 1 0 3.2 0a1.6 1.6 0 1 0 -3.2 0M127.27 448.15a1.6 1.6 0 1 0 3.2 0a1.6 1.6 0 1 0 -3.2 0M127.27 447.1a1.6 1.6 0 1 0 3.2 0a1.6 1.6 0 1 0 -3.2 0M127.27 445.9a1.6 1.6 0 1 0 3.2 0a1.6 1.6 0 1 0 -3.2 0M127.27 444.5a1.6 1.6 0 1 0 3.2 0a1.6 1.6 0 1 0 -3.2 0M127.27 442.77a1.6 1.6 0 1 0 3.2 0a1.6 1.6 0 1 0 -3.2 0M127.27 528.96a1.6 1.6 0 1 0 3.2 0a1.6 1.6 0 1 0 -3.2 0M127.27 529.86a1.6 1.6 0 1 0 3.2 0a1.6 1.6 0 1 0 -3.2 0M127.27 530.76a1.6 1.6 0 1 0 3.2 0a1.6 1.6 0 1 0 -3.2 0M127.27 531.67a1.6 1.6 0 1 0 3.2 0a1.6 1.6 0 1 0 -3.2 0M127.27 532.6a1.6 1.6 0 1 0 3.2 0a1.6 1.6 0 1 0 -3.2 0M127.27 533.56a1.6 1.6 0 1 0 3.2 0a1.6 1.6 0 1 0 -3.2 0M127.27 534.54a1.6 1.6 0 1 0 3.2 0a1.6 1.6 0 1 0 -3.2 0M127.27 535.57a1.6 1.6 0 1 0 3.2 0a1.6 1.6 0 1 0 -3.2 0M127.27 536.65a1.6 1.6 0 1 0 3.2 0a1.6 1.6 0 1 0 -3.2 0M127.27 537.79a1.6 1.6 0 1 0 3.2 0a1.6 1.6 0 1 0 -3.2 0M127.27 539a1.6 1.6 0 1 0 3.2 0a1.6 1.6 0 1 0 -3.2 0M127.27 540.31a1.6 1.6 0 1 0 3.2 0a1.6 1.6 0 1 0 -3.2 0M127.27 541.73a1.6 1.6 0 1 0 3.2 0a1.6 1.6 0 1 0 -3.2 0M127.27 543.29a1.6 1.6 0 1 0 3.2 0a1.6 1.6 0 1 0 -3.2 0M127.27 545.02a1.6 1.6 0 1 0 3.2 0a1.6 1.6 0 1 0 -3.2 0M127.27 546.96a1.6 1.6 0 1 0 3.2 0a1.6 1.6 0 1 0 -3.2 0M127.27 555.94a1.6 1.6 0 1 0 3.2 0a1.6 1.6 0 1 0 -3.2 0M127.27 558.72a1.6 1.6 0 1 0 3.2 0a1.6 1.6 0 1 0 -3.2 0M127.27 562.27a1.6 1.6 0 1 0 3.2 0a1.6 1.6 0 1 0 -3.2 0M139.02 423.95a1.6 1.6 0 1 0 3.2 0a1.6 1.6 0 1 0 -3.2 0M139.02 449.08a1.6 1.6 0 1 0 3.2 0a1.6 1.6 0 1 0 -3.2 0M139.02 448.18a1.6 1.6 0 1 0 3.2 0a1.6 1.6 0 1 0 -3.2 0M139.02 447.28a1.6 1.6 0 1 0 3.2 0a1.6 1.6 0 1 0 -3.2 0M139.02 446.37a1.6 1.6 0 1 0 3.2 0a1.6 1.6 0 1 0 -3.2 0M139.02 445.44a1.6 1.6 0 1 0 3.2 0a1.6 1.6 0 1 0 -3.2 0M139.02 444.5a1.6 1.6 0 1 0 3.2 0a1.6 1.6 0 1 0 -3.2 0M139.02 443.53a1.6 1.6 0 1 0 3.2 0a1.6 1.6 0 1 0 -3.2 0M139.02 442.52a1.6 1.6 0 1 0 3.2 0a1.6 1.6 0 1 0 -3.2 0M139.02 441.48a1.6 1.6 0 1 0 3.2 0a1.6 1.6 0 1 0 -3.2 0M139.02 440.38a1.6 1.6 0 1 0 3.2 0a1.6 1.6 0 1 0 -3.2 0M139.02 439.23a1.6 1.6 0 1 0 3.2 0a1.6 1.6 0 1 0 -3.2 0M139.02 438a1.6 1.6 0 1 0 3.2 0a1.6 1.6 0 1 0 -3.2 0M139.02 436.68a1.6 1.6 0 1 0 3.2 0a1.6 1.6 0 1 0 -3.2 0M139.02 435.26a1.6 1.6 0 1 0 3.2 0a1.6 1.6 0 1 0 -3.2 0M139.02 433.71a1.6 1.6 0 1 0 3.2 0a1.6 1.6 0 1 0 -3.2 0M139.02 432.01a1.6 1.6 0 1 0 3.2 0a1.6 1.6 0 1 0 -3.2 0M139.02 430.13a1.6 1.6 0 1 0 3.2 0a1.6 1.6 0 1 0 -3.2 0M139.02 428.01a1.6 1.6 0 1 0 3.2 0a1.6 1.6 0 1 0 -3.2 0M139.02 528.96a1.6 1.6 0 1 0 3.2 0a1.6 1.6 0 1 0 -3.2 0M139.02 529.86a1.6 1.6 0 1 0 3.2 0a1.6 1.6 0 1 0 -3.2 0M139.02 530.76a1.6 1.6 0 1 0 3.2 0a1.6 1.6 0 1 0 -3.2 0M139.02 531.69a1.6 1.6 0 1 0 3.2 0a1.6 1.6 0 1 0 -3.2 0M139.02 532.65a1.6 1.6 0 1 0 3.2 0a1.6 1.6 0 1 0 -3.2 0M139.02 533.65a1.6 1.6 0 1 0 3.2 0a1.6 1.6 0 1 0 -3.2 0M139.02 534.73a1.6 1.6 0 1 0 3.2 0a1.6 1.6 0 1 0 -3.2 0M139.02 535.88a1.6 1.6 0 1 0 3.2 0a1.6 1.6 0 1 0 -3.2 0M139.02 537.16a1.6 1.6 0 1 0 3.2 0a1.6 1.6 0 1 0 -3.2 0M139.02 538.58a1.6 1.6 0 1 0 3.2 0a1.6 1.6 0 1 0 -3.2 0M139.02 540.2a1.6 1.6 0 1 0 3.2 0a1.6 1.6 0 1 0 -3.2 0M139.02 542.08a1.6 1.6 0 1 0 3.2 0a1.6 1.6 0 1 0 -3.2 0M139.02 547.15a1.6 1.6 0 1 0 3.2 0a1.6 1.6 0 1 0 -3.2 0M139.02 550.24a1.6 1.6 0 1 0 3.2 0a1.6 1.6 0 1 0 -3.2 0M139.02 553.32a1.6 1.6 0 1 0 3.2 0a1.6 1.6 0 1 0 -3.2 0M139.02 564.12a1.6 1.6 0 1 0 3.2 0a1.6 1.6 0 1 0 -3.2 0M139.02 566.89a1.6 1.6 0 1 0 3.2 0a1.6 1.6 0 1 0 -3.2 0M139.02 589.87a1.6 1.6 0 1 0 3.2 0a1.6 1.6 0 1 0 -3.2 0M139.02 593.41a1.6 1.6 0 1 0 3.2 0a1.6 1.6 0 1 0 -3.2 0M150.77 384.16a1.6 1.6 0 1 0 3.2 0a1.6 1.6 0 1 0 -3.2 0M150.77 413a1.6 1.6 0 1 0 3.2 0a1.6 1.6 0 1 0 -3.2 0M150.77 415.31a1.6 1.6 0 1 0 3.2 0a1.6 1.6 0 1 0 -3.2 0M150.77 416.55a1.6 1.6 0 1 0 3.2 0a1.6 1.6 0 1 0 -3.2 0M150.77 421.17a1.6 1.6 0 1 0 3.2 0a1.6 1.6 0 1 0 -3.2 0M150.77 450.01a1.6 1.6 0 1 0 3.2 0a1.6 1.6 0 1 0 -3.2 0M150.77 449.11a1.6 1.6 0 1 0 3.2 0a1.6 1.6 0 1 0 -3.2 0M150.77 448.21a1.6 1.6 0 1 0 3.2 0a1.6 1.6 0 1 0 -3.2 0M150.77 447.3a1.6 1.6 0 1 0 3.2 0a1.6 1.6 0 1 0 -3.2 0M150.77 446.37a1.6 1.6 0 1 0 3.2 0a1.6 1.6 0 1 0 -3.2 0M150.77 445.43a1.6 1.6 0 1 0 3.2 0a1.6 1.6 0 1 0 -3.2 0M150.77 444.47a1.6 1.6 0 1 0 3.2 0a1.6 1.6 0 1 0 -3.2 0M150.77 443.47a1.6 1.6 0 1 0 3.2 0a1.6 1.6 0 1 0 -3.2 0M150.77 442.44a1.6 1.6 0 1 0 3.2 0a1.6 1.6 0 1 0 -3.2 0M150.77 441.36a1.6 1.6 0 1 0 3.2 0a1.6 1.6 0 1 0 -3.2 0M150.77 440.23a1.6 1.6 0 1 0 3.2 0a1.6 1.6 0 1 0 -3.2 0M150.77 439.03a1.6 1.6 0 1 0 3.2 0a1.6 1.6 0 1 0 -3.2 0M150.77 437.75a1.6 1.6 0 1 0 3.2 0a1.6 1.6 0 1 0 -3.2 0M150.77 436.38a1.6 1.6 0 1 0 3.2 0a1.6 1.6 0 1 0 -3.2 0M150.77 434.91a1.6 1.6 0 1 0 3.2 0a1.6 1.6 0 1 0 -3.2 0M150.77 433.3a1.6 1.6 0 1 0 3.2 0a1.6 1.6 0 1 0 -3.2 0M150.77 431.53a1.6 1.6 0 1 0 3.2 0a1.6 1.6 0 1 0 -3.2 0M150.77 429.56a1.6 1.6 0 1 0 3.2 0a1.6 1.6 0 1 0 -3.2 0M150.77 427.36a1.6 1.6 0 1 0 3.2 0a1.6 1.6 0 1 0 -3.2 0M150.77 530.81a1.6 1.6 0 1 0 3.2 0a1.6 1.6 0 1 0 -3.2 0M150.77 531.71a1.6 1.6 0 1 0 3.2 0a1.6 1.6 0 1 0 -3.2 0M150.77 532.61a1.6 1.6 0 1 0 3.2 0a1.6 1.6 0 1 0 -3.2 0M150.77 533.52a1.6 1.6 0 1 0 3.2 0a1.6 1.6 0 1 0 -3.2 0M150.77 534.45a1.6 1.6 0 1 0 3.2 0a1.6 1.6 0 1 0 -3.2 0M150.77 535.39a1.6 1.6 0 1 0 3.2 0a1.6 1.6 0 1 0 -3.2 0M150.77 536.37a1.6 1.6 0 1 0 3.2 0a1.6 1.6 0 1 0 -3.2 0M150.77 537.37a1.6 1.6 0 1 0 3.2 0a1.6 1.6 0 1 0 -3.2 0M150.77 538.42a1.6 1.6 0 1 0 3.2 0a1.6 1.6 0 1 0 -3.2 0M150.77 539.52a1.6 1.6 0 1 0 3.2 0a1.6 1.6 0 1 0 -3.2 0M150.77 540.68a1.6 1.6 0 1 0 3.2 0a1.6 1.6 0 1 0 -3.2 0M150.77 541.91a1.6 1.6 0 1 0 3.2 0a1.6 1.6 0 1 0 -3.2 0M150.77 543.24a1.6 1.6 0 1 0 3.2 0a1.6 1.6 0 1 0 -3.2 0M150.77 544.67a1.6 1.6 0 1 0 3.2 0a1.6 1.6 0 1 0 -3.2 0M150.77 546.23a1.6 1.6 0 1 0 3.2 0a1.6 1.6 0 1 0 -3.2 0M150.77 547.94a1.6 1.6 0 1 0 3.2 0a1.6 1.6 0 1 0 -3.2 0M150.77 549.85a1.6 1.6 0 1 0 3.2 0a1.6 1.6 0 1 0 -3.2 0M150.77 551.99a1.6 1.6 0 1 0 3.2 0a1.6 1.6 0 1 0 -3.2 0M150.77 558.56a1.6 1.6 0 1 0 3.2 0a1.6 1.6 0 1 0 -3.2 0M150.77 562.57a1.6 1.6 0 1 0 3.2 0a1.6 1.6 0 1 0 -3.2 0M150.77 565.66a1.6 1.6 0 1 0 3.2 0a1.6 1.6 0 1 0 -3.2 0M150.77 568.74a1.6 1.6 0 1 0 3.2 0a1.6 1.6 0 1 0 -3.2 0M150.77 571.83a1.6 1.6 0 1 0 3.2 0a1.6 1.6 0 1 0 -3.2 0M150.77 574.91a1.6 1.6 0 1 0 3.2 0a1.6 1.6 0 1 0 -3.2 0M150.77 577.99a1.6 1.6 0 1 0 3.2 0a1.6 1.6 0 1 0 -3.2 0M150.77 581.54a1.6 1.6 0 1 0 3.2 0a1.6 1.6 0 1 0 -3.2 0M150.77 589.87a1.6 1.6 0 1 0 3.2 0a1.6 1.6 0 1 0 -3.2 0M150.77 595.73a1.6 1.6 0 1 0 3.2 0a1.6 1.6 0 1 0 -3.2 0M150.77 610.07a1.6 1.6 0 1 0 3.2 0a1.6 1.6 0 1 0 -3.2 0M162.52 407.45a1.6 1.6 0 1 0 3.2 0a1.6 1.6 0 1 0 -3.2 0M162.52 413.93a1.6 1.6 0 1 0 3.2 0a1.6 1.6 0 1 0 -3.2 0M162.52 416.08a1.6 1.6 0 1 0 3.2 0a1.6 1.6 0 1 0 -3.2 0M162.52 419.32a1.6 1.6 0 1 0 3.2 0a1.6 1.6 0 1 0 -3.2 0M162.52 450.01a1.6 1.6 0 1 0 3.2 0a1.6 1.6 0 1 0 -3.2 0M162.52 449.11a1.6 1.6 0 1 0 3.2 0a1.6 1.6 0 1 0 -3.2 0M162.52 448.21a1.6 1.6 0 1 0 3.2 0a1.6 1.6 0 1 0 -3.2 0M162.52 447.29a1.6 1.6 0 1 0 3.2 0a1.6 1.6 0 1 0 -3.2 0M162.52 446.37a1.6 1.6 0 1 0 3.2 0a1.6 1.6 0 1 0 -3.2 0M162.52 445.42a1.6 1.6 0 1 0 3.2 0a1.6 1.6 0 1 0 -3.2 0M162.52 444.45a1.6 1.6 0 1 0 3.2 0a1.6 1.6 0 1 0 -3.2 0M162.52 443.45a1.6 1.6 0 1 0 3.2 0a1.6 1.6 0 1 0 -3.2 0M162.52 442.4a1.6 1.6 0 1 0 3.2 0a1.6 1.6 0 1 0 -3.2 0M162.52 441.31a1.6 1.6 0 1 0 3.2 0a1.6 1.6 0 1 0 -3.2 0M162.52 440.15a1.6 1.6 0 1 0 3.2 0a1.6 1.6 0 1 0 -3.2 0M162.52 438.92a1.6 1.6 0 1 0 3.2 0a1.6 1.6 0 1 0 -3.2 0M162.52 437.61a1.6 1.6 0 1 0 3.2 0a1.6 1.6 0 1 0 -3.2 0M162.52 436.19a1.6 1.6 0 1 0 3.2 0a1.6 1.6 0 1 0 -3.2 0M162.52 434.64a1.6 1.6 0 1 0 3.2 0a1.6 1.6 0 1 0 -3.2 0M162.52 432.94a1.6 1.6 0 1 0 3.2 0a1.6 1.6 0 1 0 -3.2 0M162.52 431.05a1.6 1.6 0 1 0 3.2 0a1.6 1.6 0 1 0 -3.2 0M162.52 428.94a1.6 1.6 0 1 0 3.2 0a1.6 1.6 0 1 0 -3.2 0M162.52 529.88a1.6 1.6 0 1 0 3.2 0a1.6 1.6 0 1 0 -3.2 0M162.52 530.78a1.6 1.6 0 1 0 3.2 0a1.6 1.6 0 1 0 -3.2 0M162.52 531.69a1.6 1.6 0 1 0 3.2 0a1.6 1.6 0 1 0 -3.2 0M162.52 532.59a1.6 1.6 0 1 0 3.2 0a1.6 1.6 0 1 0 -3.2 0M162.52 533.5a1.6 1.6 0 1 0 3.2 0a1.6 1.6 0 1 0 -3.2 0M162.52 534.43a1.6 1.6 0 1 0 3.2 0a1.6 1.6 0 1 0 -3.2 0M162.52 535.36a1.6 1.6 0 1 0 3.2 0a1.6 1.6 0 1 0 -3.2 0M162.52 536.32a1.6 1.6 0 1 0 3.2 0a1.6 1.6 0 1 0 -3.2 0M162.52 537.29a1.6 1.6 0 1 0 3.2 0a1.6 1.6 0 1 0 -3.2 0M162.52 538.29a1.6 1.6 0 1 0 3.2 0a1.6 1.6 0 1 0 -3.2 0M162.52 539.32a1.6 1.6 0 1 0 3.2 0a1.6 1.6 0 1 0 -3.2 0M162.52 540.38a1.6 1.6 0 1 0 3.2 0a1.6 1.6 0 1 0 -3.2 0M162.52 541.47a1.6 1.6 0 1 0 3.2 0a1.6 1.6 0 1 0 -3.2 0M162.52 542.61a1.6 1.6 0 1 0 3.2 0a1.6 1.6 0 1 0 -3.2 0M162.52 543.8a1.6 1.6 0 1 0 3.2 0a1.6 1.6 0 1 0 -3.2 0M162.52 545.05a1.6 1.6 0 1 0 3.2 0a1.6 1.6 0 1 0 -3.2 0M162.52 546.36a1.6 1.6 0 1 0 3.2 0a1.6 1.6 0 1 0 -3.2 0M162.52 547.75a1.6 1.6 0 1 0 3.2 0a1.6 1.6 0 1 0 -3.2 0M162.52 549.22a1.6 1.6 0 1 0 3.2 0a1.6 1.6 0 1 0 -3.2 0M162.52 550.78a1.6 1.6 0 1 0 3.2 0a1.6 1.6 0 1 0 -3.2 0M162.52 552.46a1.6 1.6 0 1 0 3.2 0a1.6 1.6 0 1 0 -3.2 0M162.52 554.28a1.6 1.6 0 1 0 3.2 0a1.6 1.6 0 1 0 -3.2 0M162.52 556.24a1.6 1.6 0 1 0 3.2 0a1.6 1.6 0 1 0 -3.2 0M162.52 558.38a1.6 1.6 0 1 0 3.2 0a1.6 1.6 0 1 0 -3.2 0M162.52 563.35a1.6 1.6 0 1 0 3.2 0a1.6 1.6 0 1 0 -3.2 0M162.52 566.43a1.6 1.6 0 1 0 3.2 0a1.6 1.6 0 1 0 -3.2 0M162.52 569.51a1.6 1.6 0 1 0 3.2 0a1.6 1.6 0 1 0 -3.2 0M162.52 572.6a1.6 1.6 0 1 0 3.2 0a1.6 1.6 0 1 0 -3.2 0M162.52 575.68a1.6 1.6 0 1 0 3.2 0a1.6 1.6 0 1 0 -3.2 0M162.52 577.99a1.6 1.6 0 1 0 3.2 0a1.6 1.6 0 1 0 -3.2 0M162.52 586.17a1.6 1.6 0 1 0 3.2 0a1.6 1.6 0 1 0 -3.2 0M162.52 621.94a1.6 1.6 0 1 0 3.2 0a1.6 1.6 0 1 0 -3.2 0M174.27 395.88a1.6 1.6 0 1 0 3.2 0a1.6 1.6 0 1 0 -3.2 0M174.27 398.35a1.6 1.6 0 1 0 3.2 0a1.6 1.6 0 1 0 -3.2 0M174.27 400.66a1.6 1.6 0 1 0 3.2 0a1.6 1.6 0 1 0 -3.2 0M174.27 412.07a1.6 1.6 0 1 0 3.2 0a1.6 1.6 0 1 0 -3.2 0M174.27 414.54a1.6 1.6 0 1 0 3.2 0a1.6 1.6 0 1 0 -3.2 0M174.27 416.55a1.6 1.6 0 1 0 3.2 0a1.6 1.6 0 1 0 -3.2 0M174.27 421.17a1.6 1.6 0 1 0 3.2 0a1.6 1.6 0 1 0 -3.2 0M174.27 425.34a1.6 1.6 0 1 0 3.2 0a1.6 1.6 0 1 0 -3.2 0M174.27 428.42a1.6 1.6 0 1 0 3.2 0a1.6 1.6 0 1 0 -3.2 0M174.27 431.5a1.6 1.6 0 1 0 3.2 0a1.6 1.6 0 1 0 -3.2 0M174.27 447.23a1.6 1.6 0 1 0 3.2 0a1.6 1.6 0 1 0 -3.2 0M174.27 446.33a1.6 1.6 0 1 0 3.2 0a1.6 1.6 0 1 0 -3.2 0M174.27 445.42a1.6 1.6 0 1 0 3.2 0a1.6 1.6 0 1 0 -3.2 0M174.27 444.46a1.6 1.6 0 1 0 3.2 0a1.6 1.6 0 1 0 -3.2 0M174.27 443.43a1.6 1.6 0 1 0 3.2 0a1.6 1.6 0 1 0 -3.2 0M174.27 442.29a1.6 1.6 0 1 0 3.2 0a1.6 1.6 0 1 0 -3.2 0M174.27 440.97a1.6 1.6 0 1 0 3.2 0a1.6 1.6 0 1 0 -3.2 0M174.27 439.41a1.6 1.6 0 1 0 3.2 0a1.6 1.6 0 1 0 -3.2 0M174.27 536.36a1.6 1.6 0 1 0 3.2 0a1.6 1.6 0 1 0 -3.2 0M174.27 537.26a1.6 1.6 0 1 0 3.2 0a1.6 1.6 0 1 0 -3.2 0M174.27 538.16a1.6 1.6 0 1 0 3.2 0a1.6 1.6 0 1 0 -3.2 0M174.27 539.06a1.6 1.6 0 1 0 3.2 0a1.6 1.6 0 1 0 -3.2 0M174.27 539.97a1.6 1.6 0 1 0 3.2 0a1.6 1.6 0 1 0 -3.2 0M174.27 540.88a1.6 1.6 0 1 0 3.2 0a1.6 1.6 0 1 0 -3.2 0M174.27 541.8a1.6 1.6 0 1 0 3.2 0a1.6 1.6 0 1 0 -3.2 0M174.27 542.73a1.6 1.6 0 1 0 3.2 0a1.6 1.6 0 1 0 -3.2 0M174.27 543.67a1.6 1.6 0 1 0 3.2 0a1.6 1.6 0 1 0 -3.2 0M174.27 544.61a1.6 1.6 0 1 0 3.2 0a1.6 1.6 0 1 0 -3.2 0M174.27 545.58a1.6 1.6 0 1 0 3.2 0a1.6 1.6 0 1 0 -3.2 0M174.27 546.55a1.6 1.6 0 1 0 3.2 0a1.6 1.6 0 1 0 -3.2 0M174.27 547.55a1.6 1.6 0 1 0 3.2 0a1.6 1.6 0 1 0 -3.2 0M174.27 548.56a1.6 1.6 0 1 0 3.2 0a1.6 1.6 0 1 0 -3.2 0M174.27 549.6a1.6 1.6 0 1 0 3.2 0a1.6 1.6 0 1 0 -3.2 0M174.27 550.66a1.6 1.6 0 1 0 3.2 0a1.6 1.6 0 1 0 -3.2 0M174.27 551.75a1.6 1.6 0 1 0 3.2 0a1.6 1.6 0 1 0 -3.2 0M174.27 552.87a1.6 1.6 0 1 0 3.2 0a1.6 1.6 0 1 0 -3.2 0M174.27 554.02a1.6 1.6 0 1 0 3.2 0a1.6 1.6 0 1 0 -3.2 0M174.27 555.2a1.6 1.6 0 1 0 3.2 0a1.6 1.6 0 1 0 -3.2 0M174.27 556.43a1.6 1.6 0 1 0 3.2 0a1.6 1.6 0 1 0 -3.2 0M174.27 557.7a1.6 1.6 0 1 0 3.2 0a1.6 1.6 0 1 0 -3.2 0M174.27 559.01a1.6 1.6 0 1 0 3.2 0a1.6 1.6 0 1 0 -3.2 0M174.27 560.38a1.6 1.6 0 1 0 3.2 0a1.6 1.6 0 1 0 -3.2 0M174.27 561.81a1.6 1.6 0 1 0 3.2 0a1.6 1.6 0 1 0 -3.2 0M174.27 563.3a1.6 1.6 0 1 0 3.2 0a1.6 1.6 0 1 0 -3.2 0M174.27 564.87a1.6 1.6 0 1 0 3.2 0a1.6 1.6 0 1 0 -3.2 0M174.27 566.51a1.6 1.6 0 1 0 3.2 0a1.6 1.6 0 1 0 -3.2 0M174.27 568.25a1.6 1.6 0 1 0 3.2 0a1.6 1.6 0 1 0 -3.2 0M174.27 570.08a1.6 1.6 0 1 0 3.2 0a1.6 1.6 0 1 0 -3.2 0M174.27 572.02a1.6 1.6 0 1 0 3.2 0a1.6 1.6 0 1 0 -3.2 0M174.27 574.09a1.6 1.6 0 1 0 3.2 0a1.6 1.6 0 1 0 -3.2 0M174.27 576.29a1.6 1.6 0 1 0 3.2 0a1.6 1.6 0 1 0 -3.2 0M174.27 615.46a1.6 1.6 0 1 0 3.2 0a1.6 1.6 0 1 0 -3.2 0M186.02 413a1.6 1.6 0 1 0 3.2 0a1.6 1.6 0 1 0 -3.2 0M186.02 420.25a1.6 1.6 0 1 0 3.2 0a1.6 1.6 0 1 0 -3.2 0M186.02 423.95a1.6 1.6 0 1 0 3.2 0a1.6 1.6 0 1 0 -3.2 0M186.02 426.72a1.6 1.6 0 1 0 3.2 0a1.6 1.6 0 1 0 -3.2 0M186.02 444.46a1.6 1.6 0 1 0 3.2 0a1.6 1.6 0 1 0 -3.2 0M186.02 443.56a1.6 1.6 0 1 0 3.2 0a1.6 1.6 0 1 0 -3.2 0M186.02 442.65a1.6 1.6 0 1 0 3.2 0a1.6 1.6 0 1 0 -3.2 0M186.02 441.7a1.6 1.6 0 1 0 3.2 0a1.6 1.6 0 1 0 -3.2 0M186.02 440.69a1.6 1.6 0 1 0 3.2 0a1.6 1.6 0 1 0 -3.2 0M186.02 439.59a1.6 1.6 0 1 0 3.2 0a1.6 1.6 0 1 0 -3.2 0M186.02 438.36a1.6 1.6 0 1 0 3.2 0a1.6 1.6 0 1 0 -3.2 0M186.02 436.93a1.6 1.6 0 1 0 3.2 0a1.6 1.6 0 1 0 -3.2 0M186.02 435.23a1.6 1.6 0 1 0 3.2 0a1.6 1.6 0 1 0 -3.2 0M186.02 536.82a1.6 1.6 0 1 0 3.2 0a1.6 1.6 0 1 0 -3.2 0M186.02 537.72a1.6 1.6 0 1 0 3.2 0a1.6 1.6 0 1 0 -3.2 0M186.02 538.63a1.6 1.6 0 1 0 3.2 0a1.6 1.6 0 1 0 -3.2 0M186.02 539.53a1.6 1.6 0 1 0 3.2 0a1.6 1.6 0 1 0 -3.2 0M186.02 540.46a1.6 1.6 0 1 0 3.2 0a1.6 1.6 0 1 0 -3.2 0M186.02 541.4a1.6 1.6 0 1 0 3.2 0a1.6 1.6 0 1 0 -3.2 0M186.02 542.36a1.6 1.6 0 1 0 3.2 0a1.6 1.6 0 1 0 -3.2 0M186.02 543.35a1.6 1.6 0 1 0 3.2 0a1.6 1.6 0 1 0 -3.2 0M186.02 544.38a1.6 1.6 0 1 0 3.2 0a1.6 1.6 0 1 0 -3.2 0M186.02 545.46a1.6 1.6 0 1 0 3.2 0a1.6 1.6 0 1 0 -3.2 0M186.02 546.58a1.6 1.6 0 1 0 3.2 0a1.6 1.6 0 1 0 -3.2 0M186.02 547.77a1.6 1.6 0 1 0 3.2 0a1.6 1.6 0 1 0 -3.2 0M186.02 549.03a1.6 1.6 0 1 0 3.2 0a1.6 1.6 0 1 0 -3.2 0M186.02 550.39a1.6 1.6 0 1 0 3.2 0a1.6 1.6 0 1 0 -3.2 0M186.02 551.84a1.6 1.6 0 1 0 3.2 0a1.6 1.6 0 1 0 -3.2 0M186.02 553.43a1.6 1.6 0 1 0 3.2 0a1.6 1.6 0 1 0 -3.2 0M186.02 555.16a1.6 1.6 0 1 0 3.2 0a1.6 1.6 0 1 0 -3.2 0M186.02 557.08a1.6 1.6 0 1 0 3.2 0a1.6 1.6 0 1 0 -3.2 0M186.02 559.23a1.6 1.6 0 1 0 3.2 0a1.6 1.6 0 1 0 -3.2 0M186.02 564.12a1.6 1.6 0 1 0 3.2 0a1.6 1.6 0 1 0 -3.2 0M186.02 567.2a1.6 1.6 0 1 0 3.2 0a1.6 1.6 0 1 0 -3.2 0M186.02 570.28a1.6 1.6 0 1 0 3.2 0a1.6 1.6 0 1 0 -3.2 0M186.02 573.37a1.6 1.6 0 1 0 3.2 0a1.6 1.6 0 1 0 -3.2 0M186.02 576.45a1.6 1.6 0 1 0 3.2 0a1.6 1.6 0 1 0 -3.2 0M186.02 579.54a1.6 1.6 0 1 0 3.2 0a1.6 1.6 0 1 0 -3.2 0M186.02 583.39a1.6 1.6 0 1 0 3.2 0a1.6 1.6 0 1 0 -3.2 0M186.02 594.03a1.6 1.6 0 1 0 3.2 0a1.6 1.6 0 1 0 -3.2 0M197.77 416.55a1.6 1.6 0 1 0 3.2 0a1.6 1.6 0 1 0 -3.2 0M197.77 421.17a1.6 1.6 0 1 0 3.2 0a1.6 1.6 0 1 0 -3.2 0M197.77 443.53a1.6 1.6 0 1 0 3.2 0a1.6 1.6 0 1 0 -3.2 0M197.77 442.63a1.6 1.6 0 1 0 3.2 0a1.6 1.6 0 1 0 -3.2 0M197.77 441.73a1.6 1.6 0 1 0 3.2 0a1.6 1.6 0 1 0 -3.2 0M197.77 440.8a1.6 1.6 0 1 0 3.2 0a1.6 1.6 0 1 0 -3.2 0M197.77 439.85a1.6 1.6 0 1 0 3.2 0a1.6 1.6 0 1 0 -3.2 0M197.77 438.86a1.6 1.6 0 1 0 3.2 0a1.6 1.6 0 1 0 -3.2 0M197.77 437.81a1.6 1.6 0 1 0 3.2 0a1.6 1.6 0 1 0 -3.2 0M197.77 436.69a1.6 1.6 0 1 0 3.2 0a1.6 1.6 0 1 0 -3.2 0M197.77 435.46a1.6 1.6 0 1 0 3.2 0a1.6 1.6 0 1 0 -3.2 0M197.77 434.12a1.6 1.6 0 1 0 3.2 0a1.6 1.6 0 1 0 -3.2 0M197.77 432.61a1.6 1.6 0 1 0 3.2 0a1.6 1.6 0 1 0 -3.2 0M197.77 430.89a1.6 1.6 0 1 0 3.2 0a1.6 1.6 0 1 0 -3.2 0M197.77 428.89a1.6 1.6 0 1 0 3.2 0a1.6 1.6 0 1 0 -3.2 0M197.77 540.06a1.6 1.6 0 1 0 3.2 0a1.6 1.6 0 1 0 -3.2 0M197.77 540.96a1.6 1.6 0 1 0 3.2 0a1.6 1.6 0 1 0 -3.2 0M197.77 541.86a1.6 1.6 0 1 0 3.2 0a1.6 1.6 0 1 0 -3.2 0M197.77 542.77a1.6 1.6 0 1 0 3.2 0a1.6 1.6 0 1 0 -3.2 0M197.77 543.69a1.6 1.6 0 1 0 3.2 0a1.6 1.6 0 1 0 -3.2 0M197.77 544.63a1.6 1.6 0 1 0 3.2 0a1.6 1.6 0 1 0 -3.2 0M197.77 545.59a1.6 1.6 0 1 0 3.2 0a1.6 1.6 0 1 0 -3.2 0M197.77 546.58a1.6 1.6 0 1 0 3.2 0a1.6 1.6 0 1 0 -3.2 0M197.77 547.61a1.6 1.6 0 1 0 3.2 0a1.6 1.6 0 1 0 -3.2 0M197.77 548.67a1.6 1.6 0 1 0 3.2 0a1.6 1.6 0 1 0 -3.2 0M197.77 549.79a1.6 1.6 0 1 0 3.2 0a1.6 1.6 0 1 0 -3.2 0M197.77 550.96a1.6 1.6 0 1 0 3.2 0a1.6 1.6 0 1 0 -3.2 0M197.77 552.21a1.6 1.6 0 1 0 3.2 0a1.6 1.6 0 1 0 -3.2 0M197.77 553.54a1.6 1.6 0 1 0 3.2 0a1.6 1.6 0 1 0 -3.2 0M197.77 554.97a1.6 1.6 0 1 0 3.2 0a1.6 1.6 0 1 0 -3.2 0M197.77 556.52a1.6 1.6 0 1 0 3.2 0a1.6 1.6 0 1 0 -3.2 0M197.77 558.21a1.6 1.6 0 1 0 3.2 0a1.6 1.6 0 1 0 -3.2 0M197.77 560.06a1.6 1.6 0 1 0 3.2 0a1.6 1.6 0 1 0 -3.2 0M197.77 562.13a1.6 1.6 0 1 0 3.2 0a1.6 1.6 0 1 0 -3.2 0M197.77 567.2a1.6 1.6 0 1 0 3.2 0a1.6 1.6 0 1 0 -3.2 0M197.77 570.28a1.6 1.6 0 1 0 3.2 0a1.6 1.6 0 1 0 -3.2 0M197.77 574.14a1.6 1.6 0 1 0 3.2 0a1.6 1.6 0 1 0 -3.2 0M197.77 577.99a1.6 1.6 0 1 0 3.2 0a1.6 1.6 0 1 0 -3.2 0M197.77 579.69a1.6 1.6 0 1 0 3.2 0a1.6 1.6 0 1 0 -3.2 0M197.77 588.02a1.6 1.6 0 1 0 3.2 0a1.6 1.6 0 1 0 -3.2 0M197.77 591.1a1.6 1.6 0 1 0 3.2 0a1.6 1.6 0 1 0 -3.2 0M197.77 594.34a1.6 1.6 0 1 0 3.2 0a1.6 1.6 0 1 0 -3.2 0M197.77 601.43a1.6 1.6 0 1 0 3.2 0a1.6 1.6 0 1 0 -3.2 0M197.77 620.09a1.6 1.6 0 1 0 3.2 0a1.6 1.6 0 1 0 -3.2 0M209.52 411.15a1.6 1.6 0 1 0 3.2 0a1.6 1.6 0 1 0 -3.2 0M209.52 413a1.6 1.6 0 1 0 3.2 0a1.6 1.6 0 1 0 -3.2 0M209.52 421.17a1.6 1.6 0 1 0 3.2 0a1.6 1.6 0 1 0 -3.2 0M209.52 425.8a1.6 1.6 0 1 0 3.2 0a1.6 1.6 0 1 0 -3.2 0M209.52 440.76a1.6 1.6 0 1 0 3.2 0a1.6 1.6 0 1 0 -3.2 0M209.52 439.86a1.6 1.6 0 1 0 3.2 0a1.6 1.6 0 1 0 -3.2 0M209.52 438.94a1.6 1.6 0 1 0 3.2 0a1.6 1.6 0 1 0 -3.2 0M209.52 437.99a1.6 1.6 0 1 0 3.2 0a1.6 1.6 0 1 0 -3.2 0M209.52 436.96a1.6 1.6 0 1 0 3.2 0a1.6 1.6 0 1 0 -3.2 0M209.52 435.81a1.6 1.6 0 1 0 3.2 0a1.6 1.6 0 1 0 -3.2 0M209.52 434.5a1.6 1.6 0 1 0 3.2 0a1.6 1.6 0 1 0 -3.2 0M209.52 432.93a1.6 1.6 0 1 0 3.2 0a1.6 1.6 0 1 0 -3.2 0M209.52 541.29a1.6 1.6 0 1 0 3.2 0a1.6 1.6 0 1 0 -3.2 0M209.52 542.19a1.6 1.6 0 1 0 3.2 0a1.6 1.6 0 1 0 -3.2 0M209.52 543.1a1.6 1.6 0 1 0 3.2 0a1.6 1.6 0 1 0 -3.2 0M209.52 544.01a1.6 1.6 0 1 0 3.2 0a1.6 1.6 0 1 0 -3.2 0M209.52 544.93a1.6 1.6 0 1 0 3.2 0a1.6 1.6 0 1 0 -3.2 0M209.52 545.86a1.6 1.6 0 1 0 3.2 0a1.6 1.6 0 1 0 -3.2 0M209.52 546.82a1.6 1.6 0 1 0 3.2 0a1.6 1.6 0 1 0 -3.2 0M209.52 547.8a1.6 1.6 0 1 0 3.2 0a1.6 1.6 0 1 0 -3.2 0M209.52 548.82a1.6 1.6 0 1 0 3.2 0a1.6 1.6 0 1 0 -3.2 0M209.52 549.88a1.6 1.6 0 1 0 3.2 0a1.6 1.6 0 1 0 -3.2 0M209.52 550.98a1.6 1.6 0 1 0 3.2 0a1.6 1.6 0 1 0 -3.2 0M209.52 552.14a1.6 1.6 0 1 0 3.2 0a1.6 1.6 0 1 0 -3.2 0M209.52 553.37a1.6 1.6 0 1 0 3.2 0a1.6 1.6 0 1 0 -3.2 0M209.52 554.67a1.6 1.6 0 1 0 3.2 0a1.6 1.6 0 1 0 -3.2 0M209.52 556.06a1.6 1.6 0 1 0 3.2 0a1.6 1.6 0 1 0 -3.2 0M209.52 557.57a1.6 1.6 0 1 0 3.2 0a1.6 1.6 0 1 0 -3.2 0M209.52 559.2a1.6 1.6 0 1 0 3.2 0a1.6 1.6 0 1 0 -3.2 0M209.52 560.99a1.6 1.6 0 1 0 3.2 0a1.6 1.6 0 1 0 -3.2 0M209.52 562.96a1.6 1.6 0 1 0 3.2 0a1.6 1.6 0 1 0 -3.2 0M209.52 565.16a1.6 1.6 0 1 0 3.2 0a1.6 1.6 0 1 0 -3.2 0M209.52 573.37a1.6 1.6 0 1 0 3.2 0a1.6 1.6 0 1 0 -3.2 0M209.52 584.32a1.6 1.6 0 1 0 3.2 0a1.6 1.6 0 1 0 -3.2 0M221.27 437.67a1.6 1.6 0 1 0 3.2 0a1.6 1.6 0 1 0 -3.2 0M221.27 436.13a1.6 1.6 0 1 0 3.2 0a1.6 1.6 0 1 0 -3.2 0M221.27 434.59a1.6 1.6 0 1 0 3.2 0a1.6 1.6 0 1 0 -3.2 0M221.27 433.05a1.6 1.6 0 1 0 3.2 0a1.6 1.6 0 1 0 -3.2 0M221.27 431.5a1.6 1.6 0 1 0 3.2 0a1.6 1.6 0 1 0 -3.2 0M221.27 429.96a1.6 1.6 0 1 0 3.2 0a1.6 1.6 0 1 0 -3.2 0M221.27 428.42a1.6 1.6 0 1 0 3.2 0a1.6 1.6 0 1 0 -3.2 0M221.27 426.88a1.6 1.6 0 1 0 3.2 0a1.6 1.6 0 1 0 -3.2 0M221.27 425.34a1.6 1.6 0 1 0 3.2 0a1.6 1.6 0 1 0 -3.2 0M221.27 423.79a1.6 1.6 0 1 0 3.2 0a1.6 1.6 0 1 0 -3.2 0M221.27 422.25a1.6 1.6 0 1 0 3.2 0a1.6 1.6 0 1 0 -3.2 0M221.27 420.71a1.6 1.6 0 1 0 3.2 0a1.6 1.6 0 1 0 -3.2 0M221.27 419.17a1.6 1.6 0 1 0 3.2 0a1.6 1.6 0 1 0 -3.2 0M221.27 417.63a1.6 1.6 0 1 0 3.2 0a1.6 1.6 0 1 0 -3.2 0M221.27 546.38a1.6 1.6 0 1 0 3.2 0a1.6 1.6 0 1 0 -3.2 0M221.27 547.28a1.6 1.6 0 1 0 3.2 0a1.6 1.6 0 1 0 -3.2 0M221.27 548.19a1.6 1.6 0 1 0 3.2 0a1.6 1.6 0 1 0 -3.2 0M221.27 549.1a1.6 1.6 0 1 0 3.2 0a1.6 1.6 0 1 0 -3.2 0M221.27 550.02a1.6 1.6 0 1 0 3.2 0a1.6 1.6 0 1 0 -3.2 0M221.27 550.97a1.6 1.6 0 1 0 3.2 0a1.6 1.6 0 1 0 -3.2 0M221.27 551.94a1.6 1.6 0 1 0 3.2 0a1.6 1.6 0 1 0 -3.2 0M221.27 552.94a1.6 1.6 0 1 0 3.2 0a1.6 1.6 0 1 0 -3.2 0M221.27 553.99a1.6 1.6 0 1 0 3.2 0a1.6 1.6 0 1 0 -3.2 0M221.27 555.08a1.6 1.6 0 1 0 3.2 0a1.6 1.6 0 1 0 -3.2 0M221.27 556.24a1.6 1.6 0 1 0 3.2 0a1.6 1.6 0 1 0 -3.2 0M221.27 557.47a1.6 1.6 0 1 0 3.2 0a1.6 1.6 0 1 0 -3.2 0M221.27 558.78a1.6 1.6 0 1 0 3.2 0a1.6 1.6 0 1 0 -3.2 0M221.27 560.2a1.6 1.6 0 1 0 3.2 0a1.6 1.6 0 1 0 -3.2 0M221.27 561.75a1.6 1.6 0 1 0 3.2 0a1.6 1.6 0 1 0 -3.2 0M221.27 563.45a1.6 1.6 0 1 0 3.2 0a1.6 1.6 0 1 0 -3.2 0M221.27 565.34a1.6 1.6 0 1 0 3.2 0a1.6 1.6 0 1 0 -3.2 0M221.27 567.45a1.6 1.6 0 1 0 3.2 0a1.6 1.6 0 1 0 -3.2 0M221.27 576.14a1.6 1.6 0 1 0 3.2 0a1.6 1.6 0 1 0 -3.2 0M221.27 579.54a1.6 1.6 0 1 0 3.2 0a1.6 1.6 0 1 0 -3.2 0M221.27 582.62a1.6 1.6 0 1 0 3.2 0a1.6 1.6 0 1 0 -3.2 0M221.27 585.24a1.6 1.6 0 1 0 3.2 0a1.6 1.6 0 1 0 -3.2 0M221.27 615.46a1.6 1.6 0 1 0 3.2 0a1.6 1.6 0 1 0 -3.2 0M233.03 412.07a1.6 1.6 0 1 0 3.2 0a1.6 1.6 0 1 0 -3.2 0M233.03 436.13a1.6 1.6 0 1 0 3.2 0a1.6 1.6 0 1 0 -3.2 0M233.03 435.23a1.6 1.6 0 1 0 3.2 0a1.6 1.6 0 1 0 -3.2 0M233.03 434.32a1.6 1.6 0 1 0 3.2 0a1.6 1.6 0 1 0 -3.2 0M233.03 433.4a1.6 1.6 0 1 0 3.2 0a1.6 1.6 0 1 0 -3.2 0M233.03 432.45a1.6 1.6 0 1 0 3.2 0a1.6 1.6 0 1 0 -3.2 0M233.03 431.45a1.6 1.6 0 1 0 3.2 0a1.6 1.6 0 1 0 -3.2 0M233.03 430.4a1.6 1.6 0 1 0 3.2 0a1.6 1.6 0 1 0 -3.2 0M233.03 429.27a1.6 1.6 0 1 0 3.2 0a1.6 1.6 0 1 0 -3.2 0M233.03 428.04a1.6 1.6 0 1 0 3.2 0a1.6 1.6 0 1 0 -3.2 0M233.03 426.68a1.6 1.6 0 1 0 3.2 0a1.6 1.6 0 1 0 -3.2 0M233.03 425.16a1.6 1.6 0 1 0 3.2 0a1.6 1.6 0 1 0 -3.2 0M233.03 423.41a1.6 1.6 0 1 0 3.2 0a1.6 1.6 0 1 0 -3.2 0M233.03 421.38a1.6 1.6 0 1 0 3.2 0a1.6 1.6 0 1 0 -3.2 0M233.03 543.14a1.6 1.6 0 1 0 3.2 0a1.6 1.6 0 1 0 -3.2 0M233.03 544.04a1.6 1.6 0 1 0 3.2 0a1.6 1.6 0 1 0 -3.2 0M233.03 544.95a1.6 1.6 0 1 0 3.2 0a1.6 1.6 0 1 0 -3.2 0M233.03 545.86a1.6 1.6 0 1 0 3.2 0a1.6 1.6 0 1 0 -3.2 0M233.03 546.78a1.6 1.6 0 1 0 3.2 0a1.6 1.6 0 1 0 -3.2 0M233.03 547.72a1.6 1.6 0 1 0 3.2 0a1.6 1.6 0 1 0 -3.2 0M233.03 548.68a1.6 1.6 0 1 0 3.2 0a1.6 1.6 0 1 0 -3.2 0M233.03 549.67a1.6 1.6 0 1 0 3.2 0a1.6 1.6 0 1 0 -3.2 0M233.03 550.7a1.6 1.6 0 1 0 3.2 0a1.6 1.6 0 1 0 -3.2 0M233.03 551.77a1.6 1.6 0 1 0 3.2 0a1.6 1.6 0 1 0 -3.2 0M233.03 552.89a1.6 1.6 0 1 0 3.2 0a1.6 1.6 0 1 0 -3.2 0M233.03 554.08a1.6 1.6 0 1 0 3.2 0a1.6 1.6 0 1 0 -3.2 0M233.03 555.34a1.6 1.6 0 1 0 3.2 0a1.6 1.6 0 1 0 -3.2 0M233.03 556.68a1.6 1.6 0 1 0 3.2 0a1.6 1.6 0 1 0 -3.2 0M233.03 558.13a1.6 1.6 0 1 0 3.2 0a1.6 1.6 0 1 0 -3.2 0M233.03 559.7a1.6 1.6 0 1 0 3.2 0a1.6 1.6 0 1 0 -3.2 0M233.03 561.42a1.6 1.6 0 1 0 3.2 0a1.6 1.6 0 1 0 -3.2 0M233.03 563.32a1.6 1.6 0 1 0 3.2 0a1.6 1.6 0 1 0 -3.2 0M233.03 565.43a1.6 1.6 0 1 0 3.2 0a1.6 1.6 0 1 0 -3.2 0M233.03 573.37a1.6 1.6 0 1 0 3.2 0a1.6 1.6 0 1 0 -3.2 0M233.03 580.31a1.6 1.6 0 1 0 3.2 0a1.6 1.6 0 1 0 -3.2 0M233.03 582.62a1.6 1.6 0 1 0 3.2 0a1.6 1.6 0 1 0 -3.2 0M233.03 592.64a1.6 1.6 0 1 0 3.2 0a1.6 1.6 0 1 0 -3.2 0M233.03 593.41a1.6 1.6 0 1 0 3.2 0a1.6 1.6 0 1 0 -3.2 0M233.03 600.82a1.6 1.6 0 1 0 3.2 0a1.6 1.6 0 1 0 -3.2 0M244.78 436.13a1.6 1.6 0 1 0 3.2 0a1.6 1.6 0 1 0 -3.2 0M244.78 435.23a1.6 1.6 0 1 0 3.2 0a1.6 1.6 0 1 0 -3.2 0M244.78 434.33a1.6 1.6 0 1 0 3.2 0a1.6 1.6 0 1 0 -3.2 0M244.78 433.41a1.6 1.6 0 1 0 3.2 0a1.6 1.6 0 1 0 -3.2 0M244.78 432.48a1.6 1.6 0 1 0 3.2 0a1.6 1.6 0 1 0 -3.2 0M244.78 431.53a1.6 1.6 0 1 0 3.2 0a1.6 1.6 0 1 0 -3.2 0M244.78 430.54a1.6 1.6 0 1 0 3.2 0a1.6 1.6 0 1 0 -3.2 0M244.78 429.51a1.6 1.6 0 1 0 3.2 0a1.6 1.6 0 1 0 -3.2 0M244.78 428.43a1.6 1.6 0 1 0 3.2 0a1.6 1.6 0 1 0 -3.2 0M244.78 427.29a1.6 1.6 0 1 0 3.2 0a1.6 1.6 0 1 0 -3.2 0M244.78 426.07a1.6 1.6 0 1 0 3.2 0a1.6 1.6 0 1 0 -3.2 0M244.78 424.75a1.6 1.6 0 1 0 3.2 0a1.6 1.6 0 1 0 -3.2 0M244.78 423.32a1.6 1.6 0 1 0 3.2 0a1.6 1.6 0 1 0 -3.2 0M244.78 421.75a1.6 1.6 0 1 0 3.2 0a1.6 1.6 0 1 0 -3.2 0M244.78 420a1.6 1.6 0 1 0 3.2 0a1.6 1.6 0 1 0 -3.2 0M244.78 418.03a1.6 1.6 0 1 0 3.2 0a1.6 1.6 0 1 0 -3.2 0M244.78 541.91a1.6 1.6 0 1 0 3.2 0a1.6 1.6 0 1 0 -3.2 0M244.78 542.81a1.6 1.6 0 1 0 3.2 0a1.6 1.6 0 1 0 -3.2 0M244.78 543.71a1.6 1.6 0 1 0 3.2 0a1.6 1.6 0 1 0 -3.2 0M244.78 544.63a1.6 1.6 0 1 0 3.2 0a1.6 1.6 0 1 0 -3.2 0M244.78 545.56a1.6 1.6 0 1 0 3.2 0a1.6 1.6 0 1 0 -3.2 0M244.78 546.51a1.6 1.6 0 1 0 3.2 0a1.6 1.6 0 1 0 -3.2 0M244.78 547.5a1.6 1.6 0 1 0 3.2 0a1.6 1.6 0 1 0 -3.2 0M244.78 548.53a1.6 1.6 0 1 0 3.2 0a1.6 1.6 0 1 0 -3.2 0M244.78 549.61a1.6 1.6 0 1 0 3.2 0a1.6 1.6 0 1 0 -3.2 0M244.78 550.75a1.6 1.6 0 1 0 3.2 0a1.6 1.6 0 1 0 -3.2 0M244.78 551.97a1.6 1.6 0 1 0 3.2 0a1.6 1.6 0 1 0 -3.2 0M244.78 553.29a1.6 1.6 0 1 0 3.2 0a1.6 1.6 0 1 0 -3.2 0M244.78 554.72a1.6 1.6 0 1 0 3.2 0a1.6 1.6 0 1 0 -3.2 0M244.78 556.29a1.6 1.6 0 1 0 3.2 0a1.6 1.6 0 1 0 -3.2 0M244.78 558.04a1.6 1.6 0 1 0 3.2 0a1.6 1.6 0 1 0 -3.2 0M244.78 560.01a1.6 1.6 0 1 0 3.2 0a1.6 1.6 0 1 0 -3.2 0M244.78 565.66a1.6 1.6 0 1 0 3.2 0a1.6 1.6 0 1 0 -3.2 0M244.78 568.74a1.6 1.6 0 1 0 3.2 0a1.6 1.6 0 1 0 -3.2 0M244.78 573.37a1.6 1.6 0 1 0 3.2 0a1.6 1.6 0 1 0 -3.2 0M244.78 583.85a1.6 1.6 0 1 0 3.2 0a1.6 1.6 0 1 0 -3.2 0M244.78 610.68a1.6 1.6 0 1 0 3.2 0a1.6 1.6 0 1 0 -3.2 0M256.53 406.22a1.6 1.6 0 1 0 3.2 0a1.6 1.6 0 1 0 -3.2 0M256.53 437.21a1.6 1.6 0 1 0 3.2 0a1.6 1.6 0 1 0 -3.2 0M256.53 436.31a1.6 1.6 0 1 0 3.2 0a1.6 1.6 0 1 0 -3.2 0M256.53 435.41a1.6 1.6 0 1 0 3.2 0a1.6 1.6 0 1 0 -3.2 0M256.53 434.49a1.6 1.6 0 1 0 3.2 0a1.6 1.6 0 1 0 -3.2 0M256.53 433.57a1.6 1.6 0 1 0 3.2 0a1.6 1.6 0 1 0 -3.2 0M256.53 432.61a1.6 1.6 0 1 0 3.2 0a1.6 1.6 0 1 0 -3.2 0M256.53 431.63a1.6 1.6 0 1 0 3.2 0a1.6 1.6 0 1 0 -3.2 0M256.53 430.61a1.6 1.6 0 1 0 3.2 0a1.6 1.6 0 1 0 -3.2 0M256.53 429.54a1.6 1.6 0 1 0 3.2 0a1.6 1.6 0 1 0 -3.2 0M256.53 428.42a1.6 1.6 0 1 0 3.2 0a1.6 1.6 0 1 0 -3.2 0M256.53 427.22a1.6 1.6 0 1 0 3.2 0a1.6 1.6 0 1 0 -3.2 0M256.53 425.93a1.6 1.6 0 1 0 3.2 0a1.6 1.6 0 1 0 -3.2 0M256.53 424.54a1.6 1.6 0 1 0 3.2 0a1.6 1.6 0 1 0 -3.2 0M256.53 423.02a1.6 1.6 0 1 0 3.2 0a1.6 1.6 0 1 0 -3.2 0M256.53 421.35a1.6 1.6 0 1 0 3.2 0a1.6 1.6 0 1 0 -3.2 0M256.53 419.47a1.6 1.6 0 1 0 3.2 0a1.6 1.6 0 1 0 -3.2 0M256.53 417.36a1.6 1.6 0 1 0 3.2 0a1.6 1.6 0 1 0 -3.2 0M256.53 538.21a1.6 1.6 0 1 0 3.2 0a1.6 1.6 0 1 0 -3.2 0M256.53 539.11a1.6 1.6 0 1 0 3.2 0a1.6 1.6 0 1 0 -3.2 0M256.53 540.01a1.6 1.6 0 1 0 3.2 0a1.6 1.6 0 1 0 -3.2 0M256.53 540.92a1.6 1.6 0 1 0 3.2 0a1.6 1.6 0 1 0 -3.2 0M256.53 541.85a1.6 1.6 0 1 0 3.2 0a1.6 1.6 0 1 0 -3.2 0M256.53 542.79a1.6 1.6 0 1 0 3.2 0a1.6 1.6 0 1 0 -3.2 0M256.53 543.75a1.6 1.6 0 1 0 3.2 0a1.6 1.6 0 1 0 -3.2 0M256.53 544.75a1.6 1.6 0 1 0 3.2 0a1.6 1.6 0 1 0 -3.2 0M256.53 545.79a1.6 1.6 0 1 0 3.2 0a1.6 1.6 0 1 0 -3.2 0M256.53 546.87a1.6 1.6 0 1 0 3.2 0a1.6 1.6 0 1 0 -3.2 0M256.53 548a1.6 1.6 0 1 0 3.2 0a1.6 1.6 0 1 0 -3.2 0M256.53 549.21a1.6 1.6 0 1 0 3.2 0a1.6 1.6 0 1 0 -3.2 0M256.53 550.49a1.6 1.6 0 1 0 3.2 0a1.6 1.6 0 1 0 -3.2 0M256.53 551.86a1.6 1.6 0 1 0 3.2 0a1.6 1.6 0 1 0 -3.2 0M256.53 553.35a1.6 1.6 0 1 0 3.2 0a1.6 1.6 0 1 0 -3.2 0M256.53 554.98a1.6 1.6 0 1 0 3.2 0a1.6 1.6 0 1 0 -3.2 0M256.53 556.76a1.6 1.6 0 1 0 3.2 0a1.6 1.6 0 1 0 -3.2 0M256.53 558.75a1.6 1.6 0 1 0 3.2 0a1.6 1.6 0 1 0 -3.2 0M256.53 565.66a1.6 1.6 0 1 0 3.2 0a1.6 1.6 0 1 0 -3.2 0M256.53 568.74a1.6 1.6 0 1 0 3.2 0a1.6 1.6 0 1 0 -3.2 0M256.53 582.47a1.6 1.6 0 1 0 3.2 0a1.6 1.6 0 1 0 -3.2 0M256.53 588.02a1.6 1.6 0 1 0 3.2 0a1.6 1.6 0 1 0 -3.2 0M256.53 591.1a1.6 1.6 0 1 0 3.2 0a1.6 1.6 0 1 0 -3.2 0M256.53 594.34a1.6 1.6 0 1 0 3.2 0a1.6 1.6 0 1 0 -3.2 0M268.28 392.8a1.6 1.6 0 1 0 3.2 0a1.6 1.6 0 1 0 -3.2 0M268.28 400.97a1.6 1.6 0 1 0 3.2 0a1.6 1.6 0 1 0 -3.2 0M268.28 403.75a1.6 1.6 0 1 0 3.2 0a1.6 1.6 0 1 0 -3.2 0M268.28 406.52a1.6 1.6 0 1 0 3.2 0a1.6 1.6 0 1 0 -3.2 0M268.28 429.81a1.6 1.6 0 1 0 3.2 0a1.6 1.6 0 1 0 -3.2 0M268.28 428.91a1.6 1.6 0 1 0 3.2 0a1.6 1.6 0 1 0 -3.2 0M268.28 428a1.6 1.6 0 1 0 3.2 0a1.6 1.6 0 1 0 -3.2 0M268.28 427.09a1.6 1.6 0 1 0 3.2 0a1.6 1.6 0 1 0 -3.2 0M268.28 426.16a1.6 1.6 0 1 0 3.2 0a1.6 1.6 0 1 0 -3.2 0M268.28 425.2a1.6 1.6 0 1 0 3.2 0a1.6 1.6 0 1 0 -3.2 0M268.28 424.2a1.6 1.6 0 1 0 3.2 0a1.6 1.6 0 1 0 -3.2 0M268.28 423.16a1.6 1.6 0 1 0 3.2 0a1.6 1.6 0 1 0 -3.2 0M268.28 422.07a1.6 1.6 0 1 0 3.2 0a1.6 1.6 0 1 0 -3.2 0M268.28 420.9a1.6 1.6 0 1 0 3.2 0a1.6 1.6 0 1 0 -3.2 0M268.28 419.65a1.6 1.6 0 1 0 3.2 0a1.6 1.6 0 1 0 -3.2 0M268.28 418.29a1.6 1.6 0 1 0 3.2 0a1.6 1.6 0 1 0 -3.2 0M268.28 416.8a1.6 1.6 0 1 0 3.2 0a1.6 1.6 0 1 0 -3.2 0M268.28 415.15a1.6 1.6 0 1 0 3.2 0a1.6 1.6 0 1 0 -3.2 0M268.28 413.29a1.6 1.6 0 1 0 3.2 0a1.6 1.6 0 1 0 -3.2 0M268.28 411.18a1.6 1.6 0 1 0 3.2 0a1.6 1.6 0 1 0 -3.2 0M268.28 540.52a1.6 1.6 0 1 0 3.2 0a1.6 1.6 0 1 0 -3.2 0M268.28 541.42a1.6 1.6 0 1 0 3.2 0a1.6 1.6 0 1 0 -3.2 0M268.28 542.33a1.6 1.6 0 1 0 3.2 0a1.6 1.6 0 1 0 -3.2 0M268.28 543.24a1.6 1.6 0 1 0 3.2 0a1.6 1.6 0 1 0 -3.2 0M268.28 544.16a1.6 1.6 0 1 0 3.2 0a1.6 1.6 0 1 0 -3.2 0M268.28 545.1a1.6 1.6 0 1 0 3.2 0a1.6 1.6 0 1 0 -3.2 0M268.28 546.06a1.6 1.6 0 1 0 3.2 0a1.6 1.6 0 1 0 -3.2 0M268.28 547.05a1.6 1.6 0 1 0 3.2 0a1.6 1.6 0 1 0 -3.2 0M268.28 548.08a1.6 1.6 0 1 0 3.2 0a1.6 1.6 0 1 0 -3.2 0M268.28 549.16a1.6 1.6 0 1 0 3.2 0a1.6 1.6 0 1 0 -3.2 0M268.28 550.28a1.6 1.6 0 1 0 3.2 0a1.6 1.6 0 1 0 -3.2 0M268.28 551.47a1.6 1.6 0 1 0 3.2 0a1.6 1.6 0 1 0 -3.2 0M268.28 552.73a1.6 1.6 0 1 0 3.2 0a1.6 1.6 0 1 0 -3.2 0M268.28 554.09a1.6 1.6 0 1 0 3.2 0a1.6 1.6 0 1 0 -3.2 0M268.28 555.54a1.6 1.6 0 1 0 3.2 0a1.6 1.6 0 1 0 -3.2 0M268.28 557.13a1.6 1.6 0 1 0 3.2 0a1.6 1.6 0 1 0 -3.2 0M268.28 558.86a1.6 1.6 0 1 0 3.2 0a1.6 1.6 0 1 0 -3.2 0M268.28 560.78a1.6 1.6 0 1 0 3.2 0a1.6 1.6 0 1 0 -3.2 0M268.28 562.93a1.6 1.6 0 1 0 3.2 0a1.6 1.6 0 1 0 -3.2 0M268.28 579.38a1.6 1.6 0 1 0 3.2 0a1.6 1.6 0 1 0 -3.2 0M280.03 373.06a1.6 1.6 0 1 0 3.2 0a1.6 1.6 0 1 0 -3.2 0M280.03 393.26a1.6 1.6 0 1 0 3.2 0a1.6 1.6 0 1 0 -3.2 0M280.03 397.43a1.6 1.6 0 1 0 3.2 0a1.6 1.6 0 1 0 -3.2 0M280.03 400.66a1.6 1.6 0 1 0 3.2 0a1.6 1.6 0 1 0 -3.2 0M280.03 405.29a1.6 1.6 0 1 0 3.2 0a1.6 1.6 0 1 0 -3.2 0M280.03 408.37a1.6 1.6 0 1 0 3.2 0a1.6 1.6 0 1 0 -3.2 0M280.03 412.07a1.6 1.6 0 1 0 3.2 0a1.6 1.6 0 1 0 -3.2 0M280.03 430.73a1.6 1.6 0 1 0 3.2 0a1.6 1.6 0 1 0 -3.2 0M280.03 429.83a1.6 1.6 0 1 0 3.2 0a1.6 1.6 0 1 0 -3.2 0M280.03 428.92a1.6 1.6 0 1 0 3.2 0a1.6 1.6 0 1 0 -3.2 0M280.03 427.98a1.6 1.6 0 1 0 3.2 0a1.6 1.6 0 1 0 -3.2 0M280.03 426.99a1.6 1.6 0 1 0 3.2 0a1.6 1.6 0 1 0 -3.2 0M280.03 425.93a1.6 1.6 0 1 0 3.2 0a1.6 1.6 0 1 0 -3.2 0M280.03 424.75a1.6 1.6 0 1 0 3.2 0a1.6 1.6 0 1 0 -3.2 0M280.03 423.42a1.6 1.6 0 1 0 3.2 0a1.6 1.6 0 1 0 -3.2 0M280.03 421.88a1.6 1.6 0 1 0 3.2 0a1.6 1.6 0 1 0 -3.2 0M280.03 420.05a1.6 1.6 0 1 0 3.2 0a1.6 1.6 0 1 0 -3.2 0M280.03 540.99a1.6 1.6 0 1 0 3.2 0a1.6 1.6 0 1 0 -3.2 0M280.03 541.89a1.6 1.6 0 1 0 3.2 0a1.6 1.6 0 1 0 -3.2 0M280.03 542.8a1.6 1.6 0 1 0 3.2 0a1.6 1.6 0 1 0 -3.2 0M280.03 543.76a1.6 1.6 0 1 0 3.2 0a1.6 1.6 0 1 0 -3.2 0M280.03 544.79a1.6 1.6 0 1 0 3.2 0a1.6 1.6 0 1 0 -3.2 0M280.03 545.93a1.6 1.6 0 1 0 3.2 0a1.6 1.6 0 1 0 -3.2 0M280.03 547.24a1.6 1.6 0 1 0 3.2 0a1.6 1.6 0 1 0 -3.2 0M280.03 548.81a1.6 1.6 0 1 0 3.2 0a1.6 1.6 0 1 0 -3.2 0M280.03 556.41a1.6 1.6 0 1 0 3.2 0a1.6 1.6 0 1 0 -3.2 0M280.03 559.49a1.6 1.6 0 1 0 3.2 0a1.6 1.6 0 1 0 -3.2 0M280.03 562.57a1.6 1.6 0 1 0 3.2 0a1.6 1.6 0 1 0 -3.2 0M280.03 565.04a1.6 1.6 0 1 0 3.2 0a1.6 1.6 0 1 0 -3.2 0M280.03 569.67a1.6 1.6 0 1 0 3.2 0a1.6 1.6 0 1 0 -3.2 0M280.03 571.52a1.6 1.6 0 1 0 3.2 0a1.6 1.6 0 1 0 -3.2 0M280.03 573.37a1.6 1.6 0 1 0 3.2 0a1.6 1.6 0 1 0 -3.2 0M291.78 387.87a1.6 1.6 0 1 0 3.2 0a1.6 1.6 0 1 0 -3.2 0M291.78 393.73a1.6 1.6 0 1 0 3.2 0a1.6 1.6 0 1 0 -3.2 0M291.78 403.75a1.6 1.6 0 1 0 3.2 0a1.6 1.6 0 1 0 -3.2 0M291.78 408.37a1.6 1.6 0 1 0 3.2 0a1.6 1.6 0 1 0 -3.2 0M291.78 413a1.6 1.6 0 1 0 3.2 0a1.6 1.6 0 1 0 -3.2 0M291.78 416.08a1.6 1.6 0 1 0 3.2 0a1.6 1.6 0 1 0 -3.2 0M291.78 430.73a1.6 1.6 0 1 0 3.2 0a1.6 1.6 0 1 0 -3.2 0M291.78 429.83a1.6 1.6 0 1 0 3.2 0a1.6 1.6 0 1 0 -3.2 0M291.78 428.92a1.6 1.6 0 1 0 3.2 0a1.6 1.6 0 1 0 -3.2 0M291.78 427.98a1.6 1.6 0 1 0 3.2 0a1.6 1.6 0 1 0 -3.2 0M291.78 426.99a1.6 1.6 0 1 0 3.2 0a1.6 1.6 0 1 0 -3.2 0M291.78 425.93a1.6 1.6 0 1 0 3.2 0a1.6 1.6 0 1 0 -3.2 0M291.78 424.75a1.6 1.6 0 1 0 3.2 0a1.6 1.6 0 1 0 -3.2 0M291.78 423.42a1.6 1.6 0 1 0 3.2 0a1.6 1.6 0 1 0 -3.2 0M291.78 421.88a1.6 1.6 0 1 0 3.2 0a1.6 1.6 0 1 0 -3.2 0M291.78 420.05a1.6 1.6 0 1 0 3.2 0a1.6 1.6 0 1 0 -3.2 0M291.78 537.44a1.6 1.6 0 1 0 3.2 0a1.6 1.6 0 1 0 -3.2 0M291.78 540.99a1.6 1.6 0 1 0 3.2 0a1.6 1.6 0 1 0 -3.2 0M291.78 544.07a1.6 1.6 0 1 0 3.2 0a1.6 1.6 0 1 0 -3.2 0M291.78 547.15a1.6 1.6 0 1 0 3.2 0a1.6 1.6 0 1 0 -3.2 0M291.78 549.47a1.6 1.6 0 1 0 3.2 0a1.6 1.6 0 1 0 -3.2 0M291.78 552.24a1.6 1.6 0 1 0 3.2 0a1.6 1.6 0 1 0 -3.2 0M291.78 565.04a1.6 1.6 0 1 0 3.2 0a1.6 1.6 0 1 0 -3.2 0M303.53 428.88a1.6 1.6 0 1 0 3.2 0a1.6 1.6 0 1 0 -3.2 0M303.53 427.98a1.6 1.6 0 1 0 3.2 0a1.6 1.6 0 1 0 -3.2 0M303.53 427.08a1.6 1.6 0 1 0 3.2 0a1.6 1.6 0 1 0 -3.2 0M303.53 426.17a1.6 1.6 0 1 0 3.2 0a1.6 1.6 0 1 0 -3.2 0M303.53 425.24a1.6 1.6 0 1 0 3.2 0a1.6 1.6 0 1 0 -3.2 0M303.53 424.29a1.6 1.6 0 1 0 3.2 0a1.6 1.6 0 1 0 -3.2 0M303.53 423.31a1.6 1.6 0 1 0 3.2 0a1.6 1.6 0 1 0 -3.2 0M303.53 422.3a1.6 1.6 0 1 0 3.2 0a1.6 1.6 0 1 0 -3.2 0M303.53 421.24a1.6 1.6 0 1 0 3.2 0a1.6 1.6 0 1 0 -3.2 0M303.53 420.12a1.6 1.6 0 1 0 3.2 0a1.6 1.6 0 1 0 -3.2 0M303.53 418.94a1.6 1.6 0 1 0 3.2 0a1.6 1.6 0 1 0 -3.2 0M303.53 417.68a1.6 1.6 0 1 0 3.2 0a1.6 1.6 0 1 0 -3.2 0M303.53 416.31a1.6 1.6 0 1 0 3.2 0a1.6 1.6 0 1 0 -3.2 0M303.53 414.83a1.6 1.6 0 1 0 3.2 0a1.6 1.6 0 1 0 -3.2 0M303.53 413.2a1.6 1.6 0 1 0 3.2 0a1.6 1.6 0 1 0 -3.2 0M303.53 411.39a1.6 1.6 0 1 0 3.2 0a1.6 1.6 0 1 0 -3.2 0M303.53 409.36a1.6 1.6 0 1 0 3.2 0a1.6 1.6 0 1 0 -3.2 0M303.53 539.44a1.6 1.6 0 1 0 3.2 0a1.6 1.6 0 1 0 -3.2 0M303.53 540.99a1.6 1.6 0 1 0 3.2 0a1.6 1.6 0 1 0 -3.2 0M303.53 545.61a1.6 1.6 0 1 0 3.2 0a1.6 1.6 0 1 0 -3.2 0M303.53 547.93a1.6 1.6 0 1 0 3.2 0a1.6 1.6 0 1 0 -3.2 0M303.53 550.24a1.6 1.6 0 1 0 3.2 0a1.6 1.6 0 1 0 -3.2 0M303.53 551.78a1.6 1.6 0 1 0 3.2 0a1.6 1.6 0 1 0 -3.2 0M303.53 571.52a1.6 1.6 0 1 0 3.2 0a1.6 1.6 0 1 0 -3.2 0M303.53 574.14a1.6 1.6 0 1 0 3.2 0a1.6 1.6 0 1 0 -3.2 0M303.53 577.07a1.6 1.6 0 1 0 3.2 0a1.6 1.6 0 1 0 -3.2 0M315.28 396.35a1.6 1.6 0 1 0 3.2 0a1.6 1.6 0 1 0 -3.2 0M315.28 400.05a1.6 1.6 0 1 0 3.2 0a1.6 1.6 0 1 0 -3.2 0M315.28 412.07a1.6 1.6 0 1 0 3.2 0a1.6 1.6 0 1 0 -3.2 0M315.28 414.54a1.6 1.6 0 1 0 3.2 0a1.6 1.6 0 1 0 -3.2 0M315.28 416.55a1.6 1.6 0 1 0 3.2 0a1.6 1.6 0 1 0 -3.2 0M315.28 419.17a1.6 1.6 0 1 0 3.2 0a1.6 1.6 0 1 0 -3.2 0M315.28 426.11a1.6 1.6 0 1 0 3.2 0a1.6 1.6 0 1 0 -3.2 0M315.28 428.42a1.6 1.6 0 1 0 3.2 0a1.6 1.6 0 1 0 -3.2 0M315.28 430.42a1.6 1.6 0 1 0 3.2 0a1.6 1.6 0 1 0 -3.2 0M315.28 539.44a1.6 1.6 0 1 0 3.2 0a1.6 1.6 0 1 0 -3.2 0M315.28 541.76a1.6 1.6 0 1 0 3.2 0a1.6 1.6 0 1 0 -3.2 0M315.28 544.07a1.6 1.6 0 1 0 3.2 0a1.6 1.6 0 1 0 -3.2 0M315.28 546.38a1.6 1.6 0 1 0 3.2 0a1.6 1.6 0 1 0 -3.2 0M315.28 548.54a1.6 1.6 0 1 0 3.2 0a1.6 1.6 0 1 0 -3.2 0M315.28 552.24a1.6 1.6 0 1 0 3.2 0a1.6 1.6 0 1 0 -3.2 0M315.28 557.33a1.6 1.6 0 1 0 3.2 0a1.6 1.6 0 1 0 -3.2 0M327.03 384.94a1.6 1.6 0 1 0 3.2 0a1.6 1.6 0 1 0 -3.2 0M327.03 409.45a1.6 1.6 0 1 0 3.2 0a1.6 1.6 0 1 0 -3.2 0M327.03 411.46a1.6 1.6 0 1 0 3.2 0a1.6 1.6 0 1 0 -3.2 0M327.03 413.31a1.6 1.6 0 1 0 3.2 0a1.6 1.6 0 1 0 -3.2 0M327.03 429.04a1.6 1.6 0 1 0 3.2 0a1.6 1.6 0 1 0 -3.2 0M327.03 434.59a1.6 1.6 0 1 0 3.2 0a1.6 1.6 0 1 0 -3.2 0M327.03 436.9a1.6 1.6 0 1 0 3.2 0a1.6 1.6 0 1 0 -3.2 0M327.03 439.52a1.6 1.6 0 1 0 3.2 0a1.6 1.6 0 1 0 -3.2 0M327.03 536.36a1.6 1.6 0 1 0 3.2 0a1.6 1.6 0 1 0 -3.2 0M327.03 541.29a1.6 1.6 0 1 0 3.2 0a1.6 1.6 0 1 0 -3.2 0M327.03 547.93a1.6 1.6 0 1 0 3.2 0a1.6 1.6 0 1 0 -3.2 0M338.78 414.54a1.6 1.6 0 1 0 3.2 0a1.6 1.6 0 1 0 -3.2 0M338.78 420.71a1.6 1.6 0 1 0 3.2 0a1.6 1.6 0 1 0 -3.2 0M338.78 422.56a1.6 1.6 0 1 0 3.2 0a1.6 1.6 0 1 0 -3.2 0M338.78 424.57a1.6 1.6 0 1 0 3.2 0a1.6 1.6 0 1 0 -3.2 0M338.78 429.5a1.6 1.6 0 1 0 3.2 0a1.6 1.6 0 1 0 -3.2 0M338.78 431.97a1.6 1.6 0 1 0 3.2 0a1.6 1.6 0 1 0 -3.2 0M350.53 415.31a1.6 1.6 0 1 0 3.2 0a1.6 1.6 0 1 0 -3.2 0M350.53 427.03a1.6 1.6 0 1 0 3.2 0a1.6 1.6 0 1 0 -3.2 0M350.53 437.06a1.6 1.6 0 1 0 3.2 0a1.6 1.6 0 1 0 -3.2 0M350.53 438.91a1.6 1.6 0 1 0 3.2 0a1.6 1.6 0 1 0 -3.2 0M350.53 440.76a1.6 1.6 0 1 0 3.2 0a1.6 1.6 0 1 0 -3.2 0M350.53 446.92a1.6 1.6 0 1 0 3.2 0a1.6 1.6 0 1 0 -3.2 0M350.53 534.97a1.6 1.6 0 1 0 3.2 0a1.6 1.6 0 1 0 -3.2 0M374.04 465.74a1.6 1.6 0 1 0 3.2 0a1.6 1.6 0 1 0 -3.2 0M374.04 514.46a1.6 1.6 0 1 0 3.2 0a1.6 1.6 0 1 0 -3.2 0M374.04 516.93a1.6 1.6 0 1 0 3.2 0a1.6 1.6 0 1 0 -3.2 0" fill="none" stroke="#000" stroke-width="0.9"/>
<path d="M37.65 613.48H431.49M37.65 582.66H431.49M37.65 551.84H431.49M37.65 521.02H431.49M37.65 505.61H431.49M37.65 490.2H431.49M37.65 474.79H431.49M37.65 459.38H431.49M37.65 428.56H431.49M37.65 397.74H431.49M37.65 366.92H431.49" stroke="#e25050" stroke-width="1.1" stroke-dasharray="1.8 1.66" fill="none"/>
<rect x="37.95" y="356.9" width="393.54" height="266.4" fill="none" stroke="#5a5a5a" stroke-width="1.15"/>
<path d="M58.36 623.3v4.5M70.11 623.3v4.5M81.86 623.3v4.5M93.61 623.3v4.5M105.36 623.3v4.5M117.11 623.3v4.5M128.87 623.3v4.5M140.62 623.3v4.5M152.37 623.3v4.5M164.12 623.3v4.5M175.87 623.3v4.5M187.62 623.3v4.5M199.37 623.3v4.5M211.12 623.3v4.5M222.87 623.3v4.5M234.62 623.3v4.5M246.38 623.3v4.5M258.13 623.3v4.5M269.88 623.3v4.5M281.63 623.3v4.5M293.38 623.3v4.5M305.13 623.3v4.5M316.88 623.3v4.5M328.63 623.3v4.5M340.38 623.3v4.5M352.13 623.3v4.5M363.89 623.3v4.5M375.64 623.3v4.5M387.39 623.3v4.5M399.14 623.3v4.5M410.89 623.3v4.5M37.95 567.25h-4.5M37.95 490.2h-4.5M37.95 413.15h-4.5" stroke="#555" stroke-width="1" fill="none"/>
<g font-size="12" text-anchor="middle">
<text x="58.36" y="639.1">−2.6</text>
<text x="93.61" y="639.1">−2</text>
<text x="128.87" y="639.1">−1.4</text>
<text x="164.12" y="639.1">−0.8</text>
<text x="199.37" y="639.1">−0.2</text>
<text x="234.62" y="639.1">0.4</text>
<text x="269.88" y="639.1">1</text>
<text x="293.38" y="639.1">1.4</text>
<text x="328.63" y="639.1">2</text>
<text x="352.13" y="639.1">2.4</text>
<text x="387.39" y="639.1">3</text>
<text x="410.89" y="639.1">3.6</text>
<text transform="translate(29.5 567.25) rotate(-90)">−5</text>
<text transform="translate(29.5 490.2) rotate(-90)">0</text>
<text transform="translate(29.5 413.15) rotate(-90)">5</text>
<text x="234.72" y="654.7" font-size="12.2">standardized dbh</text>
<text transform="translate(13.2 490.2) rotate(-90)">Residuals (response) [m]</text>
</g>
<text x="234.72" y="347" font-size="17.5" font-weight="bold" text-anchor="middle">Scots pine</text>
</g>
<g>
<path d="M68.95 814.16V805.73M68.95 830.87V834.85M79.31 815.08V793M79.31 831.48V854.17M89.66 817.84V795.46M89.66 833.01V856.01M100.02 817.84V791.62M100.02 835.16V861.07M110.38 816.92V789.17M110.38 833.32V859.84M120.74 816.31V791.01M120.74 832.56V858M131.1 816.15V789.17M131.1 833.01V859.84M141.45 816.31V791.01M141.45 832.25V856.93M151.81 816.92V791.01M151.81 833.01V858M162.17 816.15V791.01M162.17 833.01V858M172.53 815.85V788.25M172.53 833.01V860.76M182.89 816.31V789.17M182.89 833.01V859.84M193.24 816.31V789.17M193.24 833.32V859.84M203.6 815.39V787.33M203.6 833.32V860.76M213.96 815.85V787.33M213.96 834.55V861.53M224.32 814.93V785.49M224.32 833.78V863.52M234.68 814.93V783.65M234.68 833.78V864.44M245.03 815.39V784.57M245.03 834.85V864.9M255.39 814.93V785.49M255.39 833.01V859.84M265.75 816.92V786.41M265.75 835.16V865.36M276.11 816.15V784.57M276.11 834.55V865.36M286.47 816.31V792.39M286.47 833.01V859.69M296.82 818.76V792.39M296.82 836.69V861.38M307.18 818.76V793M307.18 834.55V854.94M317.54 816.31V793.62M317.54 837V867.51M327.9 817.84V793M327.9 835.16V860.15M338.26 822.9V804.5M338.26 838.69V857.85M348.61 821.82V820.14M348.61 833.01V848.35M358.97 819.52V797.76M358.97 839.15V852.64" stroke="#222" stroke-width="1" stroke-dasharray="1.6 1.8" fill="none"/>
<path d="M66.88 805.73H71.02M66.88 834.85H71.02M77.23 793H81.38M77.23 854.17H81.38M87.59 795.46H91.74M87.59 856.01H91.74M97.95 791.62H102.09M97.95 861.07H102.09M108.31 789.17H112.45M108.31 859.84H112.45M118.67 791.01H122.81M118.67 858H122.81M129.02 789.17H133.17M129.02 859.84H133.17M139.38 791.01H143.53M139.38 856.93H143.53M149.74 791.01H153.88M149.74 858H153.88M160.1 791.01H164.24M160.1 858H164.24M170.46 788.25H174.6M170.46 860.76H174.6M180.81 789.17H184.96M180.81 859.84H184.96M191.17 789.17H195.32M191.17 859.84H195.32M201.53 787.33H205.67M201.53 860.76H205.67M211.89 787.33H216.03M211.89 861.53H216.03M222.25 785.49H226.39M222.25 863.52H226.39M232.6 783.65H236.75M232.6 864.44H236.75M242.96 784.57H247.11M242.96 864.9H247.11M253.32 785.49H257.46M253.32 859.84H257.46M263.68 786.41H267.82M263.68 865.36H267.82M274.04 784.57H278.18M274.04 865.36H278.18M284.39 792.39H288.54M284.39 859.69H288.54M294.75 792.39H298.9M294.75 861.38H298.9M305.11 793H309.25M305.11 854.94H309.25M315.47 793.62H319.61M315.47 867.51H319.61M325.83 793H329.97M325.83 860.15H329.97M336.18 804.5H340.33M336.18 857.85H340.33M346.54 820.14H350.69M346.54 848.35H350.69M356.9 797.76H361.04M356.9 852.64H361.04M367.26 818.91H371.4M367.26 824.12H371.4M377.62 827.34H381.76M377.62 833.01H381.76" stroke="#222" stroke-width="0.9" fill="none"/>
<g fill="#fff" stroke="#333" stroke-width="0.9"><rect x="54.45" y="840.07" width="8.29" height="5.21"/><rect x="64.8" y="814.16" width="8.29" height="16.71"/><rect x="75.16" y="815.08" width="8.29" height="16.4"/><rect x="85.52" y="817.84" width="8.29" height="15.18"/><rect x="95.88" y="817.84" width="8.29" height="17.32"/><rect x="106.24" y="816.92" width="8.29" height="16.4"/><rect x="116.59" y="816.31" width="8.29" height="16.25"/><rect x="126.95" y="816.15" width="8.29" height="16.86"/><rect x="137.31" y="816.31" width="8.29" height="15.94"/><rect x="147.67" y="816.92" width="8.29" height="16.1"/><rect x="158.03" y="816.15" width="8.29" height="16.86"/><rect x="168.38" y="815.85" width="8.29" height="17.17"/><rect x="178.74" y="816.31" width="8.29" height="16.71"/><rect x="189.1" y="816.31" width="8.29" height="17.02"/><rect x="199.46" y="815.39" width="8.29" height="17.94"/><rect x="209.82" y="815.85" width="8.29" height="18.7"/><rect x="220.17" y="814.93" width="8.29" height="18.86"/><rect x="230.53" y="814.93" width="8.29" height="18.86"/><rect x="240.89" y="815.39" width="8.29" height="19.47"/><rect x="251.25" y="814.93" width="8.29" height="18.09"/><rect x="261.61" y="816.92" width="8.29" height="18.24"/><rect x="271.96" y="816.15" width="8.29" height="18.4"/><rect x="282.32" y="816.31" width="8.29" height="16.71"/><rect x="292.68" y="818.76" width="8.29" height="17.94"/><rect x="303.04" y="818.76" width="8.29" height="15.79"/><rect x="313.4" y="816.31" width="8.29" height="20.7"/><rect x="323.75" y="817.84" width="8.29" height="17.32"/><rect x="334.11" y="822.9" width="8.29" height="15.79"/><rect x="344.47" y="821.82" width="8.29" height="11.19"/><rect x="354.83" y="819.52" width="8.29" height="19.62"/><rect x="365.19" y="818.91" width="8.29" height="5.21"/><rect x="375.54" y="827.34" width="8.29" height="5.67"/></g>
<g stroke="#000" stroke-width="1.6"><line x1="54.45" y1="842.67" x2="62.73" y2="842.67"/><line x1="64.8" y1="828.42" x2="73.09" y2="828.42"/><line x1="75.16" y1="827.19" x2="83.45" y2="827.19"/><line x1="85.52" y1="824.74" x2="93.81" y2="824.74"/><line x1="95.88" y1="825.35" x2="104.17" y2="825.35"/><line x1="106.24" y1="824.74" x2="114.52" y2="824.74"/><line x1="116.59" y1="824.28" x2="124.88" y2="824.28"/><line x1="126.95" y1="824.58" x2="135.24" y2="824.58"/><line x1="137.31" y1="823.36" x2="145.6" y2="823.36"/><line x1="147.67" y1="824.58" x2="155.96" y2="824.58"/><line x1="158.03" y1="824.58" x2="166.31" y2="824.58"/><line x1="168.38" y1="824.58" x2="176.67" y2="824.58"/><line x1="178.74" y1="824.58" x2="187.03" y2="824.58"/><line x1="189.1" y1="824.58" x2="197.39" y2="824.58"/><line x1="199.46" y1="824.28" x2="207.75" y2="824.28"/><line x1="209.82" y1="824.58" x2="218.1" y2="824.58"/><line x1="220.17" y1="824.28" x2="228.46" y2="824.28"/><line x1="230.53" y1="824.28" x2="238.82" y2="824.28"/><line x1="240.89" y1="824.28" x2="249.18" y2="824.28"/><line x1="251.25" y1="823.66" x2="259.54" y2="823.66"/><line x1="261.61" y1="825.35" x2="269.89" y2="825.35"/><line x1="271.96" y1="825.35" x2="280.25" y2="825.35"/><line x1="282.32" y1="824.58" x2="290.61" y2="824.58"/><line x1="292.68" y1="826.12" x2="300.97" y2="826.12"/><line x1="303.04" y1="828.42" x2="311.33" y2="828.42"/><line x1="313.4" y1="827.04" x2="321.68" y2="827.04"/><line x1="323.75" y1="823.82" x2="332.04" y2="823.82"/><line x1="334.11" y1="830.1" x2="342.4" y2="830.1"/><line x1="344.47" y1="825.66" x2="352.76" y2="825.66"/><line x1="354.83" y1="826.73" x2="363.12" y2="826.73"/><line x1="365.19" y1="820.75" x2="373.47" y2="820.75"/><line x1="375.54" y1="830.87" x2="383.83" y2="830.87"/><line x1="385.9" y1="817.99" x2="394.19" y2="817.99"/><line x1="396.26" y1="803.27" x2="404.55" y2="803.27"/><line x1="406.62" y1="797.76" x2="414.91" y2="797.76"/></g>
<path d="M77.71 782.89a1.6 1.6 0 1 0 3.2 0a1.6 1.6 0 1 0 -3.2 0M77.71 787.94a1.6 1.6 0 1 0 3.2 0a1.6 1.6 0 1 0 -3.2 0M77.71 864.59a1.6 1.6 0 1 0 3.2 0a1.6 1.6 0 1 0 -3.2 0M77.71 890.81a1.6 1.6 0 1 0 3.2 0a1.6 1.6 0 1 0 -3.2 0M88.06 763.57a1.6 1.6 0 1 0 3.2 0a1.6 1.6 0 1 0 -3.2 0M88.06 777.06a1.6 1.6 0 1 0 3.2 0a1.6 1.6 0 1 0 -3.2 0M88.06 782.89a1.6 1.6 0 1 0 3.2 0a1.6 1.6 0 1 0 -3.2 0M88.06 784.73a1.6 1.6 0 1 0 3.2 0a1.6 1.6 0 1 0 -3.2 0M88.06 789.32a1.6 1.6 0 1 0 3.2 0a1.6 1.6 0 1 0 -3.2 0M88.06 791.62a1.6 1.6 0 1 0 3.2 0a1.6 1.6 0 1 0 -3.2 0M88.06 861.38a1.6 1.6 0 1 0 3.2 0a1.6 1.6 0 1 0 -3.2 0M88.06 868.73a1.6 1.6 0 1 0 3.2 0a1.6 1.6 0 1 0 -3.2 0M88.06 870.57a1.6 1.6 0 1 0 3.2 0a1.6 1.6 0 1 0 -3.2 0M88.06 888.05a1.6 1.6 0 1 0 3.2 0a1.6 1.6 0 1 0 -3.2 0M88.06 905.99a1.6 1.6 0 1 0 3.2 0a1.6 1.6 0 1 0 -3.2 0M98.42 772.77a1.6 1.6 0 1 0 3.2 0a1.6 1.6 0 1 0 -3.2 0M98.42 777.37a1.6 1.6 0 1 0 3.2 0a1.6 1.6 0 1 0 -3.2 0M98.42 781.05a1.6 1.6 0 1 0 3.2 0a1.6 1.6 0 1 0 -3.2 0M98.42 783.96a1.6 1.6 0 1 0 3.2 0a1.6 1.6 0 1 0 -3.2 0M98.42 786.26a1.6 1.6 0 1 0 3.2 0a1.6 1.6 0 1 0 -3.2 0M98.42 788.56a1.6 1.6 0 1 0 3.2 0a1.6 1.6 0 1 0 -3.2 0M98.42 864.29a1.6 1.6 0 1 0 3.2 0a1.6 1.6 0 1 0 -3.2 0M98.42 866.74a1.6 1.6 0 1 0 3.2 0a1.6 1.6 0 1 0 -3.2 0M98.42 869.65a1.6 1.6 0 1 0 3.2 0a1.6 1.6 0 1 0 -3.2 0M108.78 698.88a1.6 1.6 0 1 0 3.2 0a1.6 1.6 0 1 0 -3.2 0M108.78 744.1a1.6 1.6 0 1 0 3.2 0a1.6 1.6 0 1 0 -3.2 0M108.78 772.77a1.6 1.6 0 1 0 3.2 0a1.6 1.6 0 1 0 -3.2 0M108.78 777.37a1.6 1.6 0 1 0 3.2 0a1.6 1.6 0 1 0 -3.2 0M108.78 788.71a1.6 1.6 0 1 0 3.2 0a1.6 1.6 0 1 0 -3.2 0M108.78 788.01a1.6 1.6 0 1 0 3.2 0a1.6 1.6 0 1 0 -3.2 0M108.78 787.28a1.6 1.6 0 1 0 3.2 0a1.6 1.6 0 1 0 -3.2 0M108.78 786.46a1.6 1.6 0 1 0 3.2 0a1.6 1.6 0 1 0 -3.2 0M108.78 785.46a1.6 1.6 0 1 0 3.2 0a1.6 1.6 0 1 0 -3.2 0M108.78 784.14a1.6 1.6 0 1 0 3.2 0a1.6 1.6 0 1 0 -3.2 0M108.78 860.3a1.6 1.6 0 1 0 3.2 0a1.6 1.6 0 1 0 -3.2 0M108.78 861a1.6 1.6 0 1 0 3.2 0a1.6 1.6 0 1 0 -3.2 0M108.78 861.72a1.6 1.6 0 1 0 3.2 0a1.6 1.6 0 1 0 -3.2 0M108.78 862.49a1.6 1.6 0 1 0 3.2 0a1.6 1.6 0 1 0 -3.2 0M108.78 863.35a1.6 1.6 0 1 0 3.2 0a1.6 1.6 0 1 0 -3.2 0M108.78 864.36a1.6 1.6 0 1 0 3.2 0a1.6 1.6 0 1 0 -3.2 0M108.78 865.61a1.6 1.6 0 1 0 3.2 0a1.6 1.6 0 1 0 -3.2 0M108.78 875.17a1.6 1.6 0 1 0 3.2 0a1.6 1.6 0 1 0 -3.2 0M108.78 877.01a1.6 1.6 0 1 0 3.2 0a1.6 1.6 0 1 0 -3.2 0M108.78 882.53a1.6 1.6 0 1 0 3.2 0a1.6 1.6 0 1 0 -3.2 0M108.78 885.14a1.6 1.6 0 1 0 3.2 0a1.6 1.6 0 1 0 -3.2 0M108.78 888.05a1.6 1.6 0 1 0 3.2 0a1.6 1.6 0 1 0 -3.2 0M108.78 899.09a1.6 1.6 0 1 0 3.2 0a1.6 1.6 0 1 0 -3.2 0M119.14 731.53a1.6 1.6 0 1 0 3.2 0a1.6 1.6 0 1 0 -3.2 0M119.14 742.57a1.6 1.6 0 1 0 3.2 0a1.6 1.6 0 1 0 -3.2 0M119.14 753.61a1.6 1.6 0 1 0 3.2 0a1.6 1.6 0 1 0 -3.2 0M119.14 756.37a1.6 1.6 0 1 0 3.2 0a1.6 1.6 0 1 0 -3.2 0M119.14 762.65a1.6 1.6 0 1 0 3.2 0a1.6 1.6 0 1 0 -3.2 0M119.14 766.33a1.6 1.6 0 1 0 3.2 0a1.6 1.6 0 1 0 -3.2 0M119.14 770.16a1.6 1.6 0 1 0 3.2 0a1.6 1.6 0 1 0 -3.2 0M119.14 773.69a1.6 1.6 0 1 0 3.2 0a1.6 1.6 0 1 0 -3.2 0M119.14 790.55a1.6 1.6 0 1 0 3.2 0a1.6 1.6 0 1 0 -3.2 0M119.14 789.85a1.6 1.6 0 1 0 3.2 0a1.6 1.6 0 1 0 -3.2 0M119.14 789.15a1.6 1.6 0 1 0 3.2 0a1.6 1.6 0 1 0 -3.2 0M119.14 788.43a1.6 1.6 0 1 0 3.2 0a1.6 1.6 0 1 0 -3.2 0M119.14 787.69a1.6 1.6 0 1 0 3.2 0a1.6 1.6 0 1 0 -3.2 0M119.14 786.92a1.6 1.6 0 1 0 3.2 0a1.6 1.6 0 1 0 -3.2 0M119.14 786.1a1.6 1.6 0 1 0 3.2 0a1.6 1.6 0 1 0 -3.2 0M119.14 785.23a1.6 1.6 0 1 0 3.2 0a1.6 1.6 0 1 0 -3.2 0M119.14 784.28a1.6 1.6 0 1 0 3.2 0a1.6 1.6 0 1 0 -3.2 0M119.14 783.23a1.6 1.6 0 1 0 3.2 0a1.6 1.6 0 1 0 -3.2 0M119.14 782.06a1.6 1.6 0 1 0 3.2 0a1.6 1.6 0 1 0 -3.2 0M119.14 780.73a1.6 1.6 0 1 0 3.2 0a1.6 1.6 0 1 0 -3.2 0M119.14 779.18a1.6 1.6 0 1 0 3.2 0a1.6 1.6 0 1 0 -3.2 0M119.14 777.34a1.6 1.6 0 1 0 3.2 0a1.6 1.6 0 1 0 -3.2 0M119.14 858.46a1.6 1.6 0 1 0 3.2 0a1.6 1.6 0 1 0 -3.2 0M119.14 859.16a1.6 1.6 0 1 0 3.2 0a1.6 1.6 0 1 0 -3.2 0M119.14 859.86a1.6 1.6 0 1 0 3.2 0a1.6 1.6 0 1 0 -3.2 0M119.14 860.57a1.6 1.6 0 1 0 3.2 0a1.6 1.6 0 1 0 -3.2 0M119.14 861.29a1.6 1.6 0 1 0 3.2 0a1.6 1.6 0 1 0 -3.2 0M119.14 862.02a1.6 1.6 0 1 0 3.2 0a1.6 1.6 0 1 0 -3.2 0M119.14 862.77a1.6 1.6 0 1 0 3.2 0a1.6 1.6 0 1 0 -3.2 0M119.14 863.53a1.6 1.6 0 1 0 3.2 0a1.6 1.6 0 1 0 -3.2 0M119.14 864.33a1.6 1.6 0 1 0 3.2 0a1.6 1.6 0 1 0 -3.2 0M119.14 865.16a1.6 1.6 0 1 0 3.2 0a1.6 1.6 0 1 0 -3.2 0M119.14 866.03a1.6 1.6 0 1 0 3.2 0a1.6 1.6 0 1 0 -3.2 0M119.14 866.94a1.6 1.6 0 1 0 3.2 0a1.6 1.6 0 1 0 -3.2 0M119.14 867.91a1.6 1.6 0 1 0 3.2 0a1.6 1.6 0 1 0 -3.2 0M119.14 868.94a1.6 1.6 0 1 0 3.2 0a1.6 1.6 0 1 0 -3.2 0M119.14 870.05a1.6 1.6 0 1 0 3.2 0a1.6 1.6 0 1 0 -3.2 0M119.14 871.25a1.6 1.6 0 1 0 3.2 0a1.6 1.6 0 1 0 -3.2 0M119.14 872.57a1.6 1.6 0 1 0 3.2 0a1.6 1.6 0 1 0 -3.2 0M119.14 874.01a1.6 1.6 0 1 0 3.2 0a1.6 1.6 0 1 0 -3.2 0M119.14 875.61a1.6 1.6 0 1 0 3.2 0a1.6 1.6 0 1 0 -3.2 0M119.14 877.41a1.6 1.6 0 1 0 3.2 0a1.6 1.6 0 1 0 -3.2 0M119.14 884.37a1.6 1.6 0 1 0 3.2 0a1.6 1.6 0 1 0 -3.2 0M119.14 888.2a1.6 1.6 0 1 0 3.2 0a1.6 1.6 0 1 0 -3.2 0M119.14 892.04a1.6 1.6 0 1 0 3.2 0a1.6 1.6 0 1 0 -3.2 0M119.14 895.41a1.6 1.6 0 1 0 3.2 0a1.6 1.6 0 1 0 -3.2 0M119.14 903.23a1.6 1.6 0 1 0 3.2 0a1.6 1.6 0 1 0 -3.2 0M119.14 910.12a1.6 1.6 0 1 0 3.2 0a1.6 1.6 0 1 0 -3.2 0M129.5 693.05a1.6 1.6 0 1 0 3.2 0a1.6 1.6 0 1 0 -3.2 0M129.5 763.57a1.6 1.6 0 1 0 3.2 0a1.6 1.6 0 1 0 -3.2 0M129.5 766.33a1.6 1.6 0 1 0 3.2 0a1.6 1.6 0 1 0 -3.2 0M129.5 788.71a1.6 1.6 0 1 0 3.2 0a1.6 1.6 0 1 0 -3.2 0M129.5 788.01a1.6 1.6 0 1 0 3.2 0a1.6 1.6 0 1 0 -3.2 0M129.5 787.31a1.6 1.6 0 1 0 3.2 0a1.6 1.6 0 1 0 -3.2 0M129.5 786.59a1.6 1.6 0 1 0 3.2 0a1.6 1.6 0 1 0 -3.2 0M129.5 785.86a1.6 1.6 0 1 0 3.2 0a1.6 1.6 0 1 0 -3.2 0M129.5 785.11a1.6 1.6 0 1 0 3.2 0a1.6 1.6 0 1 0 -3.2 0M129.5 784.32a1.6 1.6 0 1 0 3.2 0a1.6 1.6 0 1 0 -3.2 0M129.5 783.49a1.6 1.6 0 1 0 3.2 0a1.6 1.6 0 1 0 -3.2 0M129.5 782.6a1.6 1.6 0 1 0 3.2 0a1.6 1.6 0 1 0 -3.2 0M129.5 781.65a1.6 1.6 0 1 0 3.2 0a1.6 1.6 0 1 0 -3.2 0M129.5 780.61a1.6 1.6 0 1 0 3.2 0a1.6 1.6 0 1 0 -3.2 0M129.5 779.46a1.6 1.6 0 1 0 3.2 0a1.6 1.6 0 1 0 -3.2 0M129.5 778.18a1.6 1.6 0 1 0 3.2 0a1.6 1.6 0 1 0 -3.2 0M129.5 776.73a1.6 1.6 0 1 0 3.2 0a1.6 1.6 0 1 0 -3.2 0M129.5 775.05a1.6 1.6 0 1 0 3.2 0a1.6 1.6 0 1 0 -3.2 0M129.5 860.3a1.6 1.6 0 1 0 3.2 0a1.6 1.6 0 1 0 -3.2 0M129.5 861a1.6 1.6 0 1 0 3.2 0a1.6 1.6 0 1 0 -3.2 0M129.5 861.7a1.6 1.6 0 1 0 3.2 0a1.6 1.6 0 1 0 -3.2 0M129.5 862.41a1.6 1.6 0 1 0 3.2 0a1.6 1.6 0 1 0 -3.2 0M129.5 863.12a1.6 1.6 0 1 0 3.2 0a1.6 1.6 0 1 0 -3.2 0M129.5 863.84a1.6 1.6 0 1 0 3.2 0a1.6 1.6 0 1 0 -3.2 0M129.5 864.58a1.6 1.6 0 1 0 3.2 0a1.6 1.6 0 1 0 -3.2 0M129.5 865.33a1.6 1.6 0 1 0 3.2 0a1.6 1.6 0 1 0 -3.2 0M129.5 866.09a1.6 1.6 0 1 0 3.2 0a1.6 1.6 0 1 0 -3.2 0M129.5 866.88a1.6 1.6 0 1 0 3.2 0a1.6 1.6 0 1 0 -3.2 0M129.5 867.7a1.6 1.6 0 1 0 3.2 0a1.6 1.6 0 1 0 -3.2 0M129.5 868.55a1.6 1.6 0 1 0 3.2 0a1.6 1.6 0 1 0 -3.2 0M129.5 869.43a1.6 1.6 0 1 0 3.2 0a1.6 1.6 0 1 0 -3.2 0M129.5 870.36a1.6 1.6 0 1 0 3.2 0a1.6 1.6 0 1 0 -3.2 0M129.5 871.33a1.6 1.6 0 1 0 3.2 0a1.6 1.6 0 1 0 -3.2 0M129.5 872.35a1.6 1.6 0 1 0 3.2 0a1.6 1.6 0 1 0 -3.2 0M129.5 873.45a1.6 1.6 0 1 0 3.2 0a1.6 1.6 0 1 0 -3.2 0M129.5 874.61a1.6 1.6 0 1 0 3.2 0a1.6 1.6 0 1 0 -3.2 0M129.5 875.86a1.6 1.6 0 1 0 3.2 0a1.6 1.6 0 1 0 -3.2 0M129.5 877.21a1.6 1.6 0 1 0 3.2 0a1.6 1.6 0 1 0 -3.2 0M129.5 878.68a1.6 1.6 0 1 0 3.2 0a1.6 1.6 0 1 0 -3.2 0M129.5 880.29a1.6 1.6 0 1 0 3.2 0a1.6 1.6 0 1 0 -3.2 0M129.5 882.07a1.6 1.6 0 1 0 3.2 0a1.6 1.6 0 1 0 -3.2 0M129.5 884.05a1.6 1.6 0 1 0 3.2 0a1.6 1.6 0 1 0 -3.2 0M129.5 893.57a1.6 1.6 0 1 0 3.2 0a1.6 1.6 0 1 0 -3.2 0M129.5 896.33a1.6 1.6 0 1 0 3.2 0a1.6 1.6 0 1 0 -3.2 0M129.5 905.83a1.6 1.6 0 1 0 3.2 0a1.6 1.6 0 1 0 -3.2 0M129.5 924.23a1.6 1.6 0 1 0 3.2 0a1.6 1.6 0 1 0 -3.2 0M139.85 731.22a1.6 1.6 0 1 0 3.2 0a1.6 1.6 0 1 0 -3.2 0M139.85 744.87a1.6 1.6 0 1 0 3.2 0a1.6 1.6 0 1 0 -3.2 0M139.85 763.57a1.6 1.6 0 1 0 3.2 0a1.6 1.6 0 1 0 -3.2 0M139.85 790.55a1.6 1.6 0 1 0 3.2 0a1.6 1.6 0 1 0 -3.2 0M139.85 789.85a1.6 1.6 0 1 0 3.2 0a1.6 1.6 0 1 0 -3.2 0M139.85 789.15a1.6 1.6 0 1 0 3.2 0a1.6 1.6 0 1 0 -3.2 0M139.85 788.44a1.6 1.6 0 1 0 3.2 0a1.6 1.6 0 1 0 -3.2 0M139.85 787.73a1.6 1.6 0 1 0 3.2 0a1.6 1.6 0 1 0 -3.2 0M139.85 787a1.6 1.6 0 1 0 3.2 0a1.6 1.6 0 1 0 -3.2 0M139.85 786.27a1.6 1.6 0 1 0 3.2 0a1.6 1.6 0 1 0 -3.2 0M139.85 785.51a1.6 1.6 0 1 0 3.2 0a1.6 1.6 0 1 0 -3.2 0M139.85 784.73a1.6 1.6 0 1 0 3.2 0a1.6 1.6 0 1 0 -3.2 0M139.85 783.92a1.6 1.6 0 1 0 3.2 0a1.6 1.6 0 1 0 -3.2 0M139.85 783.09a1.6 1.6 0 1 0 3.2 0a1.6 1.6 0 1 0 -3.2 0M139.85 782.21a1.6 1.6 0 1 0 3.2 0a1.6 1.6 0 1 0 -3.2 0M139.85 781.3a1.6 1.6 0 1 0 3.2 0a1.6 1.6 0 1 0 -3.2 0M139.85 780.33a1.6 1.6 0 1 0 3.2 0a1.6 1.6 0 1 0 -3.2 0M139.85 779.31a1.6 1.6 0 1 0 3.2 0a1.6 1.6 0 1 0 -3.2 0M139.85 778.22a1.6 1.6 0 1 0 3.2 0a1.6 1.6 0 1 0 -3.2 0M139.85 777.04a1.6 1.6 0 1 0 3.2 0a1.6 1.6 0 1 0 -3.2 0M139.85 775.77a1.6 1.6 0 1 0 3.2 0a1.6 1.6 0 1 0 -3.2 0M139.85 774.4a1.6 1.6 0 1 0 3.2 0a1.6 1.6 0 1 0 -3.2 0M139.85 772.89a1.6 1.6 0 1 0 3.2 0a1.6 1.6 0 1 0 -3.2 0M139.85 771.22a1.6 1.6 0 1 0 3.2 0a1.6 1.6 0 1 0 -3.2 0M139.85 769.35a1.6 1.6 0 1 0 3.2 0a1.6 1.6 0 1 0 -3.2 0M139.85 857.39a1.6 1.6 0 1 0 3.2 0a1.6 1.6 0 1 0 -3.2 0M139.85 858.09a1.6 1.6 0 1 0 3.2 0a1.6 1.6 0 1 0 -3.2 0M139.85 858.79a1.6 1.6 0 1 0 3.2 0a1.6 1.6 0 1 0 -3.2 0M139.85 859.5a1.6 1.6 0 1 0 3.2 0a1.6 1.6 0 1 0 -3.2 0M139.85 860.21a1.6 1.6 0 1 0 3.2 0a1.6 1.6 0 1 0 -3.2 0M139.85 860.93a1.6 1.6 0 1 0 3.2 0a1.6 1.6 0 1 0 -3.2 0M139.85 861.67a1.6 1.6 0 1 0 3.2 0a1.6 1.6 0 1 0 -3.2 0M139.85 862.42a1.6 1.6 0 1 0 3.2 0a1.6 1.6 0 1 0 -3.2 0M139.85 863.19a1.6 1.6 0 1 0 3.2 0a1.6 1.6 0 1 0 -3.2 0M139.85 863.99a1.6 1.6 0 1 0 3.2 0a1.6 1.6 0 1 0 -3.2 0M139.85 864.82a1.6 1.6 0 1 0 3.2 0a1.6 1.6 0 1 0 -3.2 0M139.85 865.67a1.6 1.6 0 1 0 3.2 0a1.6 1.6 0 1 0 -3.2 0M139.85 866.57a1.6 1.6 0 1 0 3.2 0a1.6 1.6 0 1 0 -3.2 0M139.85 867.51a1.6 1.6 0 1 0 3.2 0a1.6 1.6 0 1 0 -3.2 0M139.85 868.51a1.6 1.6 0 1 0 3.2 0a1.6 1.6 0 1 0 -3.2 0M139.85 869.56a1.6 1.6 0 1 0 3.2 0a1.6 1.6 0 1 0 -3.2 0M139.85 870.69a1.6 1.6 0 1 0 3.2 0a1.6 1.6 0 1 0 -3.2 0M139.85 871.89a1.6 1.6 0 1 0 3.2 0a1.6 1.6 0 1 0 -3.2 0M139.85 873.2a1.6 1.6 0 1 0 3.2 0a1.6 1.6 0 1 0 -3.2 0M139.85 874.62a1.6 1.6 0 1 0 3.2 0a1.6 1.6 0 1 0 -3.2 0M139.85 876.17a1.6 1.6 0 1 0 3.2 0a1.6 1.6 0 1 0 -3.2 0M139.85 877.88a1.6 1.6 0 1 0 3.2 0a1.6 1.6 0 1 0 -3.2 0M139.85 879.79a1.6 1.6 0 1 0 3.2 0a1.6 1.6 0 1 0 -3.2 0M139.85 889.89a1.6 1.6 0 1 0 3.2 0a1.6 1.6 0 1 0 -3.2 0M139.85 892.8a1.6 1.6 0 1 0 3.2 0a1.6 1.6 0 1 0 -3.2 0M139.85 895.87a1.6 1.6 0 1 0 3.2 0a1.6 1.6 0 1 0 -3.2 0M139.85 898.93a1.6 1.6 0 1 0 3.2 0a1.6 1.6 0 1 0 -3.2 0M139.85 902.77a1.6 1.6 0 1 0 3.2 0a1.6 1.6 0 1 0 -3.2 0M139.85 907.37a1.6 1.6 0 1 0 3.2 0a1.6 1.6 0 1 0 -3.2 0M139.85 908.9a1.6 1.6 0 1 0 3.2 0a1.6 1.6 0 1 0 -3.2 0M139.85 917.02a1.6 1.6 0 1 0 3.2 0a1.6 1.6 0 1 0 -3.2 0M150.21 731.22a1.6 1.6 0 1 0 3.2 0a1.6 1.6 0 1 0 -3.2 0M150.21 737.97a1.6 1.6 0 1 0 3.2 0a1.6 1.6 0 1 0 -3.2 0M150.21 747.17a1.6 1.6 0 1 0 3.2 0a1.6 1.6 0 1 0 -3.2 0M150.21 749.47a1.6 1.6 0 1 0 3.2 0a1.6 1.6 0 1 0 -3.2 0M150.21 751.77a1.6 1.6 0 1 0 3.2 0a1.6 1.6 0 1 0 -3.2 0M150.21 790.55a1.6 1.6 0 1 0 3.2 0a1.6 1.6 0 1 0 -3.2 0M150.21 789.85a1.6 1.6 0 1 0 3.2 0a1.6 1.6 0 1 0 -3.2 0M150.21 789.15a1.6 1.6 0 1 0 3.2 0a1.6 1.6 0 1 0 -3.2 0M150.21 788.45a1.6 1.6 0 1 0 3.2 0a1.6 1.6 0 1 0 -3.2 0M150.21 787.74a1.6 1.6 0 1 0 3.2 0a1.6 1.6 0 1 0 -3.2 0M150.21 787.03a1.6 1.6 0 1 0 3.2 0a1.6 1.6 0 1 0 -3.2 0M150.21 786.31a1.6 1.6 0 1 0 3.2 0a1.6 1.6 0 1 0 -3.2 0M150.21 785.59a1.6 1.6 0 1 0 3.2 0a1.6 1.6 0 1 0 -3.2 0M150.21 784.86a1.6 1.6 0 1 0 3.2 0a1.6 1.6 0 1 0 -3.2 0M150.21 784.11a1.6 1.6 0 1 0 3.2 0a1.6 1.6 0 1 0 -3.2 0M150.21 783.36a1.6 1.6 0 1 0 3.2 0a1.6 1.6 0 1 0 -3.2 0M150.21 782.59a1.6 1.6 0 1 0 3.2 0a1.6 1.6 0 1 0 -3.2 0M150.21 781.8a1.6 1.6 0 1 0 3.2 0a1.6 1.6 0 1 0 -3.2 0M150.21 781a1.6 1.6 0 1 0 3.2 0a1.6 1.6 0 1 0 -3.2 0M150.21 780.18a1.6 1.6 0 1 0 3.2 0a1.6 1.6 0 1 0 -3.2 0M150.21 779.33a1.6 1.6 0 1 0 3.2 0a1.6 1.6 0 1 0 -3.2 0M150.21 778.46a1.6 1.6 0 1 0 3.2 0a1.6 1.6 0 1 0 -3.2 0M150.21 777.57a1.6 1.6 0 1 0 3.2 0a1.6 1.6 0 1 0 -3.2 0M150.21 776.64a1.6 1.6 0 1 0 3.2 0a1.6 1.6 0 1 0 -3.2 0M150.21 775.68a1.6 1.6 0 1 0 3.2 0a1.6 1.6 0 1 0 -3.2 0M150.21 774.68a1.6 1.6 0 1 0 3.2 0a1.6 1.6 0 1 0 -3.2 0M150.21 773.64a1.6 1.6 0 1 0 3.2 0a1.6 1.6 0 1 0 -3.2 0M150.21 772.56a1.6 1.6 0 1 0 3.2 0a1.6 1.6 0 1 0 -3.2 0M150.21 771.42a1.6 1.6 0 1 0 3.2 0a1.6 1.6 0 1 0 -3.2 0M150.21 770.23a1.6 1.6 0 1 0 3.2 0a1.6 1.6 0 1 0 -3.2 0M150.21 768.98a1.6 1.6 0 1 0 3.2 0a1.6 1.6 0 1 0 -3.2 0M150.21 767.65a1.6 1.6 0 1 0 3.2 0a1.6 1.6 0 1 0 -3.2 0M150.21 766.25a1.6 1.6 0 1 0 3.2 0a1.6 1.6 0 1 0 -3.2 0M150.21 764.75a1.6 1.6 0 1 0 3.2 0a1.6 1.6 0 1 0 -3.2 0M150.21 763.16a1.6 1.6 0 1 0 3.2 0a1.6 1.6 0 1 0 -3.2 0M150.21 761.45a1.6 1.6 0 1 0 3.2 0a1.6 1.6 0 1 0 -3.2 0M150.21 759.61a1.6 1.6 0 1 0 3.2 0a1.6 1.6 0 1 0 -3.2 0M150.21 757.62a1.6 1.6 0 1 0 3.2 0a1.6 1.6 0 1 0 -3.2 0M150.21 858.46a1.6 1.6 0 1 0 3.2 0a1.6 1.6 0 1 0 -3.2 0M150.21 859.16a1.6 1.6 0 1 0 3.2 0a1.6 1.6 0 1 0 -3.2 0M150.21 859.86a1.6 1.6 0 1 0 3.2 0a1.6 1.6 0 1 0 -3.2 0M150.21 860.57a1.6 1.6 0 1 0 3.2 0a1.6 1.6 0 1 0 -3.2 0M150.21 861.27a1.6 1.6 0 1 0 3.2 0a1.6 1.6 0 1 0 -3.2 0M150.21 861.98a1.6 1.6 0 1 0 3.2 0a1.6 1.6 0 1 0 -3.2 0M150.21 862.69a1.6 1.6 0 1 0 3.2 0a1.6 1.6 0 1 0 -3.2 0M150.21 863.41a1.6 1.6 0 1 0 3.2 0a1.6 1.6 0 1 0 -3.2 0M150.21 864.14a1.6 1.6 0 1 0 3.2 0a1.6 1.6 0 1 0 -3.2 0M150.21 864.87a1.6 1.6 0 1 0 3.2 0a1.6 1.6 0 1 0 -3.2 0M150.21 865.61a1.6 1.6 0 1 0 3.2 0a1.6 1.6 0 1 0 -3.2 0M150.21 866.37a1.6 1.6 0 1 0 3.2 0a1.6 1.6 0 1 0 -3.2 0M150.21 867.13a1.6 1.6 0 1 0 3.2 0a1.6 1.6 0 1 0 -3.2 0M150.21 867.91a1.6 1.6 0 1 0 3.2 0a1.6 1.6 0 1 0 -3.2 0M150.21 868.7a1.6 1.6 0 1 0 3.2 0a1.6 1.6 0 1 0 -3.2 0M150.21 869.51a1.6 1.6 0 1 0 3.2 0a1.6 1.6 0 1 0 -3.2 0M150.21 870.34a1.6 1.6 0 1 0 3.2 0a1.6 1.6 0 1 0 -3.2 0M150.21 871.19a1.6 1.6 0 1 0 3.2 0a1.6 1.6 0 1 0 -3.2 0M150.21 872.06a1.6 1.6 0 1 0 3.2 0a1.6 1.6 0 1 0 -3.2 0M150.21 872.95a1.6 1.6 0 1 0 3.2 0a1.6 1.6 0 1 0 -3.2 0M150.21 873.87a1.6 1.6 0 1 0 3.2 0a1.6 1.6 0 1 0 -3.2 0M150.21 874.82a1.6 1.6 0 1 0 3.2 0a1.6 1.6 0 1 0 -3.2 0M150.21 875.8a1.6 1.6 0 1 0 3.2 0a1.6 1.6 0 1 0 -3.2 0M150.21 876.81a1.6 1.6 0 1 0 3.2 0a1.6 1.6 0 1 0 -3.2 0M150.21 877.87a1.6 1.6 0 1 0 3.2 0a1.6 1.6 0 1 0 -3.2 0M150.21 878.96a1.6 1.6 0 1 0 3.2 0a1.6 1.6 0 1 0 -3.2 0M150.21 880.1a1.6 1.6 0 1 0 3.2 0a1.6 1.6 0 1 0 -3.2 0M150.21 881.29a1.6 1.6 0 1 0 3.2 0a1.6 1.6 0 1 0 -3.2 0M150.21 882.54a1.6 1.6 0 1 0 3.2 0a1.6 1.6 0 1 0 -3.2 0M150.21 883.84a1.6 1.6 0 1 0 3.2 0a1.6 1.6 0 1 0 -3.2 0M150.21 885.22a1.6 1.6 0 1 0 3.2 0a1.6 1.6 0 1 0 -3.2 0M150.21 886.67a1.6 1.6 0 1 0 3.2 0a1.6 1.6 0 1 0 -3.2 0M150.21 888.2a1.6 1.6 0 1 0 3.2 0a1.6 1.6 0 1 0 -3.2 0M150.21 889.83a1.6 1.6 0 1 0 3.2 0a1.6 1.6 0 1 0 -3.2 0M150.21 891.56a1.6 1.6 0 1 0 3.2 0a1.6 1.6 0 1 0 -3.2 0M150.21 893.4a1.6 1.6 0 1 0 3.2 0a1.6 1.6 0 1 0 -3.2 0M150.21 895.38a1.6 1.6 0 1 0 3.2 0a1.6 1.6 0 1 0 -3.2 0M150.21 897.51a1.6 1.6 0 1 0 3.2 0a1.6 1.6 0 1 0 -3.2 0M150.21 907.37a1.6 1.6 0 1 0 3.2 0a1.6 1.6 0 1 0 -3.2 0M150.21 909.66a1.6 1.6 0 1 0 3.2 0a1.6 1.6 0 1 0 -3.2 0M150.21 912.73a1.6 1.6 0 1 0 3.2 0a1.6 1.6 0 1 0 -3.2 0M160.57 745.79a1.6 1.6 0 1 0 3.2 0a1.6 1.6 0 1 0 -3.2 0M160.57 748.7a1.6 1.6 0 1 0 3.2 0a1.6 1.6 0 1 0 -3.2 0M160.57 751.77a1.6 1.6 0 1 0 3.2 0a1.6 1.6 0 1 0 -3.2 0M160.57 757.13a1.6 1.6 0 1 0 3.2 0a1.6 1.6 0 1 0 -3.2 0M160.57 760.2a1.6 1.6 0 1 0 3.2 0a1.6 1.6 0 1 0 -3.2 0M160.57 763.26a1.6 1.6 0 1 0 3.2 0a1.6 1.6 0 1 0 -3.2 0M160.57 766.33a1.6 1.6 0 1 0 3.2 0a1.6 1.6 0 1 0 -3.2 0M160.57 790.55a1.6 1.6 0 1 0 3.2 0a1.6 1.6 0 1 0 -3.2 0M160.57 789.85a1.6 1.6 0 1 0 3.2 0a1.6 1.6 0 1 0 -3.2 0M160.57 789.15a1.6 1.6 0 1 0 3.2 0a1.6 1.6 0 1 0 -3.2 0M160.57 788.44a1.6 1.6 0 1 0 3.2 0a1.6 1.6 0 1 0 -3.2 0M160.57 787.72a1.6 1.6 0 1 0 3.2 0a1.6 1.6 0 1 0 -3.2 0M160.57 786.98a1.6 1.6 0 1 0 3.2 0a1.6 1.6 0 1 0 -3.2 0M160.57 786.23a1.6 1.6 0 1 0 3.2 0a1.6 1.6 0 1 0 -3.2 0M160.57 785.44a1.6 1.6 0 1 0 3.2 0a1.6 1.6 0 1 0 -3.2 0M160.57 784.62a1.6 1.6 0 1 0 3.2 0a1.6 1.6 0 1 0 -3.2 0M160.57 783.77a1.6 1.6 0 1 0 3.2 0a1.6 1.6 0 1 0 -3.2 0M160.57 782.86a1.6 1.6 0 1 0 3.2 0a1.6 1.6 0 1 0 -3.2 0M160.57 781.89a1.6 1.6 0 1 0 3.2 0a1.6 1.6 0 1 0 -3.2 0M160.57 780.86a1.6 1.6 0 1 0 3.2 0a1.6 1.6 0 1 0 -3.2 0M160.57 779.73a1.6 1.6 0 1 0 3.2 0a1.6 1.6 0 1 0 -3.2 0M160.57 778.51a1.6 1.6 0 1 0 3.2 0a1.6 1.6 0 1 0 -3.2 0M160.57 777.15a1.6 1.6 0 1 0 3.2 0a1.6 1.6 0 1 0 -3.2 0M160.57 775.65a1.6 1.6 0 1 0 3.2 0a1.6 1.6 0 1 0 -3.2 0M160.57 773.95a1.6 1.6 0 1 0 3.2 0a1.6 1.6 0 1 0 -3.2 0M160.57 772.01a1.6 1.6 0 1 0 3.2 0a1.6 1.6 0 1 0 -3.2 0M160.57 858.46a1.6 1.6 0 1 0 3.2 0a1.6 1.6 0 1 0 -3.2 0M160.57 859.16a1.6 1.6 0 1 0 3.2 0a1.6 1.6 0 1 0 -3.2 0M160.57 859.86a1.6 1.6 0 1 0 3.2 0a1.6 1.6 0 1 0 -3.2 0M160.57 860.57a1.6 1.6 0 1 0 3.2 0a1.6 1.6 0 1 0 -3.2 0M160.57 861.27a1.6 1.6 0 1 0 3.2 0a1.6 1.6 0 1 0 -3.2 0M160.57 861.99a1.6 1.6 0 1 0 3.2 0a1.6 1.6 0 1 0 -3.2 0M160.57 862.71a1.6 1.6 0 1 0 3.2 0a1.6 1.6 0 1 0 -3.2 0M160.57 863.43a1.6 1.6 0 1 0 3.2 0a1.6 1.6 0 1 0 -3.2 0M160.57 864.17a1.6 1.6 0 1 0 3.2 0a1.6 1.6 0 1 0 -3.2 0M160.57 864.93a1.6 1.6 0 1 0 3.2 0a1.6 1.6 0 1 0 -3.2 0M160.57 865.69a1.6 1.6 0 1 0 3.2 0a1.6 1.6 0 1 0 -3.2 0M160.57 866.48a1.6 1.6 0 1 0 3.2 0a1.6 1.6 0 1 0 -3.2 0M160.57 867.28a1.6 1.6 0 1 0 3.2 0a1.6 1.6 0 1 0 -3.2 0M160.57 868.1a1.6 1.6 0 1 0 3.2 0a1.6 1.6 0 1 0 -3.2 0M160.57 868.95a1.6 1.6 0 1 0 3.2 0a1.6 1.6 0 1 0 -3.2 0M160.57 869.82a1.6 1.6 0 1 0 3.2 0a1.6 1.6 0 1 0 -3.2 0M160.57 870.73a1.6 1.6 0 1 0 3.2 0a1.6 1.6 0 1 0 -3.2 0M160.57 871.67a1.6 1.6 0 1 0 3.2 0a1.6 1.6 0 1 0 -3.2 0M160.57 872.64a1.6 1.6 0 1 0 3.2 0a1.6 1.6 0 1 0 -3.2 0M160.57 873.66a1.6 1.6 0 1 0 3.2 0a1.6 1.6 0 1 0 -3.2 0M160.57 874.73a1.6 1.6 0 1 0 3.2 0a1.6 1.6 0 1 0 -3.2 0M160.57 875.85a1.6 1.6 0 1 0 3.2 0a1.6 1.6 0 1 0 -3.2 0M160.57 877.03a1.6 1.6 0 1 0 3.2 0a1.6 1.6 0 1 0 -3.2 0M160.57 878.28a1.6 1.6 0 1 0 3.2 0a1.6 1.6 0 1 0 -3.2 0M160.57 879.6a1.6 1.6 0 1 0 3.2 0a1.6 1.6 0 1 0 -3.2 0M160.57 881.01a1.6 1.6 0 1 0 3.2 0a1.6 1.6 0 1 0 -3.2 0M160.57 882.52a1.6 1.6 0 1 0 3.2 0a1.6 1.6 0 1 0 -3.2 0M160.57 884.14a1.6 1.6 0 1 0 3.2 0a1.6 1.6 0 1 0 -3.2 0M160.57 885.89a1.6 1.6 0 1 0 3.2 0a1.6 1.6 0 1 0 -3.2 0M160.57 887.78a1.6 1.6 0 1 0 3.2 0a1.6 1.6 0 1 0 -3.2 0M160.57 889.85a1.6 1.6 0 1 0 3.2 0a1.6 1.6 0 1 0 -3.2 0M160.57 901.85a1.6 1.6 0 1 0 3.2 0a1.6 1.6 0 1 0 -3.2 0M160.57 907.83a1.6 1.6 0 1 0 3.2 0a1.6 1.6 0 1 0 -3.2 0M160.57 915.64a1.6 1.6 0 1 0 3.2 0a1.6 1.6 0 1 0 -3.2 0M160.57 918.25a1.6 1.6 0 1 0 3.2 0a1.6 1.6 0 1 0 -3.2 0M170.93 695.81a1.6 1.6 0 1 0 3.2 0a1.6 1.6 0 1 0 -3.2 0M170.93 730.61a1.6 1.6 0 1 0 3.2 0a1.6 1.6 0 1 0 -3.2 0M170.93 749.01a1.6 1.6 0 1 0 3.2 0a1.6 1.6 0 1 0 -3.2 0M170.93 752.53a1.6 1.6 0 1 0 3.2 0a1.6 1.6 0 1 0 -3.2 0M170.93 756.37a1.6 1.6 0 1 0 3.2 0a1.6 1.6 0 1 0 -3.2 0M170.93 761.73a1.6 1.6 0 1 0 3.2 0a1.6 1.6 0 1 0 -3.2 0M170.93 787.79a1.6 1.6 0 1 0 3.2 0a1.6 1.6 0 1 0 -3.2 0M170.93 787.09a1.6 1.6 0 1 0 3.2 0a1.6 1.6 0 1 0 -3.2 0M170.93 786.39a1.6 1.6 0 1 0 3.2 0a1.6 1.6 0 1 0 -3.2 0M170.93 785.68a1.6 1.6 0 1 0 3.2 0a1.6 1.6 0 1 0 -3.2 0M170.93 784.96a1.6 1.6 0 1 0 3.2 0a1.6 1.6 0 1 0 -3.2 0M170.93 784.23a1.6 1.6 0 1 0 3.2 0a1.6 1.6 0 1 0 -3.2 0M170.93 783.47a1.6 1.6 0 1 0 3.2 0a1.6 1.6 0 1 0 -3.2 0M170.93 782.69a1.6 1.6 0 1 0 3.2 0a1.6 1.6 0 1 0 -3.2 0M170.93 781.87a1.6 1.6 0 1 0 3.2 0a1.6 1.6 0 1 0 -3.2 0M170.93 781.02a1.6 1.6 0 1 0 3.2 0a1.6 1.6 0 1 0 -3.2 0M170.93 780.11a1.6 1.6 0 1 0 3.2 0a1.6 1.6 0 1 0 -3.2 0M170.93 779.15a1.6 1.6 0 1 0 3.2 0a1.6 1.6 0 1 0 -3.2 0M170.93 778.12a1.6 1.6 0 1 0 3.2 0a1.6 1.6 0 1 0 -3.2 0M170.93 777.01a1.6 1.6 0 1 0 3.2 0a1.6 1.6 0 1 0 -3.2 0M170.93 775.79a1.6 1.6 0 1 0 3.2 0a1.6 1.6 0 1 0 -3.2 0M170.93 774.45a1.6 1.6 0 1 0 3.2 0a1.6 1.6 0 1 0 -3.2 0M170.93 772.97a1.6 1.6 0 1 0 3.2 0a1.6 1.6 0 1 0 -3.2 0M170.93 771.29a1.6 1.6 0 1 0 3.2 0a1.6 1.6 0 1 0 -3.2 0M170.93 769.39a1.6 1.6 0 1 0 3.2 0a1.6 1.6 0 1 0 -3.2 0M170.93 861.22a1.6 1.6 0 1 0 3.2 0a1.6 1.6 0 1 0 -3.2 0M170.93 861.92a1.6 1.6 0 1 0 3.2 0a1.6 1.6 0 1 0 -3.2 0M170.93 862.62a1.6 1.6 0 1 0 3.2 0a1.6 1.6 0 1 0 -3.2 0M170.93 863.33a1.6 1.6 0 1 0 3.2 0a1.6 1.6 0 1 0 -3.2 0M170.93 864.04a1.6 1.6 0 1 0 3.2 0a1.6 1.6 0 1 0 -3.2 0M170.93 864.75a1.6 1.6 0 1 0 3.2 0a1.6 1.6 0 1 0 -3.2 0M170.93 865.47a1.6 1.6 0 1 0 3.2 0a1.6 1.6 0 1 0 -3.2 0M170.93 866.21a1.6 1.6 0 1 0 3.2 0a1.6 1.6 0 1 0 -3.2 0M170.93 866.96a1.6 1.6 0 1 0 3.2 0a1.6 1.6 0 1 0 -3.2 0M170.93 867.72a1.6 1.6 0 1 0 3.2 0a1.6 1.6 0 1 0 -3.2 0M170.93 868.5a1.6 1.6 0 1 0 3.2 0a1.6 1.6 0 1 0 -3.2 0M170.93 869.3a1.6 1.6 0 1 0 3.2 0a1.6 1.6 0 1 0 -3.2 0M170.93 870.12a1.6 1.6 0 1 0 3.2 0a1.6 1.6 0 1 0 -3.2 0M170.93 870.98a1.6 1.6 0 1 0 3.2 0a1.6 1.6 0 1 0 -3.2 0M170.93 871.86a1.6 1.6 0 1 0 3.2 0a1.6 1.6 0 1 0 -3.2 0M170.93 872.77a1.6 1.6 0 1 0 3.2 0a1.6 1.6 0 1 0 -3.2 0M170.93 873.73a1.6 1.6 0 1 0 3.2 0a1.6 1.6 0 1 0 -3.2 0M170.93 874.72a1.6 1.6 0 1 0 3.2 0a1.6 1.6 0 1 0 -3.2 0M170.93 875.77a1.6 1.6 0 1 0 3.2 0a1.6 1.6 0 1 0 -3.2 0M170.93 876.88a1.6 1.6 0 1 0 3.2 0a1.6 1.6 0 1 0 -3.2 0M170.93 878.04a1.6 1.6 0 1 0 3.2 0a1.6 1.6 0 1 0 -3.2 0M170.93 879.28a1.6 1.6 0 1 0 3.2 0a1.6 1.6 0 1 0 -3.2 0M170.93 880.6a1.6 1.6 0 1 0 3.2 0a1.6 1.6 0 1 0 -3.2 0M170.93 882.02a1.6 1.6 0 1 0 3.2 0a1.6 1.6 0 1 0 -3.2 0M170.93 883.54a1.6 1.6 0 1 0 3.2 0a1.6 1.6 0 1 0 -3.2 0M170.93 885.19a1.6 1.6 0 1 0 3.2 0a1.6 1.6 0 1 0 -3.2 0M170.93 886.99a1.6 1.6 0 1 0 3.2 0a1.6 1.6 0 1 0 -3.2 0M170.93 888.95a1.6 1.6 0 1 0 3.2 0a1.6 1.6 0 1 0 -3.2 0M170.93 897.25a1.6 1.6 0 1 0 3.2 0a1.6 1.6 0 1 0 -3.2 0M170.93 900.47a1.6 1.6 0 1 0 3.2 0a1.6 1.6 0 1 0 -3.2 0M170.93 903.53a1.6 1.6 0 1 0 3.2 0a1.6 1.6 0 1 0 -3.2 0M170.93 906.6a1.6 1.6 0 1 0 3.2 0a1.6 1.6 0 1 0 -3.2 0M170.93 909.66a1.6 1.6 0 1 0 3.2 0a1.6 1.6 0 1 0 -3.2 0M170.93 914.72a1.6 1.6 0 1 0 3.2 0a1.6 1.6 0 1 0 -3.2 0M181.29 749.47a1.6 1.6 0 1 0 3.2 0a1.6 1.6 0 1 0 -3.2 0M181.29 755.45a1.6 1.6 0 1 0 3.2 0a1.6 1.6 0 1 0 -3.2 0M181.29 763.57a1.6 1.6 0 1 0 3.2 0a1.6 1.6 0 1 0 -3.2 0M181.29 766.33a1.6 1.6 0 1 0 3.2 0a1.6 1.6 0 1 0 -3.2 0M181.29 788.71a1.6 1.6 0 1 0 3.2 0a1.6 1.6 0 1 0 -3.2 0M181.29 788.01a1.6 1.6 0 1 0 3.2 0a1.6 1.6 0 1 0 -3.2 0M181.29 787.31a1.6 1.6 0 1 0 3.2 0a1.6 1.6 0 1 0 -3.2 0M181.29 786.6a1.6 1.6 0 1 0 3.2 0a1.6 1.6 0 1 0 -3.2 0M181.29 785.88a1.6 1.6 0 1 0 3.2 0a1.6 1.6 0 1 0 -3.2 0M181.29 785.15a1.6 1.6 0 1 0 3.2 0a1.6 1.6 0 1 0 -3.2 0M181.29 784.39a1.6 1.6 0 1 0 3.2 0a1.6 1.6 0 1 0 -3.2 0M181.29 783.61a1.6 1.6 0 1 0 3.2 0a1.6 1.6 0 1 0 -3.2 0M181.29 782.79a1.6 1.6 0 1 0 3.2 0a1.6 1.6 0 1 0 -3.2 0M181.29 781.94a1.6 1.6 0 1 0 3.2 0a1.6 1.6 0 1 0 -3.2 0M181.29 781.03a1.6 1.6 0 1 0 3.2 0a1.6 1.6 0 1 0 -3.2 0M181.29 780.07a1.6 1.6 0 1 0 3.2 0a1.6 1.6 0 1 0 -3.2 0M181.29 779.04a1.6 1.6 0 1 0 3.2 0a1.6 1.6 0 1 0 -3.2 0M181.29 777.93a1.6 1.6 0 1 0 3.2 0a1.6 1.6 0 1 0 -3.2 0M181.29 776.71a1.6 1.6 0 1 0 3.2 0a1.6 1.6 0 1 0 -3.2 0M181.29 775.37a1.6 1.6 0 1 0 3.2 0a1.6 1.6 0 1 0 -3.2 0M181.29 773.89a1.6 1.6 0 1 0 3.2 0a1.6 1.6 0 1 0 -3.2 0M181.29 772.21a1.6 1.6 0 1 0 3.2 0a1.6 1.6 0 1 0 -3.2 0M181.29 770.31a1.6 1.6 0 1 0 3.2 0a1.6 1.6 0 1 0 -3.2 0M181.29 860.3a1.6 1.6 0 1 0 3.2 0a1.6 1.6 0 1 0 -3.2 0M181.29 861a1.6 1.6 0 1 0 3.2 0a1.6 1.6 0 1 0 -3.2 0M181.29 861.7a1.6 1.6 0 1 0 3.2 0a1.6 1.6 0 1 0 -3.2 0M181.29 862.41a1.6 1.6 0 1 0 3.2 0a1.6 1.6 0 1 0 -3.2 0M181.29 863.12a1.6 1.6 0 1 0 3.2 0a1.6 1.6 0 1 0 -3.2 0M181.29 863.84a1.6 1.6 0 1 0 3.2 0a1.6 1.6 0 1 0 -3.2 0M181.29 864.57a1.6 1.6 0 1 0 3.2 0a1.6 1.6 0 1 0 -3.2 0M181.29 865.32a1.6 1.6 0 1 0 3.2 0a1.6 1.6 0 1 0 -3.2 0M181.29 866.08a1.6 1.6 0 1 0 3.2 0a1.6 1.6 0 1 0 -3.2 0M181.29 866.86a1.6 1.6 0 1 0 3.2 0a1.6 1.6 0 1 0 -3.2 0M181.29 867.67a1.6 1.6 0 1 0 3.2 0a1.6 1.6 0 1 0 -3.2 0M181.29 868.51a1.6 1.6 0 1 0 3.2 0a1.6 1.6 0 1 0 -3.2 0M181.29 869.37a1.6 1.6 0 1 0 3.2 0a1.6 1.6 0 1 0 -3.2 0M181.29 870.28a1.6 1.6 0 1 0 3.2 0a1.6 1.6 0 1 0 -3.2 0M181.29 871.23a1.6 1.6 0 1 0 3.2 0a1.6 1.6 0 1 0 -3.2 0M181.29 872.23a1.6 1.6 0 1 0 3.2 0a1.6 1.6 0 1 0 -3.2 0M181.29 873.28a1.6 1.6 0 1 0 3.2 0a1.6 1.6 0 1 0 -3.2 0M181.29 874.4a1.6 1.6 0 1 0 3.2 0a1.6 1.6 0 1 0 -3.2 0M181.29 875.6a1.6 1.6 0 1 0 3.2 0a1.6 1.6 0 1 0 -3.2 0M181.29 876.89a1.6 1.6 0 1 0 3.2 0a1.6 1.6 0 1 0 -3.2 0M181.29 878.28a1.6 1.6 0 1 0 3.2 0a1.6 1.6 0 1 0 -3.2 0M181.29 879.78a1.6 1.6 0 1 0 3.2 0a1.6 1.6 0 1 0 -3.2 0M181.29 881.43a1.6 1.6 0 1 0 3.2 0a1.6 1.6 0 1 0 -3.2 0M181.29 883.25a1.6 1.6 0 1 0 3.2 0a1.6 1.6 0 1 0 -3.2 0M181.29 885.27a1.6 1.6 0 1 0 3.2 0a1.6 1.6 0 1 0 -3.2 0M181.29 892.65a1.6 1.6 0 1 0 3.2 0a1.6 1.6 0 1 0 -3.2 0M181.29 900.47a1.6 1.6 0 1 0 3.2 0a1.6 1.6 0 1 0 -3.2 0M181.29 903.53a1.6 1.6 0 1 0 3.2 0a1.6 1.6 0 1 0 -3.2 0M181.29 906.6a1.6 1.6 0 1 0 3.2 0a1.6 1.6 0 1 0 -3.2 0M181.29 909.66a1.6 1.6 0 1 0 3.2 0a1.6 1.6 0 1 0 -3.2 0M181.29 913.65a1.6 1.6 0 1 0 3.2 0a1.6 1.6 0 1 0 -3.2 0M181.29 931.13a1.6 1.6 0 1 0 3.2 0a1.6 1.6 0 1 0 -3.2 0M191.64 788.71a1.6 1.6 0 1 0 3.2 0a1.6 1.6 0 1 0 -3.2 0M191.64 788.01a1.6 1.6 0 1 0 3.2 0a1.6 1.6 0 1 0 -3.2 0M191.64 787.31a1.6 1.6 0 1 0 3.2 0a1.6 1.6 0 1 0 -3.2 0M191.64 786.61a1.6 1.6 0 1 0 3.2 0a1.6 1.6 0 1 0 -3.2 0M191.64 785.9a1.6 1.6 0 1 0 3.2 0a1.6 1.6 0 1 0 -3.2 0M191.64 785.18a1.6 1.6 0 1 0 3.2 0a1.6 1.6 0 1 0 -3.2 0M191.64 784.45a1.6 1.6 0 1 0 3.2 0a1.6 1.6 0 1 0 -3.2 0M191.64 783.71a1.6 1.6 0 1 0 3.2 0a1.6 1.6 0 1 0 -3.2 0M191.64 782.96a1.6 1.6 0 1 0 3.2 0a1.6 1.6 0 1 0 -3.2 0M191.64 782.19a1.6 1.6 0 1 0 3.2 0a1.6 1.6 0 1 0 -3.2 0M191.64 781.39a1.6 1.6 0 1 0 3.2 0a1.6 1.6 0 1 0 -3.2 0M191.64 780.58a1.6 1.6 0 1 0 3.2 0a1.6 1.6 0 1 0 -3.2 0M191.64 779.73a1.6 1.6 0 1 0 3.2 0a1.6 1.6 0 1 0 -3.2 0M191.64 778.86a1.6 1.6 0 1 0 3.2 0a1.6 1.6 0 1 0 -3.2 0M191.64 777.95a1.6 1.6 0 1 0 3.2 0a1.6 1.6 0 1 0 -3.2 0M191.64 777a1.6 1.6 0 1 0 3.2 0a1.6 1.6 0 1 0 -3.2 0M191.64 776a1.6 1.6 0 1 0 3.2 0a1.6 1.6 0 1 0 -3.2 0M191.64 774.95a1.6 1.6 0 1 0 3.2 0a1.6 1.6 0 1 0 -3.2 0M191.64 773.83a1.6 1.6 0 1 0 3.2 0a1.6 1.6 0 1 0 -3.2 0M191.64 772.65a1.6 1.6 0 1 0 3.2 0a1.6 1.6 0 1 0 -3.2 0M191.64 771.39a1.6 1.6 0 1 0 3.2 0a1.6 1.6 0 1 0 -3.2 0M191.64 770.04a1.6 1.6 0 1 0 3.2 0a1.6 1.6 0 1 0 -3.2 0M191.64 768.58a1.6 1.6 0 1 0 3.2 0a1.6 1.6 0 1 0 -3.2 0M191.64 767a1.6 1.6 0 1 0 3.2 0a1.6 1.6 0 1 0 -3.2 0M191.64 765.28a1.6 1.6 0 1 0 3.2 0a1.6 1.6 0 1 0 -3.2 0M191.64 763.39a1.6 1.6 0 1 0 3.2 0a1.6 1.6 0 1 0 -3.2 0M191.64 860.3a1.6 1.6 0 1 0 3.2 0a1.6 1.6 0 1 0 -3.2 0M191.64 861a1.6 1.6 0 1 0 3.2 0a1.6 1.6 0 1 0 -3.2 0M191.64 861.7a1.6 1.6 0 1 0 3.2 0a1.6 1.6 0 1 0 -3.2 0M191.64 862.41a1.6 1.6 0 1 0 3.2 0a1.6 1.6 0 1 0 -3.2 0M191.64 863.12a1.6 1.6 0 1 0 3.2 0a1.6 1.6 0 1 0 -3.2 0M191.64 863.85a1.6 1.6 0 1 0 3.2 0a1.6 1.6 0 1 0 -3.2 0M191.64 864.59a1.6 1.6 0 1 0 3.2 0a1.6 1.6 0 1 0 -3.2 0M191.64 865.35a1.6 1.6 0 1 0 3.2 0a1.6 1.6 0 1 0 -3.2 0M191.64 866.13a1.6 1.6 0 1 0 3.2 0a1.6 1.6 0 1 0 -3.2 0M191.64 866.93a1.6 1.6 0 1 0 3.2 0a1.6 1.6 0 1 0 -3.2 0M191.64 867.77a1.6 1.6 0 1 0 3.2 0a1.6 1.6 0 1 0 -3.2 0M191.64 868.65a1.6 1.6 0 1 0 3.2 0a1.6 1.6 0 1 0 -3.2 0M191.64 869.57a1.6 1.6 0 1 0 3.2 0a1.6 1.6 0 1 0 -3.2 0M191.64 870.54a1.6 1.6 0 1 0 3.2 0a1.6 1.6 0 1 0 -3.2 0M191.64 871.57a1.6 1.6 0 1 0 3.2 0a1.6 1.6 0 1 0 -3.2 0M191.64 872.67a1.6 1.6 0 1 0 3.2 0a1.6 1.6 0 1 0 -3.2 0M191.64 873.85a1.6 1.6 0 1 0 3.2 0a1.6 1.6 0 1 0 -3.2 0M191.64 875.13a1.6 1.6 0 1 0 3.2 0a1.6 1.6 0 1 0 -3.2 0M191.64 876.52a1.6 1.6 0 1 0 3.2 0a1.6 1.6 0 1 0 -3.2 0M191.64 878.05a1.6 1.6 0 1 0 3.2 0a1.6 1.6 0 1 0 -3.2 0M191.64 879.74a1.6 1.6 0 1 0 3.2 0a1.6 1.6 0 1 0 -3.2 0M191.64 881.63a1.6 1.6 0 1 0 3.2 0a1.6 1.6 0 1 0 -3.2 0M191.64 889.89a1.6 1.6 0 1 0 3.2 0a1.6 1.6 0 1 0 -3.2 0M191.64 892.04a1.6 1.6 0 1 0 3.2 0a1.6 1.6 0 1 0 -3.2 0M191.64 894.49a1.6 1.6 0 1 0 3.2 0a1.6 1.6 0 1 0 -3.2 0M191.64 900.01a1.6 1.6 0 1 0 3.2 0a1.6 1.6 0 1 0 -3.2 0M191.64 900.93a1.6 1.6 0 1 0 3.2 0a1.6 1.6 0 1 0 -3.2 0M191.64 906.45a1.6 1.6 0 1 0 3.2 0a1.6 1.6 0 1 0 -3.2 0M191.64 908.13a1.6 1.6 0 1 0 3.2 0a1.6 1.6 0 1 0 -3.2 0M191.64 910.12a1.6 1.6 0 1 0 3.2 0a1.6 1.6 0 1 0 -3.2 0M191.64 914.72a1.6 1.6 0 1 0 3.2 0a1.6 1.6 0 1 0 -3.2 0M202 734.75a1.6 1.6 0 1 0 3.2 0a1.6 1.6 0 1 0 -3.2 0M202 742.87a1.6 1.6 0 1 0 3.2 0a1.6 1.6 0 1 0 -3.2 0M202 747.17a1.6 1.6 0 1 0 3.2 0a1.6 1.6 0 1 0 -3.2 0M202 750.23a1.6 1.6 0 1 0 3.2 0a1.6 1.6 0 1 0 -3.2 0M202 752.53a1.6 1.6 0 1 0 3.2 0a1.6 1.6 0 1 0 -3.2 0M202 760.96a1.6 1.6 0 1 0 3.2 0a1.6 1.6 0 1 0 -3.2 0M202 764.64a1.6 1.6 0 1 0 3.2 0a1.6 1.6 0 1 0 -3.2 0M202 786.87a1.6 1.6 0 1 0 3.2 0a1.6 1.6 0 1 0 -3.2 0M202 786.17a1.6 1.6 0 1 0 3.2 0a1.6 1.6 0 1 0 -3.2 0M202 785.47a1.6 1.6 0 1 0 3.2 0a1.6 1.6 0 1 0 -3.2 0M202 784.76a1.6 1.6 0 1 0 3.2 0a1.6 1.6 0 1 0 -3.2 0M202 784.04a1.6 1.6 0 1 0 3.2 0a1.6 1.6 0 1 0 -3.2 0M202 783.31a1.6 1.6 0 1 0 3.2 0a1.6 1.6 0 1 0 -3.2 0M202 782.55a1.6 1.6 0 1 0 3.2 0a1.6 1.6 0 1 0 -3.2 0M202 781.77a1.6 1.6 0 1 0 3.2 0a1.6 1.6 0 1 0 -3.2 0M202 780.95a1.6 1.6 0 1 0 3.2 0a1.6 1.6 0 1 0 -3.2 0M202 780.1a1.6 1.6 0 1 0 3.2 0a1.6 1.6 0 1 0 -3.2 0M202 779.19a1.6 1.6 0 1 0 3.2 0a1.6 1.6 0 1 0 -3.2 0M202 778.23a1.6 1.6 0 1 0 3.2 0a1.6 1.6 0 1 0 -3.2 0M202 777.2a1.6 1.6 0 1 0 3.2 0a1.6 1.6 0 1 0 -3.2 0M202 776.09a1.6 1.6 0 1 0 3.2 0a1.6 1.6 0 1 0 -3.2 0M202 774.87a1.6 1.6 0 1 0 3.2 0a1.6 1.6 0 1 0 -3.2 0M202 773.53a1.6 1.6 0 1 0 3.2 0a1.6 1.6 0 1 0 -3.2 0M202 772.05a1.6 1.6 0 1 0 3.2 0a1.6 1.6 0 1 0 -3.2 0M202 770.37a1.6 1.6 0 1 0 3.2 0a1.6 1.6 0 1 0 -3.2 0M202 768.47a1.6 1.6 0 1 0 3.2 0a1.6 1.6 0 1 0 -3.2 0M202 861.22a1.6 1.6 0 1 0 3.2 0a1.6 1.6 0 1 0 -3.2 0M202 861.92a1.6 1.6 0 1 0 3.2 0a1.6 1.6 0 1 0 -3.2 0M202 862.62a1.6 1.6 0 1 0 3.2 0a1.6 1.6 0 1 0 -3.2 0M202 863.33a1.6 1.6 0 1 0 3.2 0a1.6 1.6 0 1 0 -3.2 0M202 864.04a1.6 1.6 0 1 0 3.2 0a1.6 1.6 0 1 0 -3.2 0M202 864.77a1.6 1.6 0 1 0 3.2 0a1.6 1.6 0 1 0 -3.2 0M202 865.5a1.6 1.6 0 1 0 3.2 0a1.6 1.6 0 1 0 -3.2 0M202 866.26a1.6 1.6 0 1 0 3.2 0a1.6 1.6 0 1 0 -3.2 0M202 867.03a1.6 1.6 0 1 0 3.2 0a1.6 1.6 0 1 0 -3.2 0M202 867.83a1.6 1.6 0 1 0 3.2 0a1.6 1.6 0 1 0 -3.2 0M202 868.65a1.6 1.6 0 1 0 3.2 0a1.6 1.6 0 1 0 -3.2 0M202 869.51a1.6 1.6 0 1 0 3.2 0a1.6 1.6 0 1 0 -3.2 0M202 870.41a1.6 1.6 0 1 0 3.2 0a1.6 1.6 0 1 0 -3.2 0M202 871.36a1.6 1.6 0 1 0 3.2 0a1.6 1.6 0 1 0 -3.2 0M202 872.36a1.6 1.6 0 1 0 3.2 0a1.6 1.6 0 1 0 -3.2 0M202 873.42a1.6 1.6 0 1 0 3.2 0a1.6 1.6 0 1 0 -3.2 0M202 874.55a1.6 1.6 0 1 0 3.2 0a1.6 1.6 0 1 0 -3.2 0M202 875.77a1.6 1.6 0 1 0 3.2 0a1.6 1.6 0 1 0 -3.2 0M202 877.08a1.6 1.6 0 1 0 3.2 0a1.6 1.6 0 1 0 -3.2 0M202 878.52a1.6 1.6 0 1 0 3.2 0a1.6 1.6 0 1 0 -3.2 0M202 880.09a1.6 1.6 0 1 0 3.2 0a1.6 1.6 0 1 0 -3.2 0M202 881.82a1.6 1.6 0 1 0 3.2 0a1.6 1.6 0 1 0 -3.2 0M202 883.76a1.6 1.6 0 1 0 3.2 0a1.6 1.6 0 1 0 -3.2 0M202 888.05a1.6 1.6 0 1 0 3.2 0a1.6 1.6 0 1 0 -3.2 0M202 891.27a1.6 1.6 0 1 0 3.2 0a1.6 1.6 0 1 0 -3.2 0M202 894.34a1.6 1.6 0 1 0 3.2 0a1.6 1.6 0 1 0 -3.2 0M202 897.4a1.6 1.6 0 1 0 3.2 0a1.6 1.6 0 1 0 -3.2 0M202 899.7a1.6 1.6 0 1 0 3.2 0a1.6 1.6 0 1 0 -3.2 0M202 902.77a1.6 1.6 0 1 0 3.2 0a1.6 1.6 0 1 0 -3.2 0M202 919.17a1.6 1.6 0 1 0 3.2 0a1.6 1.6 0 1 0 -3.2 0M202 921.93a1.6 1.6 0 1 0 3.2 0a1.6 1.6 0 1 0 -3.2 0M202 925.76a1.6 1.6 0 1 0 3.2 0a1.6 1.6 0 1 0 -3.2 0M212.36 743.95a1.6 1.6 0 1 0 3.2 0a1.6 1.6 0 1 0 -3.2 0M212.36 756.37a1.6 1.6 0 1 0 3.2 0a1.6 1.6 0 1 0 -3.2 0M212.36 759.43a1.6 1.6 0 1 0 3.2 0a1.6 1.6 0 1 0 -3.2 0M212.36 760.96a1.6 1.6 0 1 0 3.2 0a1.6 1.6 0 1 0 -3.2 0M212.36 786.87a1.6 1.6 0 1 0 3.2 0a1.6 1.6 0 1 0 -3.2 0M212.36 786.17a1.6 1.6 0 1 0 3.2 0a1.6 1.6 0 1 0 -3.2 0M212.36 785.47a1.6 1.6 0 1 0 3.2 0a1.6 1.6 0 1 0 -3.2 0M212.36 784.76a1.6 1.6 0 1 0 3.2 0a1.6 1.6 0 1 0 -3.2 0M212.36 784.04a1.6 1.6 0 1 0 3.2 0a1.6 1.6 0 1 0 -3.2 0M212.36 783.31a1.6 1.6 0 1 0 3.2 0a1.6 1.6 0 1 0 -3.2 0M212.36 782.55a1.6 1.6 0 1 0 3.2 0a1.6 1.6 0 1 0 -3.2 0M212.36 781.77a1.6 1.6 0 1 0 3.2 0a1.6 1.6 0 1 0 -3.2 0M212.36 780.95a1.6 1.6 0 1 0 3.2 0a1.6 1.6 0 1 0 -3.2 0M212.36 780.1a1.6 1.6 0 1 0 3.2 0a1.6 1.6 0 1 0 -3.2 0M212.36 779.19a1.6 1.6 0 1 0 3.2 0a1.6 1.6 0 1 0 -3.2 0M212.36 778.23a1.6 1.6 0 1 0 3.2 0a1.6 1.6 0 1 0 -3.2 0M212.36 777.2a1.6 1.6 0 1 0 3.2 0a1.6 1.6 0 1 0 -3.2 0M212.36 776.09a1.6 1.6 0 1 0 3.2 0a1.6 1.6 0 1 0 -3.2 0M212.36 774.87a1.6 1.6 0 1 0 3.2 0a1.6 1.6 0 1 0 -3.2 0M212.36 773.53a1.6 1.6 0 1 0 3.2 0a1.6 1.6 0 1 0 -3.2 0M212.36 772.05a1.6 1.6 0 1 0 3.2 0a1.6 1.6 0 1 0 -3.2 0M212.36 770.37a1.6 1.6 0 1 0 3.2 0a1.6 1.6 0 1 0 -3.2 0M212.36 768.47a1.6 1.6 0 1 0 3.2 0a1.6 1.6 0 1 0 -3.2 0M212.36 861.99a1.6 1.6 0 1 0 3.2 0a1.6 1.6 0 1 0 -3.2 0M212.36 862.69a1.6 1.6 0 1 0 3.2 0a1.6 1.6 0 1 0 -3.2 0M212.36 863.39a1.6 1.6 0 1 0 3.2 0a1.6 1.6 0 1 0 -3.2 0M212.36 864.1a1.6 1.6 0 1 0 3.2 0a1.6 1.6 0 1 0 -3.2 0M212.36 864.81a1.6 1.6 0 1 0 3.2 0a1.6 1.6 0 1 0 -3.2 0M212.36 865.54a1.6 1.6 0 1 0 3.2 0a1.6 1.6 0 1 0 -3.2 0M212.36 866.29a1.6 1.6 0 1 0 3.2 0a1.6 1.6 0 1 0 -3.2 0M212.36 867.06a1.6 1.6 0 1 0 3.2 0a1.6 1.6 0 1 0 -3.2 0M212.36 867.85a1.6 1.6 0 1 0 3.2 0a1.6 1.6 0 1 0 -3.2 0M212.36 868.68a1.6 1.6 0 1 0 3.2 0a1.6 1.6 0 1 0 -3.2 0M212.36 869.54a1.6 1.6 0 1 0 3.2 0a1.6 1.6 0 1 0 -3.2 0M212.36 870.45a1.6 1.6 0 1 0 3.2 0a1.6 1.6 0 1 0 -3.2 0M212.36 871.42a1.6 1.6 0 1 0 3.2 0a1.6 1.6 0 1 0 -3.2 0M212.36 872.45a1.6 1.6 0 1 0 3.2 0a1.6 1.6 0 1 0 -3.2 0M212.36 873.55a1.6 1.6 0 1 0 3.2 0a1.6 1.6 0 1 0 -3.2 0M212.36 874.74a1.6 1.6 0 1 0 3.2 0a1.6 1.6 0 1 0 -3.2 0M212.36 876.04a1.6 1.6 0 1 0 3.2 0a1.6 1.6 0 1 0 -3.2 0M212.36 877.46a1.6 1.6 0 1 0 3.2 0a1.6 1.6 0 1 0 -3.2 0M212.36 879.05a1.6 1.6 0 1 0 3.2 0a1.6 1.6 0 1 0 -3.2 0M212.36 880.82a1.6 1.6 0 1 0 3.2 0a1.6 1.6 0 1 0 -3.2 0M212.36 882.82a1.6 1.6 0 1 0 3.2 0a1.6 1.6 0 1 0 -3.2 0M212.36 888.97a1.6 1.6 0 1 0 3.2 0a1.6 1.6 0 1 0 -3.2 0M212.36 892.8a1.6 1.6 0 1 0 3.2 0a1.6 1.6 0 1 0 -3.2 0M212.36 897.25a1.6 1.6 0 1 0 3.2 0a1.6 1.6 0 1 0 -3.2 0M212.36 907.67a1.6 1.6 0 1 0 3.2 0a1.6 1.6 0 1 0 -3.2 0M212.36 913.19a1.6 1.6 0 1 0 3.2 0a1.6 1.6 0 1 0 -3.2 0M212.36 942.78a1.6 1.6 0 1 0 3.2 0a1.6 1.6 0 1 0 -3.2 0M222.72 731.53a1.6 1.6 0 1 0 3.2 0a1.6 1.6 0 1 0 -3.2 0M222.72 737.05a1.6 1.6 0 1 0 3.2 0a1.6 1.6 0 1 0 -3.2 0M222.72 745.33a1.6 1.6 0 1 0 3.2 0a1.6 1.6 0 1 0 -3.2 0M222.72 748.7a1.6 1.6 0 1 0 3.2 0a1.6 1.6 0 1 0 -3.2 0M222.72 751.77a1.6 1.6 0 1 0 3.2 0a1.6 1.6 0 1 0 -3.2 0M222.72 754.83a1.6 1.6 0 1 0 3.2 0a1.6 1.6 0 1 0 -3.2 0M222.72 785.03a1.6 1.6 0 1 0 3.2 0a1.6 1.6 0 1 0 -3.2 0M222.72 784.33a1.6 1.6 0 1 0 3.2 0a1.6 1.6 0 1 0 -3.2 0M222.72 783.63a1.6 1.6 0 1 0 3.2 0a1.6 1.6 0 1 0 -3.2 0M222.72 782.93a1.6 1.6 0 1 0 3.2 0a1.6 1.6 0 1 0 -3.2 0M222.72 782.22a1.6 1.6 0 1 0 3.2 0a1.6 1.6 0 1 0 -3.2 0M222.72 781.5a1.6 1.6 0 1 0 3.2 0a1.6 1.6 0 1 0 -3.2 0M222.72 780.77a1.6 1.6 0 1 0 3.2 0a1.6 1.6 0 1 0 -3.2 0M222.72 780.03a1.6 1.6 0 1 0 3.2 0a1.6 1.6 0 1 0 -3.2 0M222.72 779.27a1.6 1.6 0 1 0 3.2 0a1.6 1.6 0 1 0 -3.2 0M222.72 778.49a1.6 1.6 0 1 0 3.2 0a1.6 1.6 0 1 0 -3.2 0M222.72 777.69a1.6 1.6 0 1 0 3.2 0a1.6 1.6 0 1 0 -3.2 0M222.72 776.87a1.6 1.6 0 1 0 3.2 0a1.6 1.6 0 1 0 -3.2 0M222.72 776.02a1.6 1.6 0 1 0 3.2 0a1.6 1.6 0 1 0 -3.2 0M222.72 775.13a1.6 1.6 0 1 0 3.2 0a1.6 1.6 0 1 0 -3.2 0M222.72 774.21a1.6 1.6 0 1 0 3.2 0a1.6 1.6 0 1 0 -3.2 0M222.72 773.24a1.6 1.6 0 1 0 3.2 0a1.6 1.6 0 1 0 -3.2 0M222.72 772.22a1.6 1.6 0 1 0 3.2 0a1.6 1.6 0 1 0 -3.2 0M222.72 771.14a1.6 1.6 0 1 0 3.2 0a1.6 1.6 0 1 0 -3.2 0M222.72 769.99a1.6 1.6 0 1 0 3.2 0a1.6 1.6 0 1 0 -3.2 0M222.72 768.77a1.6 1.6 0 1 0 3.2 0a1.6 1.6 0 1 0 -3.2 0M222.72 767.46a1.6 1.6 0 1 0 3.2 0a1.6 1.6 0 1 0 -3.2 0M222.72 766.05a1.6 1.6 0 1 0 3.2 0a1.6 1.6 0 1 0 -3.2 0M222.72 764.52a1.6 1.6 0 1 0 3.2 0a1.6 1.6 0 1 0 -3.2 0M222.72 762.86a1.6 1.6 0 1 0 3.2 0a1.6 1.6 0 1 0 -3.2 0M222.72 761.03a1.6 1.6 0 1 0 3.2 0a1.6 1.6 0 1 0 -3.2 0M222.72 759a1.6 1.6 0 1 0 3.2 0a1.6 1.6 0 1 0 -3.2 0M222.72 863.98a1.6 1.6 0 1 0 3.2 0a1.6 1.6 0 1 0 -3.2 0M222.72 864.68a1.6 1.6 0 1 0 3.2 0a1.6 1.6 0 1 0 -3.2 0M222.72 865.38a1.6 1.6 0 1 0 3.2 0a1.6 1.6 0 1 0 -3.2 0M222.72 866.09a1.6 1.6 0 1 0 3.2 0a1.6 1.6 0 1 0 -3.2 0M222.72 866.81a1.6 1.6 0 1 0 3.2 0a1.6 1.6 0 1 0 -3.2 0M222.72 867.54a1.6 1.6 0 1 0 3.2 0a1.6 1.6 0 1 0 -3.2 0M222.72 868.28a1.6 1.6 0 1 0 3.2 0a1.6 1.6 0 1 0 -3.2 0M222.72 869.05a1.6 1.6 0 1 0 3.2 0a1.6 1.6 0 1 0 -3.2 0M222.72 869.85a1.6 1.6 0 1 0 3.2 0a1.6 1.6 0 1 0 -3.2 0M222.72 870.68a1.6 1.6 0 1 0 3.2 0a1.6 1.6 0 1 0 -3.2 0M222.72 871.55a1.6 1.6 0 1 0 3.2 0a1.6 1.6 0 1 0 -3.2 0M222.72 872.46a1.6 1.6 0 1 0 3.2 0a1.6 1.6 0 1 0 -3.2 0M222.72 873.43a1.6 1.6 0 1 0 3.2 0a1.6 1.6 0 1 0 -3.2 0M222.72 874.46a1.6 1.6 0 1 0 3.2 0a1.6 1.6 0 1 0 -3.2 0M222.72 875.57a1.6 1.6 0 1 0 3.2 0a1.6 1.6 0 1 0 -3.2 0M222.72 876.77a1.6 1.6 0 1 0 3.2 0a1.6 1.6 0 1 0 -3.2 0M222.72 878.08a1.6 1.6 0 1 0 3.2 0a1.6 1.6 0 1 0 -3.2 0M222.72 879.53a1.6 1.6 0 1 0 3.2 0a1.6 1.6 0 1 0 -3.2 0M222.72 881.13a1.6 1.6 0 1 0 3.2 0a1.6 1.6 0 1 0 -3.2 0M222.72 882.93a1.6 1.6 0 1 0 3.2 0a1.6 1.6 0 1 0 -3.2 0M222.72 888.97a1.6 1.6 0 1 0 3.2 0a1.6 1.6 0 1 0 -3.2 0M222.72 892.8a1.6 1.6 0 1 0 3.2 0a1.6 1.6 0 1 0 -3.2 0M222.72 895.87a1.6 1.6 0 1 0 3.2 0a1.6 1.6 0 1 0 -3.2 0M222.72 898.93a1.6 1.6 0 1 0 3.2 0a1.6 1.6 0 1 0 -3.2 0M222.72 902a1.6 1.6 0 1 0 3.2 0a1.6 1.6 0 1 0 -3.2 0M222.72 905.07a1.6 1.6 0 1 0 3.2 0a1.6 1.6 0 1 0 -3.2 0M222.72 908.29a1.6 1.6 0 1 0 3.2 0a1.6 1.6 0 1 0 -3.2 0M222.72 921.93a1.6 1.6 0 1 0 3.2 0a1.6 1.6 0 1 0 -3.2 0M233.08 741.65a1.6 1.6 0 1 0 3.2 0a1.6 1.6 0 1 0 -3.2 0M233.08 744.87a1.6 1.6 0 1 0 3.2 0a1.6 1.6 0 1 0 -3.2 0M233.08 747.93a1.6 1.6 0 1 0 3.2 0a1.6 1.6 0 1 0 -3.2 0M233.08 752.53a1.6 1.6 0 1 0 3.2 0a1.6 1.6 0 1 0 -3.2 0M233.08 755.6a1.6 1.6 0 1 0 3.2 0a1.6 1.6 0 1 0 -3.2 0M233.08 758.66a1.6 1.6 0 1 0 3.2 0a1.6 1.6 0 1 0 -3.2 0M233.08 761.73a1.6 1.6 0 1 0 3.2 0a1.6 1.6 0 1 0 -3.2 0M233.08 764.8a1.6 1.6 0 1 0 3.2 0a1.6 1.6 0 1 0 -3.2 0M233.08 767.86a1.6 1.6 0 1 0 3.2 0a1.6 1.6 0 1 0 -3.2 0M233.08 783.19a1.6 1.6 0 1 0 3.2 0a1.6 1.6 0 1 0 -3.2 0M233.08 782.49a1.6 1.6 0 1 0 3.2 0a1.6 1.6 0 1 0 -3.2 0M233.08 781.79a1.6 1.6 0 1 0 3.2 0a1.6 1.6 0 1 0 -3.2 0M233.08 781.06a1.6 1.6 0 1 0 3.2 0a1.6 1.6 0 1 0 -3.2 0M233.08 780.31a1.6 1.6 0 1 0 3.2 0a1.6 1.6 0 1 0 -3.2 0M233.08 779.51a1.6 1.6 0 1 0 3.2 0a1.6 1.6 0 1 0 -3.2 0M233.08 778.64a1.6 1.6 0 1 0 3.2 0a1.6 1.6 0 1 0 -3.2 0M233.08 777.69a1.6 1.6 0 1 0 3.2 0a1.6 1.6 0 1 0 -3.2 0M233.08 776.63a1.6 1.6 0 1 0 3.2 0a1.6 1.6 0 1 0 -3.2 0M233.08 775.4a1.6 1.6 0 1 0 3.2 0a1.6 1.6 0 1 0 -3.2 0M233.08 773.97a1.6 1.6 0 1 0 3.2 0a1.6 1.6 0 1 0 -3.2 0M233.08 772.24a1.6 1.6 0 1 0 3.2 0a1.6 1.6 0 1 0 -3.2 0M233.08 864.9a1.6 1.6 0 1 0 3.2 0a1.6 1.6 0 1 0 -3.2 0M233.08 865.6a1.6 1.6 0 1 0 3.2 0a1.6 1.6 0 1 0 -3.2 0M233.08 866.3a1.6 1.6 0 1 0 3.2 0a1.6 1.6 0 1 0 -3.2 0M233.08 867.02a1.6 1.6 0 1 0 3.2 0a1.6 1.6 0 1 0 -3.2 0M233.08 867.74a1.6 1.6 0 1 0 3.2 0a1.6 1.6 0 1 0 -3.2 0M233.08 868.49a1.6 1.6 0 1 0 3.2 0a1.6 1.6 0 1 0 -3.2 0M233.08 869.27a1.6 1.6 0 1 0 3.2 0a1.6 1.6 0 1 0 -3.2 0M233.08 870.09a1.6 1.6 0 1 0 3.2 0a1.6 1.6 0 1 0 -3.2 0M233.08 870.96a1.6 1.6 0 1 0 3.2 0a1.6 1.6 0 1 0 -3.2 0M233.08 871.88a1.6 1.6 0 1 0 3.2 0a1.6 1.6 0 1 0 -3.2 0M233.08 872.89a1.6 1.6 0 1 0 3.2 0a1.6 1.6 0 1 0 -3.2 0M233.08 873.98a1.6 1.6 0 1 0 3.2 0a1.6 1.6 0 1 0 -3.2 0M233.08 875.19a1.6 1.6 0 1 0 3.2 0a1.6 1.6 0 1 0 -3.2 0M233.08 876.54a1.6 1.6 0 1 0 3.2 0a1.6 1.6 0 1 0 -3.2 0M233.08 878.08a1.6 1.6 0 1 0 3.2 0a1.6 1.6 0 1 0 -3.2 0M233.08 879.85a1.6 1.6 0 1 0 3.2 0a1.6 1.6 0 1 0 -3.2 0M233.08 883.45a1.6 1.6 0 1 0 3.2 0a1.6 1.6 0 1 0 -3.2 0M233.08 886.67a1.6 1.6 0 1 0 3.2 0a1.6 1.6 0 1 0 -3.2 0M233.08 889.74a1.6 1.6 0 1 0 3.2 0a1.6 1.6 0 1 0 -3.2 0M233.08 892.8a1.6 1.6 0 1 0 3.2 0a1.6 1.6 0 1 0 -3.2 0M233.08 895.87a1.6 1.6 0 1 0 3.2 0a1.6 1.6 0 1 0 -3.2 0M233.08 899.09a1.6 1.6 0 1 0 3.2 0a1.6 1.6 0 1 0 -3.2 0M233.08 915.18a1.6 1.6 0 1 0 3.2 0a1.6 1.6 0 1 0 -3.2 0M243.43 747.63a1.6 1.6 0 1 0 3.2 0a1.6 1.6 0 1 0 -3.2 0M243.43 784.11a1.6 1.6 0 1 0 3.2 0a1.6 1.6 0 1 0 -3.2 0M243.43 783.41a1.6 1.6 0 1 0 3.2 0a1.6 1.6 0 1 0 -3.2 0M243.43 782.71a1.6 1.6 0 1 0 3.2 0a1.6 1.6 0 1 0 -3.2 0M243.43 782.01a1.6 1.6 0 1 0 3.2 0a1.6 1.6 0 1 0 -3.2 0M243.43 781.3a1.6 1.6 0 1 0 3.2 0a1.6 1.6 0 1 0 -3.2 0M243.43 780.59a1.6 1.6 0 1 0 3.2 0a1.6 1.6 0 1 0 -3.2 0M243.43 779.86a1.6 1.6 0 1 0 3.2 0a1.6 1.6 0 1 0 -3.2 0M243.43 779.13a1.6 1.6 0 1 0 3.2 0a1.6 1.6 0 1 0 -3.2 0M243.43 778.39a1.6 1.6 0 1 0 3.2 0a1.6 1.6 0 1 0 -3.2 0M243.43 777.63a1.6 1.6 0 1 0 3.2 0a1.6 1.6 0 1 0 -3.2 0M243.43 776.86a1.6 1.6 0 1 0 3.2 0a1.6 1.6 0 1 0 -3.2 0M243.43 776.06a1.6 1.6 0 1 0 3.2 0a1.6 1.6 0 1 0 -3.2 0M243.43 775.25a1.6 1.6 0 1 0 3.2 0a1.6 1.6 0 1 0 -3.2 0M243.43 774.41a1.6 1.6 0 1 0 3.2 0a1.6 1.6 0 1 0 -3.2 0M243.43 773.54a1.6 1.6 0 1 0 3.2 0a1.6 1.6 0 1 0 -3.2 0M243.43 772.64a1.6 1.6 0 1 0 3.2 0a1.6 1.6 0 1 0 -3.2 0M243.43 771.71a1.6 1.6 0 1 0 3.2 0a1.6 1.6 0 1 0 -3.2 0M243.43 770.74a1.6 1.6 0 1 0 3.2 0a1.6 1.6 0 1 0 -3.2 0M243.43 769.72a1.6 1.6 0 1 0 3.2 0a1.6 1.6 0 1 0 -3.2 0M243.43 768.65a1.6 1.6 0 1 0 3.2 0a1.6 1.6 0 1 0 -3.2 0M243.43 767.53a1.6 1.6 0 1 0 3.2 0a1.6 1.6 0 1 0 -3.2 0M243.43 766.34a1.6 1.6 0 1 0 3.2 0a1.6 1.6 0 1 0 -3.2 0M243.43 765.08a1.6 1.6 0 1 0 3.2 0a1.6 1.6 0 1 0 -3.2 0M243.43 763.74a1.6 1.6 0 1 0 3.2 0a1.6 1.6 0 1 0 -3.2 0M243.43 762.31a1.6 1.6 0 1 0 3.2 0a1.6 1.6 0 1 0 -3.2 0M243.43 760.76a1.6 1.6 0 1 0 3.2 0a1.6 1.6 0 1 0 -3.2 0M243.43 759.1a1.6 1.6 0 1 0 3.2 0a1.6 1.6 0 1 0 -3.2 0M243.43 757.29a1.6 1.6 0 1 0 3.2 0a1.6 1.6 0 1 0 -3.2 0M243.43 755.31a1.6 1.6 0 1 0 3.2 0a1.6 1.6 0 1 0 -3.2 0M243.43 865.36a1.6 1.6 0 1 0 3.2 0a1.6 1.6 0 1 0 -3.2 0M243.43 866.06a1.6 1.6 0 1 0 3.2 0a1.6 1.6 0 1 0 -3.2 0M243.43 866.76a1.6 1.6 0 1 0 3.2 0a1.6 1.6 0 1 0 -3.2 0M243.43 867.47a1.6 1.6 0 1 0 3.2 0a1.6 1.6 0 1 0 -3.2 0M243.43 868.19a1.6 1.6 0 1 0 3.2 0a1.6 1.6 0 1 0 -3.2 0M243.43 868.93a1.6 1.6 0 1 0 3.2 0a1.6 1.6 0 1 0 -3.2 0M243.43 869.68a1.6 1.6 0 1 0 3.2 0a1.6 1.6 0 1 0 -3.2 0M243.43 870.46a1.6 1.6 0 1 0 3.2 0a1.6 1.6 0 1 0 -3.2 0M243.43 871.27a1.6 1.6 0 1 0 3.2 0a1.6 1.6 0 1 0 -3.2 0M243.43 872.12a1.6 1.6 0 1 0 3.2 0a1.6 1.6 0 1 0 -3.2 0M243.43 873.02a1.6 1.6 0 1 0 3.2 0a1.6 1.6 0 1 0 -3.2 0M243.43 873.97a1.6 1.6 0 1 0 3.2 0a1.6 1.6 0 1 0 -3.2 0M243.43 874.99a1.6 1.6 0 1 0 3.2 0a1.6 1.6 0 1 0 -3.2 0M243.43 876.08a1.6 1.6 0 1 0 3.2 0a1.6 1.6 0 1 0 -3.2 0M243.43 877.28a1.6 1.6 0 1 0 3.2 0a1.6 1.6 0 1 0 -3.2 0M243.43 878.58a1.6 1.6 0 1 0 3.2 0a1.6 1.6 0 1 0 -3.2 0M243.43 880.03a1.6 1.6 0 1 0 3.2 0a1.6 1.6 0 1 0 -3.2 0M243.43 881.66a1.6 1.6 0 1 0 3.2 0a1.6 1.6 0 1 0 -3.2 0M243.43 883.5a1.6 1.6 0 1 0 3.2 0a1.6 1.6 0 1 0 -3.2 0M243.43 888.05a1.6 1.6 0 1 0 3.2 0a1.6 1.6 0 1 0 -3.2 0M243.43 891.27a1.6 1.6 0 1 0 3.2 0a1.6 1.6 0 1 0 -3.2 0M243.43 894.34a1.6 1.6 0 1 0 3.2 0a1.6 1.6 0 1 0 -3.2 0M243.43 901.85a1.6 1.6 0 1 0 3.2 0a1.6 1.6 0 1 0 -3.2 0M253.79 734.75a1.6 1.6 0 1 0 3.2 0a1.6 1.6 0 1 0 -3.2 0M253.79 749.93a1.6 1.6 0 1 0 3.2 0a1.6 1.6 0 1 0 -3.2 0M253.79 753.3a1.6 1.6 0 1 0 3.2 0a1.6 1.6 0 1 0 -3.2 0M253.79 756.37a1.6 1.6 0 1 0 3.2 0a1.6 1.6 0 1 0 -3.2 0M253.79 766.33a1.6 1.6 0 1 0 3.2 0a1.6 1.6 0 1 0 -3.2 0M253.79 770.16a1.6 1.6 0 1 0 3.2 0a1.6 1.6 0 1 0 -3.2 0M253.79 773.99a1.6 1.6 0 1 0 3.2 0a1.6 1.6 0 1 0 -3.2 0M253.79 785.03a1.6 1.6 0 1 0 3.2 0a1.6 1.6 0 1 0 -3.2 0M253.79 784.33a1.6 1.6 0 1 0 3.2 0a1.6 1.6 0 1 0 -3.2 0M253.79 783.61a1.6 1.6 0 1 0 3.2 0a1.6 1.6 0 1 0 -3.2 0M253.79 782.83a1.6 1.6 0 1 0 3.2 0a1.6 1.6 0 1 0 -3.2 0M253.79 781.92a1.6 1.6 0 1 0 3.2 0a1.6 1.6 0 1 0 -3.2 0M253.79 780.81a1.6 1.6 0 1 0 3.2 0a1.6 1.6 0 1 0 -3.2 0M253.79 779.35a1.6 1.6 0 1 0 3.2 0a1.6 1.6 0 1 0 -3.2 0M253.79 860.3a1.6 1.6 0 1 0 3.2 0a1.6 1.6 0 1 0 -3.2 0M253.79 861a1.6 1.6 0 1 0 3.2 0a1.6 1.6 0 1 0 -3.2 0M253.79 861.71a1.6 1.6 0 1 0 3.2 0a1.6 1.6 0 1 0 -3.2 0M253.79 862.42a1.6 1.6 0 1 0 3.2 0a1.6 1.6 0 1 0 -3.2 0M253.79 863.17a1.6 1.6 0 1 0 3.2 0a1.6 1.6 0 1 0 -3.2 0M253.79 863.94a1.6 1.6 0 1 0 3.2 0a1.6 1.6 0 1 0 -3.2 0M253.79 864.76a1.6 1.6 0 1 0 3.2 0a1.6 1.6 0 1 0 -3.2 0M253.79 865.64a1.6 1.6 0 1 0 3.2 0a1.6 1.6 0 1 0 -3.2 0M253.79 866.59a1.6 1.6 0 1 0 3.2 0a1.6 1.6 0 1 0 -3.2 0M253.79 867.65a1.6 1.6 0 1 0 3.2 0a1.6 1.6 0 1 0 -3.2 0M253.79 868.83a1.6 1.6 0 1 0 3.2 0a1.6 1.6 0 1 0 -3.2 0M253.79 870.19a1.6 1.6 0 1 0 3.2 0a1.6 1.6 0 1 0 -3.2 0M253.79 871.77a1.6 1.6 0 1 0 3.2 0a1.6 1.6 0 1 0 -3.2 0M253.79 873.65a1.6 1.6 0 1 0 3.2 0a1.6 1.6 0 1 0 -3.2 0M253.79 877.01a1.6 1.6 0 1 0 3.2 0a1.6 1.6 0 1 0 -3.2 0M253.79 879.77a1.6 1.6 0 1 0 3.2 0a1.6 1.6 0 1 0 -3.2 0M253.79 882.84a1.6 1.6 0 1 0 3.2 0a1.6 1.6 0 1 0 -3.2 0M253.79 885.29a1.6 1.6 0 1 0 3.2 0a1.6 1.6 0 1 0 -3.2 0M253.79 901.85a1.6 1.6 0 1 0 3.2 0a1.6 1.6 0 1 0 -3.2 0M253.79 905.53a1.6 1.6 0 1 0 3.2 0a1.6 1.6 0 1 0 -3.2 0M264.15 749.93a1.6 1.6 0 1 0 3.2 0a1.6 1.6 0 1 0 -3.2 0M264.15 754.53a1.6 1.6 0 1 0 3.2 0a1.6 1.6 0 1 0 -3.2 0M264.15 761.73a1.6 1.6 0 1 0 3.2 0a1.6 1.6 0 1 0 -3.2 0M264.15 785.95a1.6 1.6 0 1 0 3.2 0a1.6 1.6 0 1 0 -3.2 0M264.15 785.25a1.6 1.6 0 1 0 3.2 0a1.6 1.6 0 1 0 -3.2 0M264.15 784.55a1.6 1.6 0 1 0 3.2 0a1.6 1.6 0 1 0 -3.2 0M264.15 783.83a1.6 1.6 0 1 0 3.2 0a1.6 1.6 0 1 0 -3.2 0M264.15 783.08a1.6 1.6 0 1 0 3.2 0a1.6 1.6 0 1 0 -3.2 0M264.15 782.3a1.6 1.6 0 1 0 3.2 0a1.6 1.6 0 1 0 -3.2 0M264.15 781.46a1.6 1.6 0 1 0 3.2 0a1.6 1.6 0 1 0 -3.2 0M264.15 780.56a1.6 1.6 0 1 0 3.2 0a1.6 1.6 0 1 0 -3.2 0M264.15 779.56a1.6 1.6 0 1 0 3.2 0a1.6 1.6 0 1 0 -3.2 0M264.15 778.45a1.6 1.6 0 1 0 3.2 0a1.6 1.6 0 1 0 -3.2 0M264.15 777.18a1.6 1.6 0 1 0 3.2 0a1.6 1.6 0 1 0 -3.2 0M264.15 775.7a1.6 1.6 0 1 0 3.2 0a1.6 1.6 0 1 0 -3.2 0M264.15 773.94a1.6 1.6 0 1 0 3.2 0a1.6 1.6 0 1 0 -3.2 0M264.15 865.82a1.6 1.6 0 1 0 3.2 0a1.6 1.6 0 1 0 -3.2 0M264.15 866.52a1.6 1.6 0 1 0 3.2 0a1.6 1.6 0 1 0 -3.2 0M264.15 867.22a1.6 1.6 0 1 0 3.2 0a1.6 1.6 0 1 0 -3.2 0M264.15 867.93a1.6 1.6 0 1 0 3.2 0a1.6 1.6 0 1 0 -3.2 0M264.15 868.66a1.6 1.6 0 1 0 3.2 0a1.6 1.6 0 1 0 -3.2 0M264.15 869.4a1.6 1.6 0 1 0 3.2 0a1.6 1.6 0 1 0 -3.2 0M264.15 870.16a1.6 1.6 0 1 0 3.2 0a1.6 1.6 0 1 0 -3.2 0M264.15 870.95a1.6 1.6 0 1 0 3.2 0a1.6 1.6 0 1 0 -3.2 0M264.15 871.78a1.6 1.6 0 1 0 3.2 0a1.6 1.6 0 1 0 -3.2 0M264.15 872.66a1.6 1.6 0 1 0 3.2 0a1.6 1.6 0 1 0 -3.2 0M264.15 873.59a1.6 1.6 0 1 0 3.2 0a1.6 1.6 0 1 0 -3.2 0M264.15 874.59a1.6 1.6 0 1 0 3.2 0a1.6 1.6 0 1 0 -3.2 0M264.15 875.68a1.6 1.6 0 1 0 3.2 0a1.6 1.6 0 1 0 -3.2 0M264.15 876.86a1.6 1.6 0 1 0 3.2 0a1.6 1.6 0 1 0 -3.2 0M264.15 878.17a1.6 1.6 0 1 0 3.2 0a1.6 1.6 0 1 0 -3.2 0M264.15 879.62a1.6 1.6 0 1 0 3.2 0a1.6 1.6 0 1 0 -3.2 0M264.15 881.27a1.6 1.6 0 1 0 3.2 0a1.6 1.6 0 1 0 -3.2 0M264.15 883.16a1.6 1.6 0 1 0 3.2 0a1.6 1.6 0 1 0 -3.2 0M264.15 891.42a1.6 1.6 0 1 0 3.2 0a1.6 1.6 0 1 0 -3.2 0M264.15 900.01a1.6 1.6 0 1 0 3.2 0a1.6 1.6 0 1 0 -3.2 0M264.15 902.77a1.6 1.6 0 1 0 3.2 0a1.6 1.6 0 1 0 -3.2 0M264.15 917.33a1.6 1.6 0 1 0 3.2 0a1.6 1.6 0 1 0 -3.2 0M274.51 762.65a1.6 1.6 0 1 0 3.2 0a1.6 1.6 0 1 0 -3.2 0M274.51 766.33a1.6 1.6 0 1 0 3.2 0a1.6 1.6 0 1 0 -3.2 0M274.51 770.16a1.6 1.6 0 1 0 3.2 0a1.6 1.6 0 1 0 -3.2 0M274.51 784.11a1.6 1.6 0 1 0 3.2 0a1.6 1.6 0 1 0 -3.2 0M274.51 783.41a1.6 1.6 0 1 0 3.2 0a1.6 1.6 0 1 0 -3.2 0M274.51 782.69a1.6 1.6 0 1 0 3.2 0a1.6 1.6 0 1 0 -3.2 0M274.51 781.91a1.6 1.6 0 1 0 3.2 0a1.6 1.6 0 1 0 -3.2 0M274.51 781a1.6 1.6 0 1 0 3.2 0a1.6 1.6 0 1 0 -3.2 0M274.51 779.89a1.6 1.6 0 1 0 3.2 0a1.6 1.6 0 1 0 -3.2 0M274.51 778.43a1.6 1.6 0 1 0 3.2 0a1.6 1.6 0 1 0 -3.2 0M274.51 865.82a1.6 1.6 0 1 0 3.2 0a1.6 1.6 0 1 0 -3.2 0M274.51 866.52a1.6 1.6 0 1 0 3.2 0a1.6 1.6 0 1 0 -3.2 0M274.51 867.22a1.6 1.6 0 1 0 3.2 0a1.6 1.6 0 1 0 -3.2 0M274.51 867.93a1.6 1.6 0 1 0 3.2 0a1.6 1.6 0 1 0 -3.2 0M274.51 868.65a1.6 1.6 0 1 0 3.2 0a1.6 1.6 0 1 0 -3.2 0M274.51 869.39a1.6 1.6 0 1 0 3.2 0a1.6 1.6 0 1 0 -3.2 0M274.51 870.15a1.6 1.6 0 1 0 3.2 0a1.6 1.6 0 1 0 -3.2 0M274.51 870.93a1.6 1.6 0 1 0 3.2 0a1.6 1.6 0 1 0 -3.2 0M274.51 871.75a1.6 1.6 0 1 0 3.2 0a1.6 1.6 0 1 0 -3.2 0M274.51 872.61a1.6 1.6 0 1 0 3.2 0a1.6 1.6 0 1 0 -3.2 0M274.51 873.51a1.6 1.6 0 1 0 3.2 0a1.6 1.6 0 1 0 -3.2 0M274.51 874.48a1.6 1.6 0 1 0 3.2 0a1.6 1.6 0 1 0 -3.2 0M274.51 875.52a1.6 1.6 0 1 0 3.2 0a1.6 1.6 0 1 0 -3.2 0M274.51 876.64a1.6 1.6 0 1 0 3.2 0a1.6 1.6 0 1 0 -3.2 0M274.51 877.87a1.6 1.6 0 1 0 3.2 0a1.6 1.6 0 1 0 -3.2 0M274.51 879.22a1.6 1.6 0 1 0 3.2 0a1.6 1.6 0 1 0 -3.2 0M274.51 880.73a1.6 1.6 0 1 0 3.2 0a1.6 1.6 0 1 0 -3.2 0M274.51 882.43a1.6 1.6 0 1 0 3.2 0a1.6 1.6 0 1 0 -3.2 0M274.51 884.37a1.6 1.6 0 1 0 3.2 0a1.6 1.6 0 1 0 -3.2 0M274.51 900.01a1.6 1.6 0 1 0 3.2 0a1.6 1.6 0 1 0 -3.2 0M274.51 905.83a1.6 1.6 0 1 0 3.2 0a1.6 1.6 0 1 0 -3.2 0M284.87 758.05a1.6 1.6 0 1 0 3.2 0a1.6 1.6 0 1 0 -3.2 0M284.87 759.89a1.6 1.6 0 1 0 3.2 0a1.6 1.6 0 1 0 -3.2 0M284.87 761.73a1.6 1.6 0 1 0 3.2 0a1.6 1.6 0 1 0 -3.2 0M284.87 766.94a1.6 1.6 0 1 0 3.2 0a1.6 1.6 0 1 0 -3.2 0M284.87 777.37a1.6 1.6 0 1 0 3.2 0a1.6 1.6 0 1 0 -3.2 0M284.87 780.13a1.6 1.6 0 1 0 3.2 0a1.6 1.6 0 1 0 -3.2 0M284.87 782.43a1.6 1.6 0 1 0 3.2 0a1.6 1.6 0 1 0 -3.2 0M284.87 784.73a1.6 1.6 0 1 0 3.2 0a1.6 1.6 0 1 0 -3.2 0M284.87 786.57a1.6 1.6 0 1 0 3.2 0a1.6 1.6 0 1 0 -3.2 0M284.87 788.56a1.6 1.6 0 1 0 3.2 0a1.6 1.6 0 1 0 -3.2 0M284.87 791.16a1.6 1.6 0 1 0 3.2 0a1.6 1.6 0 1 0 -3.2 0M284.87 861.38a1.6 1.6 0 1 0 3.2 0a1.6 1.6 0 1 0 -3.2 0M284.87 863.68a1.6 1.6 0 1 0 3.2 0a1.6 1.6 0 1 0 -3.2 0M284.87 865.97a1.6 1.6 0 1 0 3.2 0a1.6 1.6 0 1 0 -3.2 0M284.87 868.27a1.6 1.6 0 1 0 3.2 0a1.6 1.6 0 1 0 -3.2 0M284.87 870.57a1.6 1.6 0 1 0 3.2 0a1.6 1.6 0 1 0 -3.2 0M284.87 872.87a1.6 1.6 0 1 0 3.2 0a1.6 1.6 0 1 0 -3.2 0M284.87 875.17a1.6 1.6 0 1 0 3.2 0a1.6 1.6 0 1 0 -3.2 0M284.87 877.47a1.6 1.6 0 1 0 3.2 0a1.6 1.6 0 1 0 -3.2 0M284.87 880.69a1.6 1.6 0 1 0 3.2 0a1.6 1.6 0 1 0 -3.2 0M295.22 748.39a1.6 1.6 0 1 0 3.2 0a1.6 1.6 0 1 0 -3.2 0M295.22 780.13a1.6 1.6 0 1 0 3.2 0a1.6 1.6 0 1 0 -3.2 0M295.22 783.19a1.6 1.6 0 1 0 3.2 0a1.6 1.6 0 1 0 -3.2 0M295.22 785.49a1.6 1.6 0 1 0 3.2 0a1.6 1.6 0 1 0 -3.2 0M295.22 787.79a1.6 1.6 0 1 0 3.2 0a1.6 1.6 0 1 0 -3.2 0M295.22 790.24a1.6 1.6 0 1 0 3.2 0a1.6 1.6 0 1 0 -3.2 0M295.22 865.05a1.6 1.6 0 1 0 3.2 0a1.6 1.6 0 1 0 -3.2 0M295.22 867.51a1.6 1.6 0 1 0 3.2 0a1.6 1.6 0 1 0 -3.2 0M295.22 869.65a1.6 1.6 0 1 0 3.2 0a1.6 1.6 0 1 0 -3.2 0M295.22 902.77a1.6 1.6 0 1 0 3.2 0a1.6 1.6 0 1 0 -3.2 0M305.58 755.45a1.6 1.6 0 1 0 3.2 0a1.6 1.6 0 1 0 -3.2 0M305.58 757.13a1.6 1.6 0 1 0 3.2 0a1.6 1.6 0 1 0 -3.2 0M305.58 758.05a1.6 1.6 0 1 0 3.2 0a1.6 1.6 0 1 0 -3.2 0M305.58 768.17a1.6 1.6 0 1 0 3.2 0a1.6 1.6 0 1 0 -3.2 0M305.58 776.91a1.6 1.6 0 1 0 3.2 0a1.6 1.6 0 1 0 -3.2 0M305.58 781.35a1.6 1.6 0 1 0 3.2 0a1.6 1.6 0 1 0 -3.2 0M305.58 876.09a1.6 1.6 0 1 0 3.2 0a1.6 1.6 0 1 0 -3.2 0M315.94 772.31a1.6 1.6 0 1 0 3.2 0a1.6 1.6 0 1 0 -3.2 0M326.3 871.95a1.6 1.6 0 1 0 3.2 0a1.6 1.6 0 1 0 -3.2 0M336.66 892.65a1.6 1.6 0 1 0 3.2 0a1.6 1.6 0 1 0 -3.2 0M347.01 861.53a1.6 1.6 0 1 0 3.2 0a1.6 1.6 0 1 0 -3.2 0" fill="none" stroke="#000" stroke-width="0.9"/>
<path d="M38.9 948.02H430.5M38.9 917.34H430.5M38.9 886.66H430.5M38.9 855.98H430.5M38.9 840.64H430.5M38.9 825.3H430.5M38.9 809.96H430.5M38.9 794.62H430.5M38.9 763.94H430.5M38.9 733.26H430.5M38.9 702.58H430.5" stroke="#e25050" stroke-width="1.1" stroke-dasharray="1.8 1.66" fill="none"/>
<rect x="39.2" y="692.9" width="391.3" height="264.9" fill="none" stroke="#5a5a5a" stroke-width="1.15"/>
<path d="M58.59 957.8v4.5M68.95 957.8v4.5M79.31 957.8v4.5M89.66 957.8v4.5M100.02 957.8v4.5M110.38 957.8v4.5M120.74 957.8v4.5M131.1 957.8v4.5M141.45 957.8v4.5M151.81 957.8v4.5M162.17 957.8v4.5M172.53 957.8v4.5M182.89 957.8v4.5M193.24 957.8v4.5M203.6 957.8v4.5M213.96 957.8v4.5M224.32 957.8v4.5M234.68 957.8v4.5M245.03 957.8v4.5M255.39 957.8v4.5M265.75 957.8v4.5M276.11 957.8v4.5M286.47 957.8v4.5M296.82 957.8v4.5M307.18 957.8v4.5M317.54 957.8v4.5M327.9 957.8v4.5M338.26 957.8v4.5M348.61 957.8v4.5M358.97 957.8v4.5M369.33 957.8v4.5M379.69 957.8v4.5M390.05 957.8v4.5M400.4 957.8v4.5M410.76 957.8v4.5M39.2 902h-4.5M39.2 825.3h-4.5M39.2 748.6h-4.5" stroke="#555" stroke-width="1" fill="none"/>
<g font-size="12" text-anchor="middle">
<text x="58.59" y="973.6">−2.4</text>
<text x="100.02" y="973.6">−1.6</text>
<text x="131.1" y="973.6">−1</text>
<text x="162.17" y="973.6">−0.4</text>
<text x="193.24" y="973.6">0.2</text>
<text x="224.32" y="973.6">0.8</text>
<text x="255.39" y="973.6">1.4</text>
<text x="286.47" y="973.6">2</text>
<text x="317.54" y="973.6">2.6</text>
<text x="348.61" y="973.6">3.2</text>
<text x="379.69" y="973.6">3.8</text>
<text x="410.76" y="973.6">5.2</text>
<text transform="translate(29.5 902) rotate(-90)">−5</text>
<text transform="translate(29.5 825.3) rotate(-90)">0</text>
<text transform="translate(29.5 748.6) rotate(-90)">5</text>
<text x="234.85" y="989.2" font-size="12.2">standardized dbh</text>
<text transform="translate(13.2 825.3) rotate(-90)">Residuals (response) (m)</text>
</g>
<text x="234.85" y="683" font-size="17.5" font-weight="bold" text-anchor="middle">silver birch</text>
</g>
</svg></body></html>
